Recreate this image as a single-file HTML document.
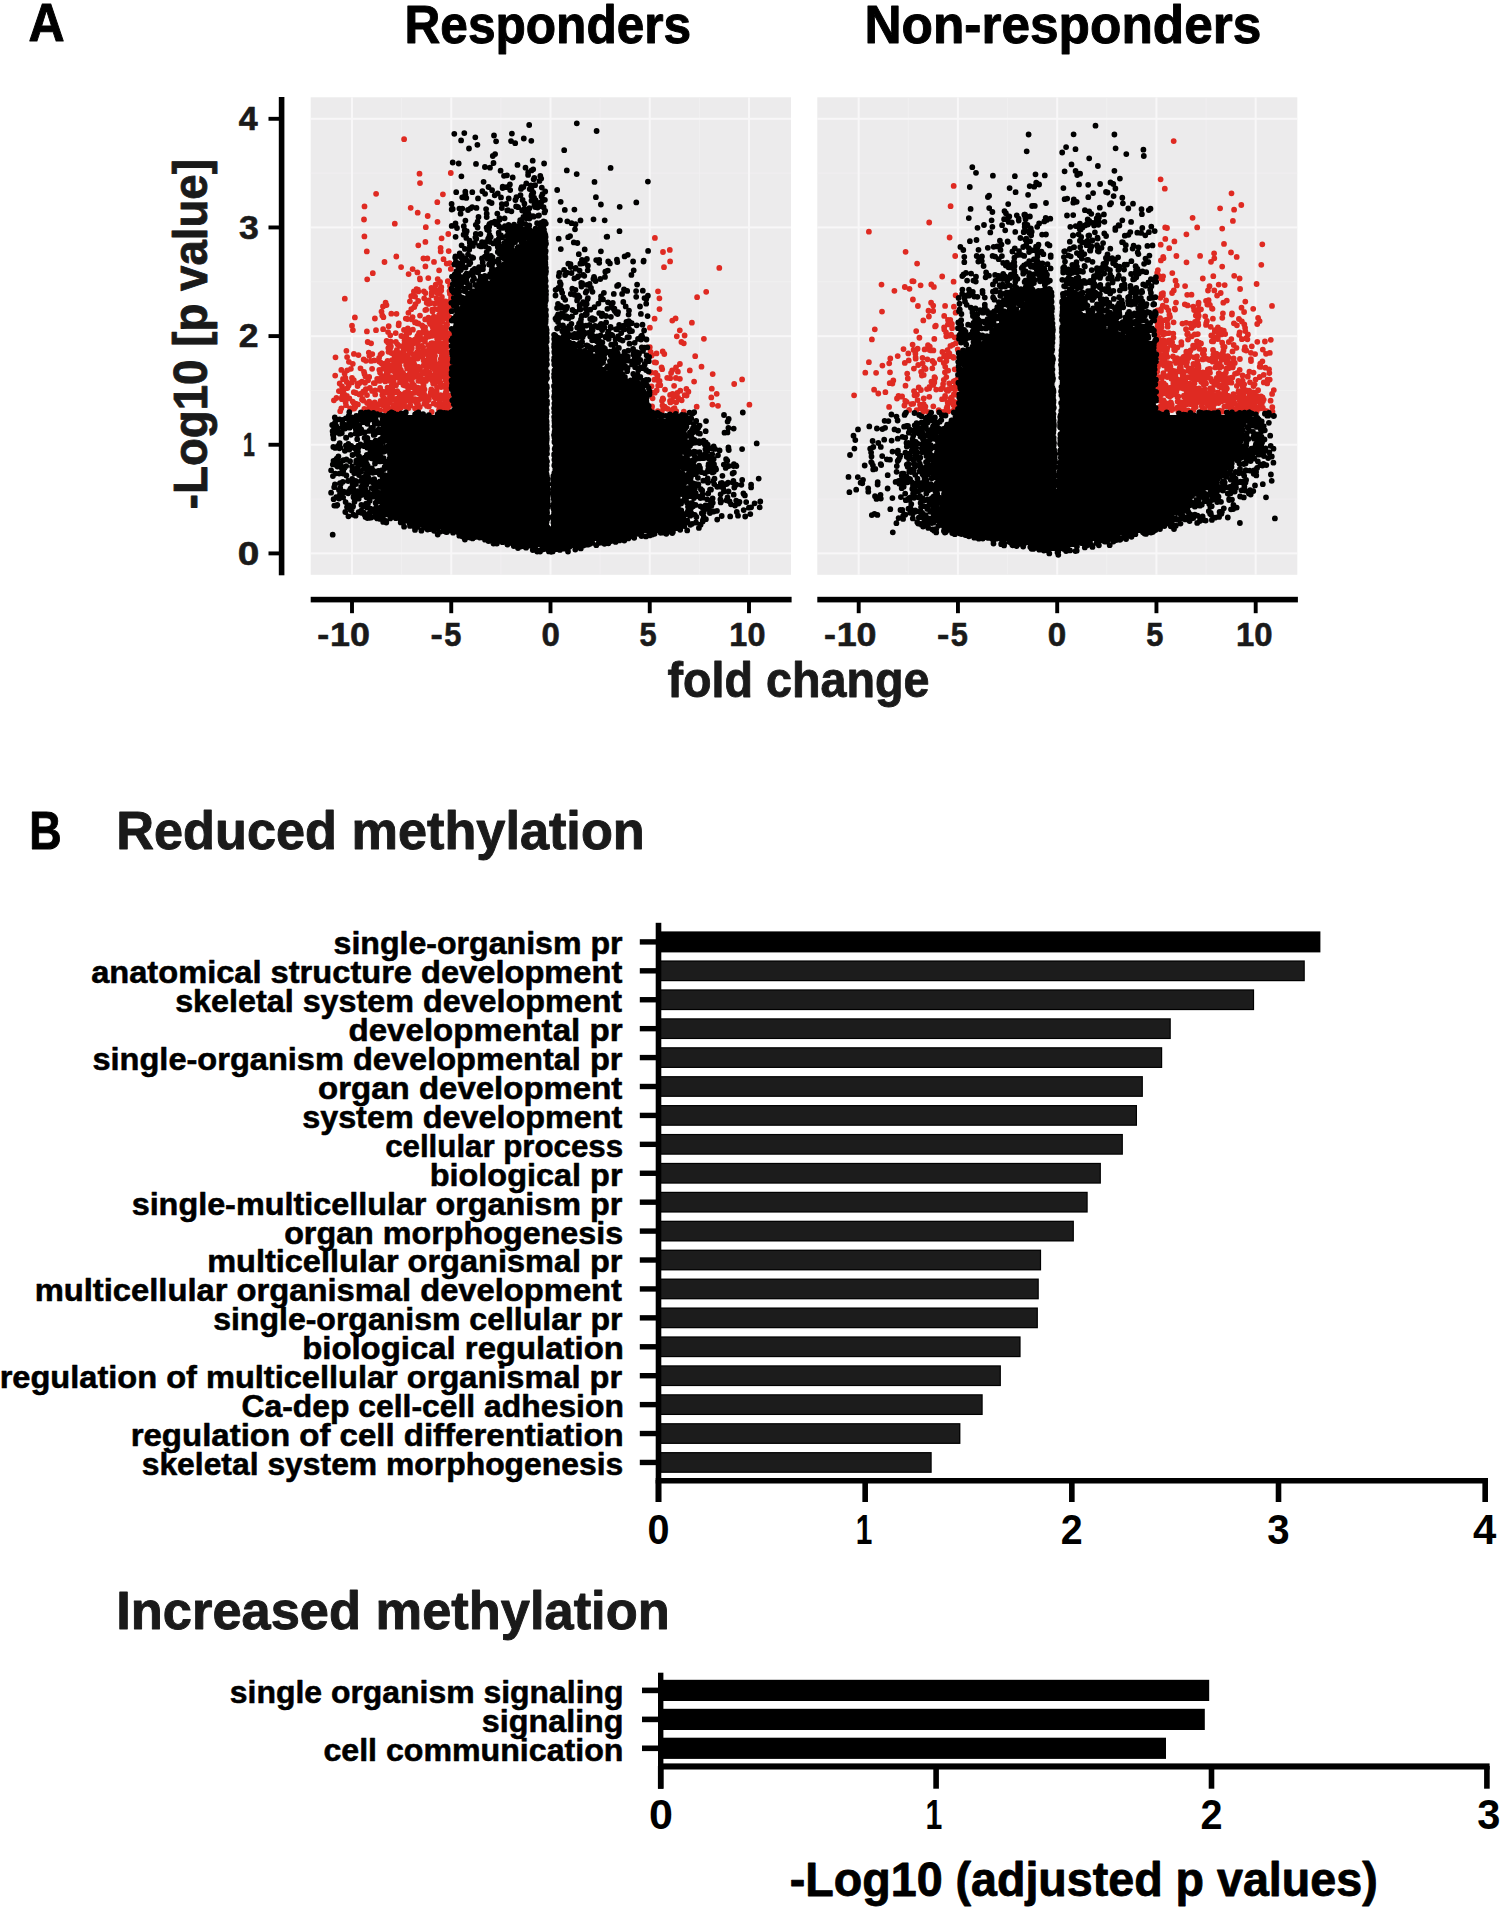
<!DOCTYPE html>
<html lang="en"><head><meta charset="utf-8"><title>Figure</title><style>html,body{margin:0;padding:0;background:#fff;width:1500px;height:1910px;overflow:hidden}svg{display:block;position:absolute;left:0;top:0}text{font-family:"Liberation Sans",sans-serif;font-weight:bold}</style></head><body>
<svg width="1500" height="1910" viewBox="0 0 1500 1910" font-family="Liberation Sans, sans-serif" font-weight="bold">
<rect x="0.00" y="0.00" width="1500.00" height="1910.00" fill="#fff"/>
<rect x="310.70" y="97.30" width="480.30" height="477.50" fill="#ecebec"/>
<g fill="#f1f0f1"><rect x="401.18" y="97.3" width="0.9" height="477.50"/><rect x="500.43" y="97.3" width="0.9" height="477.50"/><rect x="599.67" y="97.3" width="0.9" height="477.50"/><rect x="698.92" y="97.3" width="0.9" height="477.50"/><rect x="310.7" y="498.62" width="480.30" height="0.9"/><rect x="310.7" y="389.97" width="480.30" height="0.9"/><rect x="310.7" y="281.32" width="480.30" height="0.9"/><rect x="310.7" y="172.67" width="480.30" height="0.9"/></g>
<g fill="#f8f7f8"><rect x="351.00" y="97.3" width="2.0" height="477.50"/><rect x="450.25" y="97.3" width="2.0" height="477.50"/><rect x="549.50" y="97.3" width="2.0" height="477.50"/><rect x="648.75" y="97.3" width="2.0" height="477.50"/><rect x="748.00" y="97.3" width="2.0" height="477.50"/><rect x="310.7" y="552.40" width="480.30" height="2.0"/><rect x="310.7" y="443.75" width="480.30" height="2.0"/><rect x="310.7" y="335.10" width="480.30" height="2.0"/><rect x="310.7" y="226.45" width="480.30" height="2.0"/><rect x="310.7" y="117.80" width="480.30" height="2.0"/></g>
<rect x="817.30" y="97.30" width="480.00" height="477.50" fill="#ecebec"/>
<g fill="#f1f0f1"><rect x="907.88" y="97.3" width="0.9" height="477.50"/><rect x="1007.12" y="97.3" width="0.9" height="477.50"/><rect x="1106.38" y="97.3" width="0.9" height="477.50"/><rect x="1205.62" y="97.3" width="0.9" height="477.50"/><rect x="817.3" y="498.62" width="480.00" height="0.9"/><rect x="817.3" y="389.97" width="480.00" height="0.9"/><rect x="817.3" y="281.32" width="480.00" height="0.9"/><rect x="817.3" y="172.67" width="480.00" height="0.9"/></g>
<g fill="#f8f7f8"><rect x="857.70" y="97.3" width="2.0" height="477.50"/><rect x="956.95" y="97.3" width="2.0" height="477.50"/><rect x="1056.20" y="97.3" width="2.0" height="477.50"/><rect x="1155.45" y="97.3" width="2.0" height="477.50"/><rect x="1254.70" y="97.3" width="2.0" height="477.50"/><rect x="817.3" y="552.40" width="480.00" height="2.0"/><rect x="817.3" y="443.75" width="480.00" height="2.0"/><rect x="817.3" y="335.10" width="480.00" height="2.0"/><rect x="817.3" y="226.45" width="480.00" height="2.0"/><rect x="817.3" y="117.80" width="480.00" height="2.0"/></g>
<g fill="none" stroke-linecap="round" stroke-width="5.8"><path stroke="#df2a22" d="M448.3 234.0h0M364.4 236.4h0M441.6 238.3h0M425.4 241.9h0M418.3 245.3h0M440.6 247.9h0M366.8 251.4h0M440.7 251.4h0M448.7 251.1h0M396.3 256.5h0M423.4 258.5h0M427.4 258.4h0M443.5 259.2h0M384.5 262.0h0M434.0 261.9h0M446.7 263.6h0M449.7 263.1h0M425.4 266.4h0M401.1 267.1h0M450.8 268.9h0M412.6 269.1h0M439.1 270.3h0M417.4 272.4h0M372.8 273.2h0M408.6 274.1h0M419.9 278.5h0M428.3 278.1h0M367.2 279.3h0M420.0 279.4h0M437.7 279.1h0M440.1 281.8h0M447.8 281.2h0M439.6 282.7h0M435.7 284.7h0M450.0 285.6h0M450.2 286.0h0M450.2 286.6h0M431.4 287.9h0M441.3 287.2h0M440.1 288.8h0M416.5 289.2h0M417.9 289.7h0M434.6 289.3h0M441.2 290.5h0M413.9 291.4h0M418.3 291.4h0M423.9 291.3h0M431.8 291.8h0M449.5 291.1h0M437.3 292.8h0M425.5 293.1h0M431.8 293.7h0M439.7 293.2h0M449.9 293.7h0M450.8 293.3h0M431.6 295.3h0M411.2 296.2h0M415.1 296.6h0M441.9 297.0h0M451.1 297.2h0M697.1 297.2h0M344.8 298.7h0M424.2 298.3h0M436.5 298.2h0M659.4 298.3h0M450.9 299.6h0M418.2 301.0h0M428.8 300.4h0M409.9 301.3h0M439.9 301.1h0M445.7 301.5h0M385.6 302.7h0M426.7 302.8h0M437.2 302.8h0M437.2 302.3h0M441.9 302.2h0M428.6 303.9h0M431.3 303.1h0M434.9 303.4h0M442.4 303.2h0M448.3 303.8h0M451.1 303.5h0M415.5 304.2h0M386.5 305.1h0M440.0 305.2h0M441.8 305.5h0M444.8 305.6h0M383.0 306.5h0M414.3 307.0h0M447.3 306.6h0M449.0 306.9h0M447.4 308.0h0M440.8 308.0h0M449.6 309.0h0M411.3 309.2h0M426.2 309.7h0M432.2 309.6h0M434.6 309.1h0M437.7 309.3h0M443.1 309.2h0M659.5 309.1h0M425.3 310.1h0M448.9 310.9h0M381.5 311.6h0M432.6 311.4h0M440.5 311.2h0M443.7 311.4h0M447.1 311.2h0M408.4 312.8h0M391.3 313.7h0M396.5 313.8h0M439.1 314.9h0M440.7 314.4h0M382.3 315.4h0M420.0 315.6h0M439.8 315.2h0M445.3 315.5h0M447.3 315.6h0M447.5 315.4h0M433.8 316.7h0M444.2 316.1h0M354.9 317.4h0M383.4 317.2h0M412.6 317.1h0M428.5 317.7h0M437.8 317.7h0M440.5 317.9h0M449.5 317.2h0M374.9 318.5h0M405.8 318.6h0M428.3 318.6h0M433.7 318.2h0M654.6 318.7h0M675.6 318.4h0M407.4 319.0h0M411.9 319.4h0M425.2 319.4h0M442.6 319.9h0M443.9 319.0h0M448.5 319.9h0M448.9 319.2h0M429.3 320.7h0M435.0 320.4h0M443.0 320.1h0M672.3 320.6h0M433.9 321.7h0M433.3 321.3h0M435.6 321.6h0M442.5 321.9h0M415.0 322.4h0M415.7 322.1h0M429.5 322.4h0M435.4 322.5h0M438.0 322.6h0M438.6 323.0h0M691.9 322.7h0M398.8 323.5h0M417.1 323.3h0M418.3 323.5h0M430.3 323.5h0M430.3 323.9h0M439.9 323.2h0M446.7 324.8h0M447.1 324.6h0M352.0 325.7h0M398.6 325.3h0M422.0 325.3h0M446.6 325.4h0M388.7 326.2h0M422.7 326.3h0M432.5 326.8h0M438.5 326.4h0M440.4 326.9h0M425.1 327.3h0M434.1 327.2h0M436.1 327.2h0M446.5 327.2h0M649.9 327.7h0M407.8 328.3h0M423.6 328.6h0M435.9 328.9h0M440.5 328.6h0M443.0 328.0h0M383.1 329.2h0M404.0 329.9h0M412.9 329.7h0M434.2 329.7h0M439.2 329.5h0M445.8 329.4h0M352.9 330.1h0M376.0 330.2h0M423.9 330.6h0M445.8 330.2h0M679.8 330.3h0M366.9 331.4h0M425.8 331.4h0M432.5 331.6h0M445.7 331.9h0M388.1 332.1h0M409.2 332.7h0M419.0 332.8h0M421.9 332.6h0M434.2 332.5h0M446.4 332.6h0M395.7 333.1h0M406.6 333.9h0M429.7 333.7h0M440.0 333.7h0M442.2 333.6h0M451.2 333.4h0M426.4 334.7h0M427.4 334.5h0M436.0 334.2h0M446.0 334.7h0M390.3 335.3h0M406.4 335.1h0M417.7 335.7h0M420.2 335.5h0M432.1 335.8h0M684.6 335.5h0M401.3 336.0h0M417.2 336.6h0M428.8 336.5h0M439.3 336.0h0M441.8 336.4h0M450.9 336.5h0M676.8 336.3h0M417.6 337.6h0M441.2 337.1h0M442.2 337.5h0M447.7 337.4h0M419.6 338.3h0M419.9 338.4h0M425.4 338.4h0M437.1 338.8h0M438.3 338.5h0M703.9 338.8h0M405.8 339.4h0M408.7 339.4h0M415.3 339.5h0M417.5 340.0h0M438.7 339.1h0M386.6 340.9h0M404.5 340.2h0M411.6 340.4h0M413.0 340.8h0M419.7 340.1h0M445.7 340.8h0M446.4 340.9h0M390.8 341.6h0M395.9 341.9h0M414.8 341.5h0M416.9 341.9h0M424.9 341.5h0M446.7 341.6h0M367.7 342.0h0M388.0 342.4h0M404.6 342.6h0M415.1 342.3h0M681.4 342.0h0M371.1 343.3h0M410.4 343.3h0M412.7 343.8h0M431.1 343.4h0M432.0 343.1h0M434.1 343.6h0M436.2 344.0h0M441.1 343.5h0M683.8 343.3h0M397.5 344.3h0M404.2 345.0h0M405.0 344.4h0M435.0 344.6h0M439.4 344.1h0M446.0 344.8h0M389.3 345.1h0M399.4 345.9h0M406.0 345.7h0M407.5 345.3h0M418.0 345.1h0M421.5 345.8h0M428.4 345.2h0M430.1 345.7h0M438.9 345.7h0M442.3 345.6h0M389.4 346.6h0M390.9 346.4h0M435.1 346.0h0M442.6 346.9h0M445.3 346.6h0M447.5 346.5h0M390.6 347.4h0M404.8 347.4h0M406.5 347.5h0M411.8 348.0h0M423.1 347.7h0M435.3 347.4h0M439.9 348.0h0M440.2 347.7h0M441.7 347.8h0M445.9 347.3h0M649.8 347.2h0M388.3 348.1h0M403.5 348.5h0M405.6 348.8h0M407.3 348.5h0M411.7 348.4h0M418.2 348.3h0M396.9 349.8h0M428.9 349.2h0M433.5 349.8h0M435.3 350.0h0M435.6 349.8h0M346.4 350.8h0M437.2 350.8h0M440.7 350.5h0M442.9 350.9h0M443.7 350.6h0M388.5 351.8h0M409.6 351.1h0M410.7 351.5h0M427.1 351.7h0M440.0 351.6h0M650.6 352.0h0M662.7 351.4h0M368.8 352.6h0M391.5 353.0h0M398.9 353.0h0M403.6 352.7h0M410.5 352.5h0M417.0 352.5h0M420.3 352.7h0M425.2 352.3h0M448.8 352.3h0M353.9 353.9h0M381.9 353.3h0M393.6 353.2h0M400.8 353.5h0M423.9 353.3h0M428.9 353.7h0M656.5 353.4h0M664.3 354.0h0M372.3 354.1h0M380.5 354.6h0M396.2 354.8h0M413.6 354.4h0M416.0 354.4h0M427.9 354.8h0M429.0 354.3h0M430.8 354.8h0M445.6 354.0h0M358.5 355.1h0M369.4 355.8h0M399.7 355.7h0M404.1 356.0h0M407.9 355.3h0M407.7 355.1h0M417.0 355.9h0M419.6 355.3h0M420.8 355.5h0M433.2 355.4h0M435.0 355.8h0M441.7 355.4h0M651.7 355.5h0M400.7 356.7h0M418.0 356.5h0M417.4 356.8h0M422.5 356.7h0M446.7 357.0h0M695.2 356.2h0M335.5 357.3h0M347.1 357.1h0M379.1 357.8h0M394.5 357.1h0M396.6 357.9h0M398.7 357.4h0M417.7 357.8h0M417.8 357.8h0M443.8 357.1h0M396.9 358.2h0M402.2 358.6h0M409.3 359.0h0M416.0 358.2h0M417.7 358.5h0M431.4 358.4h0M440.8 358.9h0M447.8 358.5h0M363.7 359.4h0M401.0 359.8h0M406.2 359.4h0M412.2 359.4h0M428.1 359.5h0M434.5 359.1h0M444.8 359.2h0M446.6 359.0h0M450.9 359.9h0M365.9 360.8h0M371.1 360.9h0M374.1 360.4h0M392.0 360.1h0M404.2 360.6h0M409.5 360.4h0M409.0 360.7h0M423.6 360.4h0M444.5 360.0h0M348.9 361.8h0M379.2 361.4h0M387.6 361.0h0M401.3 361.1h0M425.1 361.1h0M434.8 361.4h0M442.2 361.6h0M380.7 362.6h0M395.8 362.4h0M429.4 362.5h0M432.9 362.3h0M433.3 362.3h0M440.6 362.7h0M444.5 363.0h0M654.6 362.3h0M656.1 362.6h0M352.8 363.8h0M381.7 363.5h0M385.3 363.3h0M394.4 363.6h0M413.9 363.1h0M430.0 363.4h0M431.0 363.9h0M432.7 363.9h0M448.3 363.4h0M388.2 364.9h0M396.6 364.7h0M397.4 364.0h0M411.0 364.1h0M413.1 364.8h0M426.7 365.0h0M431.8 364.1h0M437.8 364.9h0M437.4 364.8h0M679.9 364.0h0M398.7 365.4h0M399.5 365.8h0M406.1 365.1h0M410.5 365.7h0M414.8 365.5h0M423.6 365.4h0M438.6 365.8h0M446.2 365.7h0M451.0 365.8h0M388.0 366.3h0M390.6 366.6h0M391.1 366.0h0M397.6 367.0h0M407.6 366.3h0M412.3 366.3h0M418.6 366.8h0M425.7 366.2h0M430.2 366.5h0M440.7 366.6h0M444.5 366.4h0M444.1 366.7h0M701.5 366.7h0M391.5 367.5h0M394.1 367.9h0M414.3 367.3h0M414.6 367.2h0M415.6 367.5h0M416.3 367.9h0M420.1 367.8h0M432.1 367.3h0M435.4 367.1h0M438.9 367.4h0M446.6 367.5h0M448.9 367.3h0M449.5 367.5h0M661.6 367.3h0M676.0 367.3h0M350.9 368.8h0M360.5 368.3h0M372.1 368.8h0M383.1 368.5h0M391.5 369.0h0M394.0 368.4h0M407.1 368.2h0M407.4 368.6h0M410.4 368.6h0M417.3 368.1h0M441.1 368.9h0M444.5 368.6h0M448.4 368.8h0M341.3 369.9h0M379.3 369.8h0M389.6 369.8h0M396.6 369.3h0M400.9 369.9h0M413.3 369.1h0M419.2 369.5h0M426.0 369.7h0M434.5 369.5h0M662.2 369.2h0M347.2 370.3h0M392.2 370.6h0M393.4 371.0h0M395.8 370.8h0M437.6 370.4h0M437.7 370.1h0M441.6 370.5h0M443.9 370.4h0M672.2 370.3h0M689.8 370.4h0M364.0 371.9h0M386.7 371.5h0M388.3 371.7h0M398.1 371.1h0M399.7 371.8h0M411.3 371.4h0M417.1 371.8h0M423.4 371.9h0M677.9 371.7h0M380.0 372.6h0M396.7 372.6h0M403.1 372.9h0M414.5 372.2h0M415.4 372.0h0M426.5 372.0h0M429.3 372.5h0M438.1 372.7h0M449.3 372.7h0M450.9 372.4h0M651.1 372.5h0M655.5 372.9h0M344.6 373.4h0M364.5 373.9h0M386.8 373.9h0M395.8 373.9h0M399.2 373.7h0M410.1 373.0h0M422.7 373.6h0M423.3 373.1h0M423.5 373.4h0M444.0 373.6h0M671.1 373.0h0M399.6 374.7h0M426.5 374.4h0M434.7 374.5h0M437.8 374.1h0M712.7 374.1h0M335.2 375.6h0M400.4 375.3h0M403.4 375.7h0M407.2 375.7h0M416.8 375.0h0M418.9 375.7h0M450.0 375.4h0M657.5 375.4h0M365.5 376.5h0M369.2 376.9h0M383.4 376.1h0M394.3 376.8h0M401.1 377.0h0M402.7 376.4h0M405.2 376.0h0M415.3 376.6h0M419.7 376.0h0M430.6 376.6h0M434.9 376.7h0M436.6 376.3h0M438.6 376.1h0M439.8 376.1h0M439.2 376.1h0M443.4 376.5h0M444.6 376.2h0M657.6 376.6h0M345.4 378.0h0M352.0 377.9h0M385.1 378.0h0M390.1 377.2h0M391.4 377.3h0M392.8 377.5h0M398.0 377.6h0M407.5 377.2h0M413.0 377.3h0M416.9 377.1h0M419.2 377.2h0M421.0 377.1h0M445.8 377.2h0M667.2 377.8h0M675.9 377.9h0M343.0 379.0h0M377.2 378.9h0M380.8 378.0h0M381.0 378.7h0M401.4 379.0h0M409.3 378.8h0M412.0 378.7h0M429.6 378.8h0M431.3 378.4h0M435.1 378.5h0M436.8 378.3h0M439.3 378.9h0M670.2 378.2h0M679.9 378.8h0M381.1 380.0h0M384.9 379.7h0M393.7 379.1h0M411.2 379.7h0M424.8 379.6h0M425.1 379.7h0M445.6 380.0h0M446.4 379.9h0M654.4 379.7h0M742.1 379.4h0M353.8 380.1h0M368.1 380.3h0M379.8 380.9h0M392.0 380.9h0M419.0 380.3h0M418.4 380.8h0M422.5 380.2h0M425.9 380.9h0M447.9 381.0h0M449.1 380.6h0M658.3 380.5h0M346.7 381.9h0M362.0 381.7h0M385.3 381.4h0M390.1 381.1h0M400.2 381.1h0M401.1 381.1h0M405.0 381.7h0M420.7 381.1h0M432.6 381.0h0M437.1 381.5h0M659.6 381.0h0M694.1 381.6h0M352.0 382.4h0M365.0 382.8h0M393.7 382.2h0M400.0 382.0h0M412.1 383.0h0M434.5 382.8h0M434.2 382.3h0M440.4 382.7h0M339.7 383.5h0M357.8 383.8h0M359.3 383.2h0M373.8 383.1h0M374.8 383.2h0M404.4 383.3h0M404.2 383.6h0M405.8 383.1h0M433.2 383.6h0M447.0 383.9h0M391.8 385.0h0M404.8 384.1h0M406.4 384.3h0M423.6 384.9h0M447.2 384.9h0M448.2 384.2h0M734.2 384.0h0M348.7 385.6h0M396.0 385.2h0M403.4 385.0h0M404.9 385.5h0M405.1 385.1h0M406.5 385.7h0M414.0 385.2h0M423.2 385.7h0M445.4 385.1h0M447.4 385.9h0M658.2 385.6h0M660.3 385.2h0M674.1 385.8h0M342.0 386.3h0M357.6 386.0h0M408.2 386.6h0M411.1 386.9h0M651.5 386.3h0M387.5 387.6h0M392.5 387.1h0M411.7 387.2h0M417.9 387.6h0M423.6 387.3h0M437.0 387.4h0M441.1 387.0h0M445.7 387.2h0M347.4 388.1h0M369.8 388.0h0M380.2 388.0h0M389.5 388.6h0M408.1 388.3h0M421.3 388.5h0M686.4 389.0h0M711.8 388.7h0M365.8 389.2h0M380.6 389.9h0M387.8 389.7h0M388.6 389.8h0M415.1 389.9h0M416.8 389.6h0M419.5 389.1h0M424.5 389.5h0M431.3 389.4h0M446.2 389.5h0M447.5 389.2h0M665.0 389.6h0M343.5 390.2h0M372.1 390.9h0M375.2 390.4h0M389.5 390.0h0M446.4 390.9h0M656.7 390.5h0M680.3 390.7h0M338.9 391.1h0M363.5 391.5h0M364.9 391.4h0M384.0 391.8h0M387.3 391.0h0M393.2 391.0h0M397.2 391.1h0M418.5 391.1h0M421.8 391.0h0M434.3 391.7h0M436.6 391.0h0M688.4 391.7h0M353.8 392.2h0M386.1 392.6h0M394.7 392.4h0M409.4 392.9h0M414.3 392.8h0M430.8 392.1h0M431.6 392.1h0M434.1 392.9h0M445.6 392.9h0M652.7 392.7h0M654.9 392.7h0M677.3 392.8h0M342.7 393.7h0M356.0 393.0h0M361.4 393.4h0M388.9 393.2h0M399.0 393.3h0M405.0 393.0h0M418.8 393.3h0M424.1 393.8h0M431.3 393.0h0M716.7 393.8h0M344.9 394.8h0M359.4 394.4h0M375.2 394.4h0M382.3 394.9h0M404.6 394.7h0M422.7 394.8h0M430.2 394.9h0M435.6 394.8h0M446.1 394.1h0M670.1 394.9h0M672.6 394.0h0M346.9 395.8h0M367.0 395.1h0M390.7 395.1h0M392.0 396.0h0M402.0 395.1h0M410.9 395.3h0M433.7 395.2h0M440.5 395.1h0M445.8 395.3h0M449.1 395.5h0M684.7 395.2h0M686.6 395.6h0M344.2 396.1h0M389.9 396.8h0M401.3 396.1h0M424.9 396.2h0M436.2 396.7h0M447.0 396.5h0M673.3 396.4h0M342.0 397.2h0M383.3 397.6h0M406.9 397.1h0M434.7 397.6h0M436.9 397.8h0M442.2 397.1h0M678.1 397.6h0M711.3 397.4h0M336.4 398.0h0M341.9 398.8h0M343.0 398.7h0M347.0 398.3h0M348.5 398.4h0M349.4 398.3h0M384.3 398.5h0M391.5 398.7h0M397.6 399.0h0M397.0 398.6h0M402.0 398.0h0M422.8 398.5h0M427.3 398.5h0M428.2 398.8h0M435.7 398.7h0M438.2 398.6h0M442.9 398.8h0M443.0 398.7h0M652.6 398.3h0M662.8 398.3h0M341.9 399.2h0M362.3 399.0h0M362.0 399.6h0M391.5 399.9h0M400.3 399.2h0M411.6 399.2h0M414.9 399.2h0M418.8 399.4h0M420.1 399.1h0M428.9 399.1h0M439.9 399.2h0M443.7 399.2h0M663.2 399.2h0M681.4 399.9h0M333.9 400.3h0M363.2 400.5h0M380.6 400.9h0M388.1 400.5h0M396.6 400.6h0M400.3 400.2h0M406.3 400.7h0M411.5 400.5h0M413.5 400.5h0M415.4 400.3h0M427.1 401.0h0M428.5 400.1h0M448.0 400.5h0M662.0 400.8h0M670.0 400.9h0M681.7 400.3h0M352.7 401.6h0M369.1 401.6h0M385.8 401.5h0M387.8 401.1h0M409.4 401.1h0M416.7 401.3h0M672.4 401.3h0M345.6 402.2h0M353.7 402.9h0M369.6 402.5h0M374.7 402.4h0M389.9 402.5h0M396.1 402.7h0M400.5 403.0h0M416.3 402.6h0M425.5 402.8h0M447.2 402.2h0M670.4 402.4h0M676.2 402.3h0M356.4 403.9h0M367.1 403.1h0M381.6 403.3h0M382.0 403.7h0M404.1 403.2h0M416.6 403.1h0M418.0 403.9h0M424.4 403.8h0M433.7 403.4h0M439.5 403.5h0M445.0 403.4h0M449.9 403.7h0M450.3 403.9h0M357.9 404.4h0M379.0 404.5h0M383.5 404.5h0M402.9 404.8h0M436.6 404.8h0M441.4 404.7h0M448.0 404.6h0M712.4 404.6h0M749.4 404.7h0M346.0 405.2h0M373.0 405.2h0M383.5 405.2h0M393.8 405.7h0M410.3 405.4h0M426.7 405.0h0M427.0 405.9h0M438.9 405.4h0M449.7 405.2h0M662.5 405.4h0M718.0 405.8h0M355.2 406.9h0M371.3 406.5h0M376.1 406.8h0M387.3 406.1h0M395.7 406.4h0M400.2 406.8h0M401.0 406.2h0M406.3 406.9h0M417.2 406.5h0M418.4 406.5h0M428.9 406.4h0M446.0 406.0h0M651.5 406.9h0M652.1 406.4h0M663.4 406.6h0M664.6 406.7h0M696.7 406.7h0M369.8 407.1h0M388.0 407.2h0M399.7 407.8h0M401.0 407.5h0M418.9 407.6h0M419.8 407.1h0M447.4 407.3h0M341.3 408.3h0M350.2 408.4h0M352.3 408.7h0M354.2 408.6h0M364.3 409.0h0M368.9 408.2h0M392.9 408.4h0M398.7 408.3h0M399.4 408.8h0M408.6 408.1h0M415.0 408.3h0M417.6 408.3h0M445.3 408.6h0M663.2 408.4h0M666.1 408.1h0M667.7 408.8h0M674.5 408.1h0M350.5 409.3h0M375.7 409.5h0M378.5 409.6h0M385.3 410.0h0M389.3 409.4h0M393.0 409.6h0M398.4 409.0h0M439.0 410.0h0M440.8 409.2h0M442.0 409.7h0M445.9 409.0h0M651.7 409.1h0M673.4 409.4h0M673.1 409.1h0M366.1 410.7h0M377.9 410.3h0M380.0 410.2h0M385.5 410.5h0M389.0 411.0h0M395.2 410.5h0M441.2 411.0h0M448.2 410.2h0M340.2 411.2h0M370.6 411.8h0M371.3 411.0h0M390.8 411.8h0M418.2 411.3h0M440.6 411.8h0M441.4 411.4h0M444.0 411.5h0M657.8 411.1h0M661.8 411.6h0M676.2 411.2h0M683.8 411.6h0M372.5 412.0h0M431.7 412.0h0M672.0 412.1h0M404.1 139.2h0M419.5 173.7h0M450.8 173.0h0M420.0 183.1h0M376.1 193.8h0M442.9 194.3h0M364.5 206.4h0M437.3 202.2h0M410.7 207.8h0M364.0 219.5h0M417.7 212.7h0M427.7 216.0h0M437.5 221.8h0M394.8 223.7h0M425.8 227.2h0M654.9 237.9h0M663.0 252.0h0M669.8 249.9h0M670.1 261.4h0M664.0 267.2h0M719.3 267.9h0M706.2 291.8h0M658.0 291.3h0"/><path stroke="#000" d="M540 236H542M534 238H542M530 242H542M524 244H542M522 248H542M520 250H542M518 254H542M514 256H542M512 260H542M510 262H542M508 266H542M506 268H542M502 272H542M500 274H542M498 278H542M496 280H542M492 284H542M490 286H542M486 290H542M484 292H542M480 296H542M476 298H542M474 302H542M470 304H542M466 308H542M464 310H542M458 314H542M456 316H542M456 320H542M456 322H542M456 326H542M456 328H542M456 332H542M456 334H542M456 338H542M456 340H542M558 340H562M456 344H542M558 344H566M456 346H542M558 346H570M456 350H542M558 350H574M456 352H542M558 352H578M456 356H542M558 356H582M456 358H542M558 358H586M456 362H542M558 362H592M456 364H542M558 364H596M456 368H542M558 368H600M456 370H542M558 370H604M456 374H542M558 374H608M456 376H542M558 376H612M456 380H542M558 380H616M456 382H542M558 382H620M456 386H542M558 386H622M456 388H542M558 388H626M456 392H542M558 392H628M456 394H542M558 394H632M456 398H542M558 398H634M456 400H542M558 400H638M456 404H542M558 404H640M456 406H542M558 406H644M456 410H542M558 410H646M456 412H542M558 412H646M452 416H542M558 416H646M390 418H542M558 418H648M390 422H542M558 422H676M390 424H542M558 424H678M390 428H542M558 428H678M390 430H542M558 430H678M390 434H542M558 434H678M390 436H542M558 436H678M390 440H542M558 440H678M390 442H542M558 442H678M390 446H542M558 446H678M390 448H542M558 448H678M390 452H542M558 452H678M390 454H542M558 454H678M390 458H542M558 458H678M390 460H542M558 460H678M390 464H542M558 464H678M390 466H542M558 466H678M390 470H542M558 470H678M390 472H542M558 472H678M390 476H542M558 476H678M390 478H544M558 478H678M390 482H544M558 482H678M390 484H544M558 484H678M390 488H544M558 488H678M390 490H544M558 490H678M390 494H544M558 494H678M390 496H544M558 496H678M390 500H544M558 500H678M390 502H544M558 502H678M390 506H544M558 506H678M390 508H544M558 508H678M390 512H544M558 512H678M392 514H544M558 514H678M404 518H544M558 518H678M414 520H544M558 520H678M424 524H544M558 524H678M436 526H544M558 526H674M450 530H544M556 530H658M466 532H544M556 532H640M482 536H544M556 536H624M498 538H544M556 538H608M512 542H546M556 542H590M528 544H546M556 544H574M544 548H546M556 548H558M500.6 170.7h0M531.6 170.4h0M566.8 170.4h0M528.2 172.4h0M528.1 174.9h0M576.7 174.1h0M504.0 175.8h0M507.0 175.3h0M461.4 176.3h0M540.3 176.0h0M512.7 177.5h0M534.3 177.8h0M541.2 178.6h0M533.6 179.3h0M539.5 180.9h0M483.6 181.8h0M594.5 181.9h0M647.9 181.6h0M526.3 183.4h0M509.9 184.4h0M530.9 185.4h0M535.1 185.2h0M502.7 186.7h0M531.9 186.2h0M488.5 187.0h0M506.5 187.2h0M521.6 187.1h0M523.4 187.1h0M541.8 187.6h0M502.6 188.1h0M521.0 188.9h0M529.7 189.1h0M531.6 189.8h0M492.1 190.2h0M510.2 190.1h0M557.2 190.0h0M465.3 191.7h0M482.4 191.2h0M545.2 191.5h0M456.2 192.2h0M472.3 192.2h0M533.3 192.7h0M485.1 193.8h0M497.7 193.3h0M465.4 194.5h0M531.7 194.7h0M542.5 194.2h0M494.7 195.3h0M520.5 195.2h0M532.0 196.7h0M531.4 196.0h0M541.5 196.5h0M462.2 197.3h0M464.4 197.4h0M466.3 197.9h0M501.0 197.4h0M516.4 197.2h0M534.1 197.7h0M595.9 197.2h0M478.0 198.4h0M508.7 198.5h0M515.4 199.9h0M522.6 199.9h0M544.9 199.8h0M515.4 200.1h0M531.5 200.7h0M535.6 200.1h0M542.7 200.4h0M542.7 200.6h0M489.3 201.8h0M541.5 201.8h0M560.7 201.8h0M636.3 202.4h0M451.6 203.9h0M491.6 203.0h0M506.3 204.0h0M524.4 203.7h0M538.8 203.1h0M501.8 204.1h0M540.9 204.2h0M600.9 204.5h0M534.4 205.2h0M516.1 206.4h0M517.1 206.6h0M539.5 206.3h0M619.7 206.8h0M472.2 207.1h0M476.5 207.9h0M501.8 208.0h0M518.1 207.2h0M535.2 207.1h0M537.6 207.6h0M543.6 207.2h0M452.7 208.9h0M459.4 208.6h0M462.3 208.6h0M470.6 208.3h0M529.4 208.2h0M451.7 209.5h0M486.1 209.1h0M523.3 209.9h0M523.9 209.2h0M525.8 209.3h0M564.8 209.9h0M574.4 209.6h0M468.0 210.0h0M507.9 210.2h0M507.3 210.4h0M522.2 210.5h0M545.2 210.8h0M511.4 211.3h0M528.3 212.8h0M544.5 212.4h0M460.6 213.7h0M486.7 213.7h0M497.3 213.6h0M525.7 213.4h0M526.5 213.8h0M528.5 214.2h0M539.0 215.3h0M538.2 215.7h0M478.5 216.9h0M523.4 216.8h0M526.9 216.3h0M531.3 216.4h0M533.1 216.2h0M533.6 216.7h0M486.7 217.1h0M527.4 218.0h0M499.4 218.1h0M504.6 218.3h0M526.3 218.3h0M529.4 218.5h0M499.6 219.7h0M593.5 219.3h0M465.4 220.6h0M520.2 220.2h0M560.0 220.3h0M580.5 220.4h0M604.7 220.3h0M477.6 221.7h0M494.8 221.6h0M521.6 221.7h0M543.6 221.5h0M544.8 222.0h0M567.3 221.3h0M491.5 222.8h0M519.9 222.5h0M521.1 222.9h0M540.9 222.8h0M455.5 223.5h0M489.6 223.8h0M497.7 223.8h0M537.1 223.2h0M540.0 223.9h0M545.8 223.6h0M571.5 223.2h0M475.8 224.8h0M496.1 224.2h0M514.1 224.6h0M525.2 224.0h0M575.5 224.2h0M451.7 225.9h0M489.0 225.1h0M508.6 225.0h0M528.3 225.7h0M529.3 225.3h0M540.2 225.3h0M541.2 225.4h0M543.6 225.5h0M463.8 226.2h0M489.2 226.8h0M499.1 226.5h0M504.9 226.1h0M518.7 226.4h0M520.3 226.1h0M527.9 226.7h0M541.8 226.8h0M477.6 227.5h0M486.6 227.6h0M501.1 227.8h0M502.4 227.9h0M512.0 227.3h0M515.2 227.4h0M526.8 227.5h0M540.5 227.1h0M457.0 228.0h0M517.0 228.4h0M521.3 228.8h0M535.5 228.6h0M539.6 228.8h0M540.2 228.9h0M487.1 229.6h0M507.4 229.9h0M523.7 229.9h0M529.2 229.1h0M544.0 229.6h0M575.0 229.3h0M464.7 230.2h0M488.8 230.8h0M466.7 231.2h0M509.5 231.3h0M519.2 231.6h0M521.4 231.3h0M523.7 232.0h0M529.2 232.0h0M533.7 231.2h0M619.5 231.2h0M498.7 232.7h0M511.0 232.4h0M511.7 232.5h0M513.7 232.5h0M514.9 232.1h0M519.2 232.0h0M537.5 232.8h0M544.5 233.0h0M465.9 233.5h0M475.8 233.8h0M480.4 234.0h0M508.4 233.3h0M514.1 233.7h0M523.2 234.0h0M528.6 233.4h0M529.3 233.8h0M541.2 233.7h0M544.6 233.2h0M463.6 234.7h0M499.0 234.4h0M513.9 234.6h0M523.9 234.4h0M545.3 234.9h0M489.6 235.2h0M501.0 235.4h0M506.8 236.0h0M519.3 235.7h0M522.5 236.0h0M523.9 235.2h0M530.0 235.8h0M532.5 235.2h0M537.8 235.0h0M455.6 236.8h0M511.0 236.9h0M511.2 237.0h0M517.6 236.8h0M520.9 236.2h0M524.6 236.1h0M544.8 236.8h0M544.6 236.5h0M545.6 237.0h0M570.1 236.1h0M606.6 236.8h0M607.2 236.7h0M466.3 237.9h0M475.4 237.3h0M488.9 237.4h0M490.7 237.1h0M502.1 237.3h0M508.0 237.3h0M515.7 237.4h0M527.4 237.2h0M544.7 237.9h0M568.2 237.2h0M476.3 238.7h0M522.9 238.4h0M532.9 238.5h0M558.7 238.7h0M488.1 239.0h0M498.4 239.5h0M511.8 239.4h0M520.5 239.9h0M529.6 239.4h0M469.6 240.7h0M514.9 240.1h0M523.8 240.9h0M543.8 240.4h0M543.2 240.6h0M544.3 240.2h0M544.4 240.4h0M489.9 241.8h0M496.0 241.0h0M498.0 241.5h0M506.1 241.4h0M521.6 241.6h0M521.3 241.8h0M544.2 241.8h0M545.6 241.1h0M469.8 242.7h0M474.8 242.8h0M482.0 242.1h0M485.3 242.1h0M498.5 242.6h0M506.4 242.8h0M509.3 243.0h0M509.6 242.1h0M515.1 242.0h0M522.1 242.9h0M525.7 242.9h0M544.5 242.4h0M544.0 242.6h0M573.8 242.4h0M577.4 243.0h0M493.3 243.4h0M504.3 243.2h0M546.0 243.7h0M509.3 244.5h0M544.6 244.6h0M461.6 245.3h0M469.9 245.8h0M472.9 245.9h0M479.2 245.8h0M483.6 245.7h0M498.4 245.8h0M507.1 245.5h0M511.9 245.3h0M542.6 245.3h0M481.1 246.4h0M485.5 246.4h0M500.3 246.6h0M519.9 246.9h0M543.1 246.6h0M545.0 246.6h0M544.9 246.7h0M544.8 246.4h0M497.8 247.1h0M502.7 247.2h0M518.2 247.1h0M544.7 247.7h0M464.9 248.9h0M488.8 248.7h0M505.3 248.9h0M509.9 248.4h0M511.3 248.3h0M517.4 248.2h0M469.2 249.8h0M510.0 249.8h0M517.2 249.3h0M544.7 249.2h0M560.8 249.1h0M584.7 249.4h0M501.6 250.5h0M502.6 250.3h0M506.5 250.3h0M510.8 250.1h0M513.9 250.8h0M517.1 250.4h0M545.7 250.9h0M648.1 250.9h0M497.8 252.0h0M509.8 251.9h0M600.9 251.3h0M486.7 252.2h0M503.3 252.5h0M508.3 252.8h0M510.3 252.3h0M514.9 252.6h0M543.6 252.2h0M544.2 252.7h0M544.5 252.1h0M545.3 252.8h0M459.7 253.3h0M499.3 253.5h0M512.7 254.0h0M513.8 253.9h0M516.2 253.7h0M542.8 253.8h0M544.9 253.4h0M544.3 253.4h0M468.0 254.7h0M508.6 254.8h0M544.4 254.3h0M544.8 254.3h0M578.8 254.2h0M627.8 254.8h0M459.2 255.9h0M462.0 255.8h0M491.1 256.0h0M506.6 255.6h0M455.4 256.5h0M484.9 256.7h0M502.4 256.3h0M513.8 256.4h0M624.6 256.4h0M455.2 257.5h0M461.0 257.2h0M471.8 257.1h0M473.2 257.8h0M488.2 257.8h0M492.5 257.1h0M502.2 257.1h0M505.3 257.9h0M507.3 257.1h0M507.9 257.7h0M545.5 257.1h0M482.0 258.5h0M487.6 258.7h0M492.3 258.2h0M504.3 258.6h0M543.4 258.2h0M544.3 258.1h0M545.5 258.7h0M465.1 259.0h0M490.0 259.8h0M498.5 259.3h0M510.8 259.5h0M586.9 259.0h0M599.2 259.8h0M616.9 259.7h0M466.5 260.2h0M492.0 260.4h0M509.2 260.2h0M581.9 260.0h0M596.2 260.1h0M643.7 260.6h0M455.9 261.6h0M462.9 261.5h0M469.9 261.9h0M496.4 261.5h0M497.6 261.2h0M498.8 261.9h0M544.2 261.7h0M585.0 261.1h0M608.2 261.5h0M633.1 261.5h0M643.5 261.5h0M470.3 262.8h0M482.7 262.4h0M508.0 262.7h0M508.5 263.0h0M544.2 262.0h0M545.3 262.4h0M599.2 262.8h0M617.3 262.0h0M459.8 263.4h0M462.3 263.2h0M504.5 263.9h0M509.0 263.4h0M544.2 263.4h0M544.8 263.1h0M568.3 263.7h0M580.4 263.7h0M580.5 263.3h0M582.8 263.3h0M609.9 263.4h0M454.4 264.4h0M469.1 264.2h0M489.1 264.5h0M492.1 264.5h0M499.3 264.5h0M499.1 264.7h0M544.0 264.8h0M545.4 264.5h0M570.5 264.2h0M483.2 265.8h0M587.9 265.7h0M458.2 266.8h0M505.3 266.6h0M542.7 266.8h0M462.3 267.8h0M464.3 267.3h0M465.6 267.6h0M479.0 267.2h0M481.3 268.0h0M482.8 267.3h0M544.2 267.5h0M544.2 267.2h0M544.8 267.2h0M545.9 267.9h0M570.7 267.1h0M459.2 269.0h0M474.7 268.9h0M492.1 268.0h0M502.8 268.5h0M544.2 268.6h0M575.7 268.7h0M575.7 268.0h0M482.9 269.2h0M497.3 269.7h0M499.0 269.2h0M544.4 269.6h0M544.2 269.6h0M564.1 269.8h0M460.8 270.1h0M472.7 270.5h0M491.7 270.0h0M544.8 271.0h0M579.6 270.6h0M587.7 270.3h0M607.8 270.6h0M633.7 270.3h0M456.3 271.4h0M478.5 271.2h0M493.1 271.3h0M500.9 271.7h0M546.0 271.4h0M545.6 271.6h0M605.3 271.7h0M471.0 272.8h0M477.9 272.2h0M478.1 272.5h0M493.0 272.6h0M498.7 272.9h0M542.6 272.1h0M544.2 272.4h0M566.8 272.7h0M458.3 273.3h0M466.6 273.6h0M496.2 273.7h0M500.8 273.4h0M544.9 273.5h0M545.7 273.4h0M545.5 273.8h0M559.3 273.0h0M571.5 273.0h0M454.5 274.7h0M458.0 274.2h0M472.8 274.4h0M490.1 274.2h0M498.6 274.9h0M542.7 274.0h0M543.7 274.6h0M565.1 275.0h0M583.3 274.9h0M631.4 274.9h0M465.3 275.4h0M472.8 275.6h0M484.8 275.9h0M543.9 275.4h0M544.9 275.4h0M583.1 275.1h0M584.3 275.8h0M452.0 276.6h0M460.5 276.8h0M467.4 276.2h0M480.7 276.7h0M489.4 276.4h0M490.6 276.7h0M490.5 276.9h0M544.2 276.6h0M558.8 276.0h0M578.4 276.1h0M605.0 276.9h0M466.3 278.0h0M483.3 277.8h0M495.4 277.8h0M495.1 277.7h0M543.9 277.3h0M544.1 277.6h0M544.8 277.9h0M545.1 277.6h0M577.8 277.0h0M594.0 277.0h0M594.2 277.4h0M456.1 278.7h0M463.3 278.3h0M465.4 278.1h0M466.3 278.9h0M474.0 278.5h0M484.9 278.0h0M544.3 278.5h0M574.4 278.4h0M593.4 278.9h0M453.8 279.3h0M455.5 279.6h0M457.9 279.7h0M485.4 279.7h0M493.8 279.5h0M544.7 279.7h0M545.4 279.5h0M600.3 279.0h0M457.0 280.5h0M472.8 280.6h0M479.1 281.0h0M481.0 280.2h0M545.7 280.8h0M545.5 280.6h0M455.4 281.3h0M456.5 281.1h0M481.9 281.1h0M482.9 281.1h0M492.8 281.3h0M544.9 281.8h0M595.6 281.1h0M462.4 282.5h0M467.0 282.6h0M483.3 282.3h0M486.1 282.7h0M492.9 282.7h0M545.2 282.2h0M559.9 282.2h0M581.2 282.8h0M489.6 283.3h0M544.5 283.4h0M582.1 283.2h0M589.6 283.8h0M452.8 284.2h0M458.7 284.5h0M475.3 284.9h0M483.0 284.7h0M544.1 285.0h0M560.7 284.1h0M581.4 284.3h0M583.0 284.8h0M587.0 284.8h0M618.4 284.9h0M637.1 284.6h0M461.1 286.0h0M469.4 285.1h0M483.0 285.9h0M484.4 285.3h0M544.7 285.4h0M545.0 286.0h0M560.5 285.1h0M617.1 285.9h0M457.4 286.8h0M468.1 286.4h0M478.8 286.3h0M484.3 286.2h0M488.3 286.7h0M543.4 286.3h0M544.7 286.4h0M545.0 286.6h0M544.6 286.3h0M545.1 286.3h0M545.0 286.3h0M545.8 286.5h0M581.5 286.5h0M469.8 287.1h0M482.6 287.9h0M487.4 287.4h0M558.4 288.0h0M591.0 287.9h0M451.6 288.6h0M466.0 288.4h0M477.5 288.5h0M478.0 288.6h0M481.8 288.5h0M544.1 288.5h0M545.3 288.4h0M545.2 288.3h0M572.3 288.7h0M478.7 289.6h0M545.5 289.6h0M555.6 289.8h0M575.5 289.8h0M624.0 289.5h0M452.1 290.5h0M455.1 290.2h0M464.4 291.0h0M542.4 290.8h0M545.1 290.7h0M561.2 290.1h0M627.2 290.9h0M642.8 290.7h0M459.4 291.2h0M473.7 291.4h0M546.0 291.1h0M586.6 291.1h0M592.5 291.8h0M636.1 291.1h0M453.5 292.2h0M457.4 292.1h0M471.1 292.7h0M478.7 292.4h0M478.9 292.8h0M480.5 292.7h0M562.2 292.8h0M585.7 292.6h0M603.9 292.8h0M467.9 293.5h0M471.1 293.7h0M480.9 293.6h0M543.4 293.8h0M544.6 293.8h0M613.8 293.9h0M622.1 293.9h0M469.8 294.1h0M474.1 294.7h0M542.3 294.2h0M546.0 294.3h0M570.8 294.0h0M574.4 294.7h0M456.9 295.1h0M472.0 295.5h0M545.8 295.8h0M555.5 295.5h0M578.2 295.3h0M647.9 295.7h0M456.2 296.7h0M459.4 296.1h0M468.5 296.7h0M477.8 296.4h0M601.0 296.3h0M636.2 296.8h0M453.8 297.8h0M459.1 297.8h0M460.6 297.1h0M462.0 297.6h0M461.3 297.5h0M467.9 297.1h0M544.7 297.5h0M545.8 298.0h0M563.5 297.5h0M577.2 297.2h0M579.4 297.1h0M455.3 298.2h0M455.3 298.6h0M461.2 298.7h0M464.5 298.3h0M466.9 298.4h0M542.9 298.8h0M545.5 299.0h0M587.9 298.1h0M644.5 298.1h0M646.3 298.9h0M460.4 299.1h0M470.3 299.4h0M471.6 299.7h0M473.7 299.9h0M544.4 299.9h0M565.2 299.8h0M587.6 299.0h0M601.0 299.4h0M603.0 299.4h0M463.2 300.3h0M543.2 300.2h0M545.9 300.3h0M577.1 300.4h0M542.3 301.5h0M543.8 301.3h0M544.3 301.7h0M544.7 301.8h0M545.2 301.4h0M623.3 302.0h0M451.4 302.8h0M454.6 302.3h0M456.5 302.9h0M461.7 302.8h0M465.9 302.4h0M467.4 302.5h0M467.5 302.2h0M544.1 302.6h0M544.5 302.4h0M545.3 302.0h0M583.1 302.1h0M608.0 302.3h0M612.8 302.8h0M543.2 303.8h0M558.0 303.8h0M582.6 303.5h0M586.7 303.9h0M598.4 303.6h0M646.2 303.7h0M542.3 304.1h0M544.5 304.7h0M585.3 304.5h0M453.8 305.6h0M453.7 305.1h0M454.5 305.9h0M456.6 305.5h0M456.6 305.3h0M467.3 305.9h0M545.0 305.5h0M579.6 305.5h0M611.5 305.3h0M542.6 306.1h0M544.7 306.5h0M560.8 306.0h0M567.1 306.8h0M625.7 306.4h0M640.0 306.5h0M462.1 307.9h0M463.9 307.0h0M557.3 307.9h0M560.3 307.8h0M563.0 307.1h0M579.8 308.0h0M594.4 307.2h0M612.7 307.9h0M557.1 308.0h0M566.4 308.6h0M580.0 308.5h0M585.8 308.7h0M607.4 308.8h0M614.4 308.6h0M457.7 309.6h0M459.7 309.7h0M545.9 309.8h0M580.4 309.5h0M590.3 309.7h0M456.5 310.3h0M461.7 310.0h0M544.9 310.1h0M565.2 310.1h0M572.5 310.0h0M614.5 310.5h0M629.0 310.6h0M451.7 311.2h0M544.6 311.1h0M545.1 311.3h0M545.3 312.0h0M545.3 311.7h0M575.7 312.0h0M615.1 311.2h0M457.4 312.1h0M544.4 312.7h0M616.3 312.9h0M618.1 312.1h0M545.6 313.9h0M561.4 313.6h0M562.6 313.6h0M586.8 313.9h0M599.2 313.1h0M602.2 313.7h0M640.9 313.9h0M542.6 314.9h0M545.9 314.9h0M558.1 314.3h0M585.5 314.2h0M585.6 315.0h0M617.6 314.1h0M628.6 314.6h0M544.8 315.7h0M545.6 315.8h0M558.3 315.4h0M565.2 315.8h0M581.7 315.8h0M546.0 316.1h0M557.1 316.4h0M563.2 316.6h0M566.6 316.3h0M572.0 316.5h0M601.7 316.1h0M605.9 316.0h0M610.9 316.8h0M647.6 316.1h0M559.3 317.9h0M565.7 317.9h0M453.7 318.5h0M545.1 318.0h0M555.5 318.6h0M568.5 318.4h0M591.1 318.8h0M592.2 318.1h0M545.7 319.5h0M556.1 319.8h0M581.0 319.3h0M590.2 319.1h0M593.2 320.0h0M594.7 319.1h0M451.8 320.6h0M452.9 320.3h0M544.7 320.7h0M544.3 320.0h0M545.4 320.3h0M544.5 321.4h0M545.6 321.2h0M580.7 321.6h0M626.4 321.8h0M628.8 321.2h0M542.6 322.1h0M544.5 322.7h0M545.5 322.8h0M558.0 322.1h0M606.1 322.5h0M571.4 323.8h0M579.6 323.0h0M579.0 323.7h0M629.2 324.0h0M631.7 323.2h0M581.2 324.4h0M589.6 325.0h0M601.1 324.0h0M619.2 324.9h0M628.3 324.6h0M642.5 324.7h0M544.8 325.7h0M559.8 325.3h0M560.1 325.6h0M562.9 325.3h0M578.9 325.3h0M581.1 325.0h0M585.9 325.7h0M595.0 325.9h0M600.0 325.5h0M623.7 325.7h0M623.8 325.7h0M636.7 325.3h0M569.3 326.2h0M569.6 327.0h0M543.7 327.1h0M546.1 327.6h0M564.0 327.7h0M577.2 327.5h0M579.4 327.7h0M598.0 327.3h0M604.4 327.5h0M610.8 327.8h0M610.6 327.0h0M621.7 327.6h0M451.7 328.8h0M557.6 328.1h0M557.1 328.5h0M570.7 328.7h0M582.2 328.5h0M545.3 329.3h0M546.6 329.9h0M591.8 329.0h0M601.8 329.2h0M617.0 329.3h0M616.1 329.2h0M624.5 329.3h0M629.1 329.0h0M453.8 330.7h0M454.5 330.4h0M563.1 330.5h0M566.4 330.5h0M592.6 330.0h0M602.2 330.0h0M629.5 330.8h0M644.1 330.5h0M562.3 331.3h0M567.3 331.5h0M608.3 331.7h0M629.7 331.2h0M632.0 331.1h0M543.5 332.4h0M579.8 332.7h0M584.1 332.2h0M589.0 332.7h0M454.6 333.5h0M546.7 333.1h0M546.0 333.4h0M574.7 333.9h0M578.7 333.1h0M584.7 333.3h0M585.2 333.2h0M591.8 333.6h0M607.9 333.1h0M621.2 333.1h0M543.2 334.5h0M554.4 334.9h0M554.1 334.8h0M563.8 334.8h0M565.4 334.2h0M579.6 334.2h0M583.9 334.4h0M590.4 334.0h0M611.2 334.7h0M545.3 335.9h0M570.0 335.0h0M571.5 335.9h0M572.3 335.2h0M580.2 335.8h0M600.6 335.3h0M609.7 335.8h0M612.2 335.2h0M641.8 335.7h0M544.7 336.1h0M545.1 336.6h0M545.1 336.5h0M545.5 336.6h0M555.6 336.0h0M570.5 336.2h0M574.9 336.8h0M581.1 336.8h0M590.2 336.5h0M592.6 336.1h0M597.1 336.4h0M598.5 336.4h0M599.0 336.3h0M605.8 336.7h0M618.0 336.5h0M641.1 336.3h0M454.8 337.9h0M546.3 337.8h0M546.6 337.1h0M557.8 337.6h0M562.2 338.0h0M566.7 337.1h0M573.4 337.2h0M577.2 337.4h0M582.7 337.0h0M593.2 337.9h0M605.6 337.3h0M627.4 337.4h0M628.9 337.1h0M642.6 337.5h0M452.8 338.1h0M544.2 338.0h0M546.7 338.3h0M554.2 339.0h0M555.7 338.1h0M560.4 338.9h0M563.0 338.5h0M567.4 339.0h0M593.2 338.5h0M594.9 339.0h0M608.7 338.9h0M638.0 338.9h0M545.4 339.5h0M563.1 339.7h0M566.2 339.1h0M593.8 339.3h0M597.1 339.4h0M615.5 339.1h0M620.2 339.6h0M641.0 339.5h0M646.5 339.5h0M451.5 340.4h0M453.6 340.7h0M545.3 340.2h0M545.2 340.6h0M557.2 340.3h0M592.1 340.3h0M594.8 340.0h0M622.6 340.6h0M545.4 341.4h0M545.2 341.2h0M545.2 341.5h0M546.7 341.5h0M582.1 341.8h0M596.9 341.2h0M599.3 341.1h0M453.4 342.6h0M453.0 342.4h0M545.9 342.6h0M545.8 342.4h0M546.1 342.3h0M554.6 342.3h0M555.8 342.3h0M557.0 342.8h0M569.3 342.4h0M579.9 342.9h0M599.8 342.0h0M602.4 342.4h0M634.7 342.8h0M570.0 343.7h0M573.4 343.6h0M615.3 343.9h0M629.5 343.7h0M454.3 344.4h0M454.0 344.8h0M554.2 344.2h0M576.0 344.9h0M611.2 344.7h0M613.5 344.5h0M451.6 345.9h0M545.4 345.7h0M554.7 345.2h0M555.2 345.3h0M555.3 345.3h0M556.2 345.5h0M571.4 345.2h0M577.0 345.2h0M581.3 345.8h0M586.8 345.4h0M544.5 346.8h0M546.0 346.4h0M554.1 346.9h0M579.3 346.4h0M588.0 346.0h0M598.3 346.3h0M602.1 346.3h0M574.2 347.7h0M591.0 347.3h0M596.4 347.7h0M603.9 347.8h0M618.9 347.9h0M641.8 347.5h0M644.6 347.7h0M647.3 347.4h0M544.1 348.3h0M546.4 348.5h0M555.5 348.2h0M604.9 348.6h0M633.1 348.9h0M543.2 349.4h0M554.7 350.0h0M555.2 349.8h0M557.2 349.8h0M592.6 349.4h0M614.3 349.6h0M545.2 350.5h0M546.4 350.8h0M584.8 350.8h0M597.3 350.7h0M605.5 350.8h0M628.2 350.7h0M643.0 350.9h0M452.0 351.3h0M545.6 351.2h0M546.1 351.5h0M554.3 351.7h0M556.0 351.2h0M578.9 351.8h0M579.9 351.2h0M584.4 351.4h0M589.6 351.5h0M600.1 351.3h0M600.4 351.9h0M603.3 351.2h0M609.9 351.6h0M624.5 351.8h0M453.5 352.7h0M545.3 352.5h0M545.5 352.7h0M554.4 352.7h0M555.2 352.7h0M555.7 352.0h0M555.8 352.1h0M603.2 352.2h0M606.8 352.4h0M615.5 352.2h0M615.6 352.7h0M633.8 352.9h0M636.4 352.2h0M638.7 352.8h0M452.3 353.4h0M545.2 353.2h0M546.8 353.1h0M588.6 353.8h0M598.0 353.7h0M598.9 353.2h0M603.7 353.7h0M604.6 353.8h0M617.7 353.4h0M452.3 354.9h0M453.9 354.5h0M544.1 354.7h0M545.2 354.7h0M545.4 354.5h0M583.0 354.6h0M590.6 354.1h0M612.1 354.9h0M618.0 354.6h0M633.4 354.6h0M639.0 354.1h0M544.3 355.9h0M546.5 355.6h0M583.8 355.6h0M584.9 355.7h0M596.6 356.0h0M610.7 355.2h0M615.1 355.1h0M615.0 355.7h0M623.2 355.9h0M638.2 355.5h0M646.6 355.3h0M453.9 356.5h0M546.4 356.2h0M594.4 356.4h0M602.2 356.3h0M603.9 356.8h0M615.7 356.7h0M617.2 356.4h0M622.6 356.9h0M626.3 356.4h0M627.8 356.6h0M649.1 356.9h0M454.9 357.2h0M554.3 357.6h0M624.6 357.4h0M626.5 357.8h0M453.0 358.9h0M543.1 358.1h0M544.4 358.6h0M546.4 358.1h0M546.3 358.6h0M555.7 358.5h0M555.5 358.7h0M556.3 359.0h0M588.2 358.7h0M590.5 358.2h0M598.9 358.5h0M601.6 358.3h0M602.6 358.8h0M604.2 358.4h0M615.1 358.4h0M621.5 359.0h0M625.1 358.5h0M634.6 358.7h0M543.0 359.0h0M545.5 359.2h0M545.4 359.1h0M546.2 359.2h0M546.8 359.6h0M554.4 359.3h0M556.0 360.0h0M591.9 359.4h0M595.3 359.6h0M600.7 359.6h0M600.3 359.8h0M611.8 359.9h0M615.9 359.3h0M453.0 360.3h0M545.7 360.8h0M554.6 360.5h0M554.0 360.3h0M555.1 360.1h0M555.1 360.7h0M557.8 360.4h0M593.8 360.4h0M595.8 360.7h0M598.2 360.6h0M601.8 360.9h0M610.9 360.9h0M619.1 360.7h0M620.5 360.7h0M628.4 360.6h0M640.2 360.0h0M646.3 360.9h0M452.6 361.9h0M544.1 361.5h0M545.9 361.3h0M554.2 361.1h0M555.1 361.2h0M555.7 361.7h0M596.0 362.0h0M600.4 362.0h0M609.9 361.1h0M615.9 361.7h0M623.6 361.8h0M633.2 361.1h0M648.8 361.2h0M454.8 363.0h0M545.3 362.3h0M546.0 362.6h0M555.5 362.4h0M555.9 363.0h0M595.1 362.1h0M602.0 363.0h0M603.1 362.3h0M611.1 363.0h0M616.5 362.9h0M620.9 362.1h0M638.2 362.6h0M546.5 363.5h0M546.6 363.7h0M556.4 363.2h0M556.9 363.7h0M557.9 363.2h0M616.7 363.8h0M644.8 363.9h0M543.1 364.1h0M545.9 364.1h0M546.9 364.5h0M546.8 364.6h0M554.3 364.4h0M597.5 364.4h0M612.0 364.7h0M613.0 364.4h0M617.1 364.5h0M632.1 364.4h0M633.0 364.5h0M644.6 364.7h0M546.0 365.4h0M597.9 365.0h0M609.8 365.5h0M612.4 365.7h0M613.3 365.2h0M625.0 365.9h0M607.8 366.2h0M543.5 367.2h0M545.6 367.4h0M555.7 368.0h0M607.0 367.4h0M609.5 367.7h0M611.8 367.7h0M614.6 368.0h0M620.9 367.5h0M621.2 367.9h0M624.3 367.6h0M627.6 367.9h0M635.1 367.2h0M641.0 367.7h0M451.9 368.0h0M452.3 368.2h0M544.5 368.2h0M618.7 368.7h0M626.0 368.2h0M639.1 368.5h0M641.8 368.2h0M545.5 369.9h0M554.9 369.9h0M609.9 369.7h0M613.0 369.9h0M615.3 369.7h0M619.6 369.2h0M646.1 370.0h0M543.7 370.9h0M545.1 370.2h0M545.0 370.3h0M554.4 370.4h0M557.4 370.8h0M612.3 371.0h0M620.6 370.8h0M638.3 370.2h0M545.3 371.2h0M547.0 371.9h0M617.2 371.3h0M627.2 371.2h0M648.6 371.6h0M451.6 372.3h0M545.2 372.1h0M545.9 372.6h0M546.2 372.1h0M557.1 372.0h0M613.9 372.4h0M615.8 372.3h0M620.9 372.7h0M545.0 373.3h0M546.3 373.4h0M611.3 373.9h0M614.8 373.0h0M616.1 373.0h0M633.3 373.9h0M451.6 374.2h0M452.5 374.7h0M453.6 374.2h0M543.1 374.1h0M546.0 374.4h0M554.1 374.1h0M555.6 374.7h0M619.6 374.9h0M622.6 374.7h0M637.6 374.9h0M545.9 375.9h0M546.5 375.1h0M546.4 375.8h0M554.4 375.7h0M555.2 375.3h0M612.8 375.0h0M614.1 375.2h0M622.2 375.5h0M545.7 376.2h0M555.7 376.2h0M555.3 377.0h0M555.7 376.2h0M616.0 376.7h0M624.9 377.0h0M636.7 376.2h0M640.3 376.8h0M453.5 377.5h0M543.3 377.9h0M554.1 377.2h0M555.8 377.4h0M614.0 377.0h0M615.1 377.7h0M620.5 377.6h0M622.2 377.3h0M634.8 377.7h0M453.7 378.1h0M544.4 378.7h0M546.4 378.8h0M547.0 378.3h0M554.6 378.8h0M555.3 378.8h0M624.4 378.7h0M636.0 379.0h0M635.4 378.9h0M638.9 378.0h0M638.9 378.1h0M453.4 379.3h0M543.8 379.7h0M546.2 379.6h0M555.8 379.7h0M557.4 379.5h0M646.2 379.9h0M648.3 379.8h0M451.6 380.3h0M625.5 380.4h0M630.8 380.9h0M630.7 380.5h0M633.9 380.8h0M643.5 380.8h0M452.0 381.7h0M454.6 381.5h0M544.5 381.3h0M554.8 381.2h0M555.4 381.1h0M555.9 381.8h0M625.0 381.4h0M624.0 381.2h0M644.9 381.6h0M545.3 382.6h0M620.1 382.5h0M635.3 382.6h0M637.0 382.9h0M643.9 382.0h0M452.8 383.3h0M545.2 383.5h0M555.5 383.9h0M626.7 383.4h0M632.8 383.8h0M638.8 383.6h0M645.9 383.1h0M543.7 384.6h0M545.2 384.5h0M622.0 384.5h0M623.9 385.0h0M634.4 384.5h0M638.0 384.6h0M639.3 384.2h0M641.6 384.7h0M641.7 384.6h0M451.9 385.3h0M546.7 385.9h0M554.0 386.0h0M631.1 385.1h0M635.0 386.0h0M647.0 385.3h0M554.1 386.6h0M643.1 386.2h0M451.6 387.9h0M546.9 387.7h0M554.6 387.2h0M555.0 387.9h0M648.6 387.8h0M544.7 388.2h0M555.0 388.0h0M555.7 388.7h0M628.1 388.1h0M630.1 388.2h0M451.9 389.2h0M452.8 389.5h0M556.0 389.4h0M637.2 389.8h0M640.7 389.8h0M640.2 389.4h0M543.8 390.6h0M544.0 390.4h0M555.8 390.3h0M557.8 390.1h0M629.1 390.4h0M631.7 390.6h0M631.4 390.5h0M632.4 391.0h0M634.1 390.8h0M637.4 390.9h0M545.2 391.2h0M554.5 391.0h0M556.5 391.8h0M641.8 391.9h0M642.1 391.0h0M643.3 391.1h0M649.4 391.1h0M453.2 392.1h0M453.5 392.7h0M454.2 392.1h0M546.3 392.0h0M554.8 392.7h0M555.8 392.1h0M557.7 392.2h0M632.0 392.8h0M634.0 392.3h0M636.7 392.3h0M649.5 392.5h0M543.3 393.0h0M545.3 393.3h0M546.4 393.7h0M633.7 393.9h0M635.7 393.3h0M635.6 393.4h0M644.8 393.6h0M453.8 394.2h0M545.3 394.9h0M545.2 394.7h0M555.3 394.8h0M557.5 394.2h0M649.4 394.6h0M546.2 396.0h0M546.7 395.8h0M546.2 395.1h0M554.4 395.5h0M640.1 395.3h0M545.2 396.5h0M554.1 396.8h0M555.4 396.1h0M555.9 396.8h0M640.3 396.5h0M554.3 397.5h0M635.1 397.8h0M646.7 397.6h0M454.0 398.5h0M554.4 398.6h0M554.6 398.8h0M642.4 398.1h0M455.0 399.0h0M452.3 400.3h0M555.6 400.9h0M555.5 400.1h0M645.8 400.9h0M544.7 401.7h0M547.0 401.2h0M546.8 401.8h0M639.1 401.2h0M646.4 401.1h0M454.7 402.9h0M546.1 402.5h0M554.9 402.5h0M554.7 402.9h0M555.8 402.3h0M555.1 402.9h0M557.9 402.5h0M644.2 402.8h0M545.2 403.0h0M545.4 403.4h0M545.4 403.2h0M545.8 403.4h0M546.4 403.7h0M554.4 403.3h0M554.9 403.2h0M556.0 403.2h0M555.8 403.0h0M555.4 403.5h0M557.5 403.4h0M643.2 403.3h0M453.8 404.1h0M545.3 404.8h0M547.0 404.0h0M554.6 404.5h0M554.6 404.5h0M557.0 404.4h0M647.0 404.1h0M454.9 405.7h0M546.1 405.3h0M555.0 405.6h0M543.0 406.1h0M546.0 406.3h0M554.6 407.0h0M644.7 406.9h0M648.7 406.0h0M543.6 407.6h0M545.9 407.8h0M546.0 407.4h0M545.9 408.1h0M554.1 408.2h0M454.1 409.9h0M555.7 409.5h0M648.4 410.0h0M545.2 410.2h0M546.7 410.5h0M546.7 410.5h0M555.3 410.3h0M556.1 410.7h0M648.6 410.2h0M649.6 410.7h0M349.3 412.2h0M360.9 412.5h0M365.8 412.6h0M368.4 412.4h0M373.4 412.9h0M391.1 413.0h0M391.5 412.4h0M405.8 412.5h0M418.4 412.4h0M439.6 412.5h0M440.9 412.3h0M441.7 412.9h0M444.2 412.9h0M450.9 412.4h0M452.7 413.0h0M453.3 412.2h0M544.4 412.1h0M554.8 412.5h0M555.0 412.3h0M554.3 412.2h0M648.8 412.6h0M652.7 412.7h0M689.6 412.6h0M694.2 412.2h0M742.8 412.5h0M373.2 413.6h0M389.6 413.7h0M393.9 413.3h0M401.3 413.3h0M401.9 413.6h0M416.4 413.4h0M417.2 413.7h0M417.1 413.1h0M418.0 413.9h0M419.4 413.9h0M446.6 413.3h0M446.5 413.1h0M452.9 413.0h0M545.7 413.3h0M545.5 414.0h0M546.7 413.6h0M555.6 413.7h0M556.8 413.3h0M650.4 413.8h0M654.7 413.4h0M657.6 413.0h0M675.8 413.9h0M692.9 413.2h0M369.9 414.3h0M376.2 414.3h0M377.2 414.2h0M390.0 414.3h0M392.4 414.1h0M393.1 414.2h0M397.4 414.6h0M400.8 414.8h0M415.1 414.3h0M423.1 414.1h0M437.7 414.1h0M441.6 414.1h0M450.3 414.2h0M450.8 414.9h0M451.6 414.1h0M555.2 414.3h0M647.6 415.0h0M649.8 414.1h0M651.4 414.4h0M657.2 414.8h0M659.0 414.1h0M660.4 414.9h0M669.8 414.4h0M681.9 414.9h0M356.3 416.0h0M359.5 415.7h0M380.9 415.1h0M384.0 415.9h0M387.8 415.5h0M388.2 415.2h0M392.9 415.5h0M423.4 415.7h0M428.8 415.1h0M437.5 415.3h0M445.4 415.5h0M445.3 416.0h0M448.5 415.4h0M555.6 415.2h0M652.1 415.4h0M661.2 415.7h0M662.1 415.3h0M665.8 415.9h0M669.0 415.4h0M672.9 415.8h0M676.3 415.5h0M681.5 415.7h0M684.4 415.1h0M724.0 415.0h0M348.4 416.5h0M359.4 416.5h0M365.2 416.1h0M367.0 416.8h0M370.2 416.8h0M375.8 416.4h0M386.6 416.9h0M546.3 416.7h0M554.2 416.8h0M555.8 417.0h0M556.7 416.1h0M647.6 416.5h0M650.2 416.9h0M654.1 416.9h0M656.1 416.2h0M685.7 417.0h0M334.8 417.4h0M351.7 417.5h0M360.8 417.3h0M388.6 417.9h0M544.5 417.1h0M545.5 417.5h0M546.1 417.4h0M554.4 417.6h0M554.5 417.5h0M554.4 417.7h0M557.5 417.8h0M651.1 417.9h0M652.3 417.5h0M672.8 417.9h0M679.2 417.4h0M680.7 417.3h0M345.8 418.4h0M346.7 418.5h0M348.7 418.5h0M353.5 418.1h0M355.0 418.8h0M364.1 418.3h0M367.4 418.8h0M382.6 419.0h0M386.1 418.7h0M543.5 419.0h0M554.6 418.5h0M555.1 418.9h0M555.6 418.1h0M649.2 418.5h0M649.4 418.2h0M650.5 418.3h0M651.9 418.8h0M655.0 418.2h0M661.0 418.6h0M668.7 418.3h0M674.2 418.0h0M682.0 418.4h0M684.9 418.5h0M688.4 418.8h0M688.6 418.7h0M691.2 418.2h0M728.7 419.0h0M339.6 419.4h0M342.6 419.9h0M348.8 419.5h0M349.4 419.7h0M357.5 419.1h0M369.1 419.9h0M372.6 419.3h0M374.5 419.0h0M375.1 419.6h0M554.8 419.8h0M555.1 419.4h0M676.9 419.3h0M688.1 419.4h0M351.9 420.5h0M357.2 420.4h0M357.8 420.2h0M364.5 420.6h0M365.6 420.5h0M375.8 420.2h0M385.4 420.9h0M389.2 420.7h0M546.4 420.7h0M546.5 420.9h0M554.4 420.6h0M557.2 420.6h0M680.0 420.7h0M349.5 421.6h0M354.9 421.2h0M376.2 421.2h0M382.1 421.8h0M546.6 421.7h0M555.8 421.8h0M555.9 421.2h0M676.1 421.3h0M688.3 421.0h0M696.2 421.0h0M706.0 421.1h0M727.6 421.6h0M335.1 422.3h0M356.9 422.2h0M362.9 422.2h0M389.7 422.2h0M389.3 422.3h0M545.6 422.2h0M554.6 422.7h0M556.0 422.8h0M688.7 422.2h0M689.7 422.1h0M349.2 423.1h0M367.3 423.8h0M374.7 423.6h0M375.7 423.6h0M378.4 423.8h0M380.6 423.7h0M380.7 423.2h0M383.3 423.3h0M385.8 423.1h0M545.8 423.5h0M546.4 423.4h0M682.3 423.4h0M686.3 423.5h0M693.9 423.9h0M332.2 424.9h0M342.4 424.0h0M345.3 424.8h0M353.7 424.6h0M385.2 424.3h0M387.3 424.7h0M545.3 424.7h0M683.2 424.9h0M335.7 425.2h0M353.6 425.9h0M359.3 425.7h0M384.3 425.4h0M543.0 425.2h0M544.1 426.0h0M545.2 425.3h0M546.7 425.1h0M555.0 425.5h0M555.0 425.2h0M685.8 425.5h0M699.6 425.6h0M336.3 426.2h0M544.8 426.7h0M545.6 426.8h0M554.4 426.2h0M555.3 426.1h0M556.8 426.2h0M686.5 426.6h0M335.9 427.3h0M342.6 427.2h0M349.7 427.7h0M355.7 427.8h0M373.0 427.6h0M383.8 427.5h0M386.1 427.4h0M543.8 427.0h0M545.9 428.0h0M546.6 427.2h0M680.8 427.9h0M685.5 427.7h0M693.1 427.8h0M695.9 427.6h0M698.4 427.4h0M728.4 428.0h0M334.0 428.9h0M337.8 428.1h0M345.0 428.6h0M359.8 428.6h0M371.2 428.0h0M383.7 428.9h0M388.0 428.8h0M546.8 428.9h0M681.5 428.9h0M733.7 428.6h0M355.8 429.2h0M361.2 429.5h0M378.7 429.5h0M379.7 429.9h0M382.9 429.0h0M545.4 429.9h0M546.1 429.6h0M555.0 429.9h0M555.9 429.2h0M684.5 429.1h0M693.6 429.9h0M357.3 430.5h0M369.2 430.9h0M370.6 430.6h0M373.1 430.8h0M381.9 430.1h0M386.5 430.3h0M386.3 430.4h0M387.5 430.8h0M554.9 430.6h0M555.6 430.6h0M556.0 430.8h0M555.9 430.7h0M680.0 430.7h0M691.9 430.2h0M693.5 430.5h0M332.6 431.2h0M374.1 431.1h0M381.2 432.0h0M383.7 432.0h0M388.1 431.7h0M545.5 431.3h0M546.1 432.0h0M555.1 431.7h0M705.7 431.2h0M337.4 432.1h0M340.8 432.4h0M341.8 433.0h0M358.8 432.2h0M364.8 432.5h0M375.3 432.5h0M377.1 432.2h0M378.7 432.2h0M387.3 432.5h0M389.8 432.3h0M545.0 432.4h0M546.0 432.6h0M554.6 432.0h0M680.1 432.4h0M681.6 432.6h0M689.9 432.4h0M692.5 432.7h0M698.1 432.9h0M724.5 432.7h0M727.5 432.4h0M334.1 433.6h0M339.7 433.7h0M355.6 433.5h0M360.6 433.1h0M375.2 433.4h0M386.6 433.3h0M546.1 433.5h0M546.5 433.7h0M546.1 433.6h0M554.5 433.6h0M684.0 433.2h0M683.6 433.1h0M683.3 433.0h0M684.1 433.3h0M699.9 433.7h0M332.9 434.5h0M350.8 434.8h0M357.6 434.3h0M373.7 434.9h0M374.7 434.4h0M385.3 434.6h0M546.1 434.9h0M556.8 434.5h0M681.2 434.3h0M333.3 435.7h0M545.3 435.1h0M545.5 435.0h0M545.5 435.2h0M554.5 435.5h0M554.7 435.3h0M554.0 435.1h0M555.8 435.3h0M555.7 435.2h0M683.8 435.9h0M684.6 435.7h0M689.3 435.5h0M383.1 436.3h0M383.9 436.8h0M383.5 436.9h0M387.4 436.4h0M387.7 436.7h0M545.8 436.4h0M546.0 436.8h0M546.7 436.3h0M679.5 436.2h0M685.6 436.6h0M346.0 437.7h0M346.2 437.8h0M364.6 438.0h0M367.2 437.9h0M543.2 437.9h0M554.5 437.5h0M554.9 437.1h0M679.2 437.2h0M681.6 437.6h0M691.4 437.1h0M333.5 438.4h0M367.4 438.2h0M382.4 438.1h0M383.8 438.3h0M385.5 438.8h0M546.8 438.5h0M546.3 438.2h0M554.7 438.1h0M555.3 438.9h0M555.0 438.8h0M555.7 438.8h0M691.5 438.7h0M357.2 439.2h0M380.1 439.6h0M380.6 440.0h0M380.9 439.1h0M383.1 439.2h0M545.2 439.0h0M546.2 439.3h0M555.0 439.6h0M555.8 439.6h0M555.4 439.9h0M682.1 439.2h0M693.6 439.5h0M694.5 439.9h0M375.6 440.6h0M381.6 440.1h0M384.6 440.1h0M546.7 440.1h0M546.6 440.4h0M555.1 440.2h0M703.6 440.7h0M366.3 441.7h0M366.8 441.7h0M376.8 441.3h0M382.7 441.7h0M383.3 441.8h0M388.7 441.4h0M389.5 441.1h0M545.6 441.5h0M546.0 441.9h0M546.3 441.4h0M554.5 441.4h0M686.0 441.7h0M699.1 441.2h0M368.7 442.1h0M371.9 442.9h0M544.4 442.6h0M546.3 442.0h0M546.4 442.4h0M554.5 442.3h0M684.4 442.6h0M688.9 442.4h0M692.8 443.0h0M695.5 442.6h0M705.8 442.4h0M339.7 443.2h0M348.3 443.9h0M378.5 443.7h0M380.0 444.0h0M543.7 443.3h0M556.0 443.9h0M555.6 443.6h0M686.6 443.5h0M699.5 443.1h0M756.7 443.4h0M360.4 444.3h0M389.6 444.7h0M557.5 444.7h0M557.6 444.7h0M679.5 444.8h0M680.2 444.3h0M684.1 444.6h0M685.2 444.1h0M688.9 444.8h0M704.8 444.6h0M707.7 444.7h0M345.9 445.7h0M351.2 445.9h0M358.3 445.7h0M360.0 445.5h0M360.5 445.6h0M364.6 445.6h0M369.8 445.4h0M369.3 445.1h0M369.2 445.9h0M371.5 445.2h0M378.8 445.3h0M380.0 445.9h0M380.9 445.9h0M388.5 445.8h0M544.3 445.2h0M688.7 445.5h0M690.0 445.8h0M690.2 445.1h0M705.9 445.5h0M333.3 447.0h0M338.0 446.0h0M364.3 446.2h0M374.6 446.4h0M386.2 446.8h0M387.2 446.8h0M389.8 446.9h0M546.8 446.1h0M558.0 446.9h0M684.6 446.8h0M685.2 446.5h0M713.7 446.5h0M335.2 447.9h0M340.2 447.5h0M347.6 447.7h0M353.7 447.7h0M358.5 447.6h0M367.3 447.7h0M383.5 448.0h0M384.3 447.8h0M545.3 447.7h0M545.6 447.2h0M546.3 447.8h0M555.8 447.8h0M555.2 447.7h0M555.5 447.6h0M557.2 447.2h0M680.3 447.3h0M683.6 447.8h0M728.4 447.4h0M339.4 448.3h0M355.2 448.5h0M381.7 448.3h0M382.1 448.6h0M544.6 448.9h0M546.9 448.3h0M547.0 448.1h0M554.7 449.0h0M556.6 448.1h0M557.1 448.1h0M687.7 448.2h0M709.6 448.2h0M711.8 448.1h0M715.0 448.9h0M348.9 449.4h0M349.4 449.5h0M357.0 449.6h0M370.8 449.1h0M383.4 449.7h0M386.9 449.3h0M387.0 449.2h0M389.1 449.7h0M545.8 449.3h0M546.9 449.1h0M555.4 449.2h0M556.1 449.5h0M556.2 449.7h0M688.4 449.3h0M705.4 449.2h0M728.5 449.3h0M728.8 450.0h0M742.1 449.1h0M344.9 450.8h0M357.2 450.2h0M377.5 450.5h0M381.6 450.1h0M385.4 450.9h0M545.8 450.1h0M546.5 450.9h0M546.7 450.6h0M555.6 450.5h0M685.7 450.3h0M686.4 450.3h0M688.7 451.0h0M719.6 450.4h0M358.0 451.7h0M370.4 451.5h0M373.1 451.2h0M382.4 451.7h0M383.7 451.8h0M389.5 451.5h0M545.2 451.6h0M556.5 451.9h0M556.7 451.5h0M681.7 451.7h0M694.0 451.6h0M707.2 451.2h0M356.3 452.7h0M374.4 452.1h0M380.1 453.0h0M556.0 452.8h0M556.4 452.2h0M557.8 452.2h0M695.3 452.1h0M696.1 452.1h0M699.5 452.1h0M357.6 453.5h0M372.2 453.4h0M546.4 453.0h0M547.0 453.8h0M680.2 453.0h0M686.1 453.9h0M688.4 453.1h0M691.5 453.4h0M705.2 453.9h0M352.5 455.0h0M357.8 454.4h0M366.8 454.9h0M371.3 454.8h0M376.2 454.1h0M543.3 454.4h0M554.2 454.1h0M555.5 454.5h0M689.2 454.1h0M694.2 454.8h0M700.4 454.7h0M712.2 454.2h0M371.6 456.0h0M371.7 455.5h0M372.1 455.0h0M376.2 455.1h0M377.2 455.3h0M544.4 455.1h0M554.2 455.3h0M554.7 455.9h0M718.0 455.3h0M338.4 456.3h0M359.2 456.5h0M367.0 456.1h0M379.3 456.8h0M380.5 456.8h0M556.0 456.3h0M556.6 456.3h0M557.6 456.7h0M708.5 456.9h0M360.0 457.9h0M364.6 457.7h0M375.5 457.4h0M680.6 457.4h0M686.8 457.1h0M695.0 457.1h0M336.7 458.6h0M337.9 458.5h0M371.5 458.3h0M374.1 458.3h0M377.0 458.1h0M379.1 458.6h0M379.5 458.4h0M383.6 458.2h0M389.7 458.4h0M546.1 458.7h0M555.6 458.7h0M555.2 458.4h0M557.9 458.1h0M682.1 458.4h0M696.5 458.8h0M699.1 458.4h0M702.8 458.2h0M704.1 458.1h0M708.9 458.6h0M713.7 459.0h0M346.4 459.5h0M359.8 459.7h0M363.8 459.4h0M366.0 459.6h0M365.1 459.3h0M374.1 459.1h0M381.3 459.5h0M543.7 459.8h0M554.4 459.7h0M683.3 459.4h0M688.1 459.9h0M712.8 459.1h0M726.1 459.2h0M333.5 460.8h0M335.0 460.3h0M337.6 460.5h0M343.4 460.2h0M356.3 460.7h0M357.1 460.2h0M361.5 460.5h0M378.9 460.6h0M381.3 460.8h0M382.4 460.5h0M545.5 460.4h0M555.7 460.7h0M680.5 460.2h0M682.2 460.3h0M693.2 460.2h0M711.8 460.5h0M727.3 460.6h0M350.1 461.2h0M359.1 461.7h0M376.1 461.2h0M380.0 461.4h0M383.6 461.3h0M388.2 461.5h0M389.2 462.0h0M547.0 461.5h0M555.0 461.8h0M556.5 462.0h0M679.4 461.1h0M682.5 461.8h0M683.1 461.6h0M687.1 461.6h0M691.8 461.4h0M692.2 461.8h0M694.0 461.1h0M339.0 462.8h0M356.2 462.4h0M364.5 462.5h0M386.4 462.8h0M545.3 462.5h0M683.5 462.3h0M684.1 462.9h0M687.3 462.5h0M339.6 463.2h0M340.7 464.0h0M359.4 463.8h0M362.6 463.3h0M366.6 463.6h0M375.0 463.5h0M555.4 463.8h0M557.9 463.2h0M679.5 463.9h0M684.5 463.0h0M685.5 463.8h0M689.7 463.7h0M691.1 463.5h0M693.0 464.0h0M709.8 463.8h0M332.8 464.4h0M359.7 464.1h0M362.7 464.2h0M554.4 464.9h0M708.6 464.1h0M714.0 464.2h0M723.8 464.6h0M733.9 464.2h0M336.4 465.2h0M367.7 465.6h0M545.1 465.9h0M546.7 465.7h0M554.3 465.5h0M555.4 465.9h0M556.7 465.3h0M693.5 465.5h0M699.1 465.6h0M709.7 465.1h0M735.9 465.4h0M337.5 466.5h0M346.2 466.1h0M352.0 466.5h0M358.3 466.1h0M384.7 466.8h0M386.0 466.7h0M389.2 466.6h0M546.2 467.0h0M546.3 466.6h0M557.9 466.6h0M680.1 466.7h0M684.5 466.4h0M687.2 466.5h0M708.4 466.0h0M728.7 466.0h0M733.6 466.0h0M736.4 466.1h0M341.6 467.7h0M344.6 467.7h0M357.6 467.4h0M364.9 468.0h0M389.1 467.7h0M544.9 467.4h0M545.5 467.8h0M556.0 467.1h0M557.1 467.5h0M685.0 467.1h0M692.8 467.9h0M694.2 467.7h0M700.0 468.0h0M711.1 467.3h0M725.7 467.9h0M343.1 468.4h0M364.0 468.2h0M371.8 468.5h0M384.2 469.0h0M683.8 468.8h0M686.8 468.3h0M715.6 468.1h0M354.0 470.0h0M368.3 469.9h0M543.1 469.5h0M546.3 469.6h0M546.6 469.6h0M555.7 469.6h0M555.3 469.1h0M555.9 469.4h0M689.1 469.7h0M708.1 469.8h0M716.1 469.4h0M331.1 470.3h0M343.3 470.4h0M352.3 470.8h0M356.0 470.9h0M382.0 470.2h0M543.5 470.7h0M545.4 470.3h0M689.0 470.2h0M690.1 470.1h0M693.1 470.3h0M342.4 471.6h0M343.0 471.9h0M353.5 471.3h0M357.9 471.5h0M358.6 471.0h0M360.7 471.2h0M361.0 471.5h0M371.2 471.1h0M374.8 471.3h0M376.3 472.0h0M378.4 471.0h0M381.2 471.4h0M543.2 471.2h0M696.6 471.7h0M698.0 471.0h0M701.1 472.0h0M708.3 471.3h0M713.8 471.7h0M368.0 472.1h0M372.9 472.8h0M543.3 472.4h0M545.0 472.3h0M544.1 472.8h0M555.5 472.7h0M682.2 472.8h0M692.3 472.2h0M696.6 472.5h0M712.5 472.4h0M733.9 472.6h0M335.3 473.6h0M339.2 473.6h0M342.9 473.6h0M354.2 473.3h0M366.2 473.3h0M380.9 473.4h0M543.8 473.8h0M545.6 473.4h0M546.5 473.8h0M554.4 473.0h0M555.1 473.5h0M704.9 473.2h0M732.6 473.5h0M379.8 474.5h0M383.9 474.8h0M555.4 474.9h0M687.8 474.6h0M694.1 474.1h0M346.4 475.5h0M359.0 475.1h0M367.9 475.9h0M384.6 475.8h0M386.2 475.6h0M546.8 475.8h0M546.9 476.0h0M555.6 476.0h0M555.6 475.2h0M555.6 475.7h0M682.1 475.3h0M685.2 475.7h0M690.5 475.9h0M722.4 475.8h0M332.9 476.1h0M382.9 476.6h0M388.0 476.6h0M553.4 476.0h0M555.5 476.2h0M684.9 476.9h0M690.9 476.9h0M364.4 477.0h0M368.5 477.8h0M383.7 477.7h0M389.8 477.5h0M689.6 477.1h0M690.9 477.0h0M697.9 477.8h0M362.2 478.4h0M365.3 478.7h0M545.8 478.9h0M545.7 478.7h0M546.9 478.4h0M547.4 478.4h0M547.9 478.8h0M554.9 478.9h0M554.2 478.4h0M684.3 478.0h0M707.6 478.4h0M714.5 478.7h0M758.7 478.6h0M352.2 479.0h0M362.0 479.5h0M369.4 479.3h0M374.2 479.2h0M382.7 479.0h0M546.7 479.3h0M547.8 479.2h0M553.7 479.0h0M554.7 479.9h0M555.9 479.5h0M555.1 479.2h0M679.3 479.6h0M680.4 479.3h0M742.2 480.0h0M355.6 480.9h0M369.1 480.5h0M386.6 480.9h0M545.5 480.7h0M554.6 480.9h0M690.7 480.8h0M703.3 480.7h0M733.4 481.0h0M342.9 481.8h0M348.2 481.0h0M360.9 481.0h0M372.2 481.9h0M374.8 481.3h0M380.0 481.3h0M385.5 482.0h0M387.7 481.9h0M553.5 481.6h0M554.7 481.7h0M555.6 481.9h0M686.1 481.7h0M713.3 481.0h0M352.8 482.4h0M362.6 482.6h0M366.0 482.5h0M367.5 482.2h0M384.2 482.5h0M388.0 482.9h0M554.3 482.2h0M554.8 482.4h0M556.4 482.2h0M681.9 482.7h0M682.4 482.7h0M684.4 482.8h0M708.0 482.6h0M721.9 482.8h0M728.1 482.7h0M733.0 482.5h0M340.9 483.7h0M340.0 483.1h0M354.7 483.1h0M373.8 483.4h0M376.0 483.4h0M379.1 483.6h0M384.3 483.8h0M385.3 483.7h0M546.9 483.9h0M546.0 483.7h0M546.5 483.1h0M547.3 483.3h0M547.1 483.9h0M548.0 484.0h0M681.3 483.6h0M683.3 483.0h0M683.0 483.1h0M693.4 483.3h0M720.8 483.2h0M726.6 484.0h0M334.9 484.4h0M355.9 484.0h0M366.2 485.0h0M377.2 485.0h0M377.6 485.0h0M553.0 484.2h0M554.7 484.7h0M554.8 485.0h0M691.0 484.3h0M691.1 484.6h0M694.6 484.6h0M694.3 484.3h0M696.2 484.2h0M698.4 484.5h0M714.2 484.1h0M736.3 484.7h0M741.4 484.8h0M751.1 484.7h0M352.5 485.3h0M375.2 485.6h0M378.9 485.9h0M382.2 485.9h0M383.3 485.2h0M387.6 485.1h0M546.8 485.6h0M556.0 485.8h0M692.3 485.3h0M692.4 485.2h0M694.8 485.9h0M696.8 485.6h0M361.2 487.0h0M362.8 486.2h0M380.1 486.8h0M546.8 486.6h0M554.1 486.1h0M554.8 486.3h0M555.9 486.9h0M555.4 486.2h0M717.2 486.8h0M718.2 486.7h0M721.7 486.8h0M334.2 487.2h0M375.0 487.7h0M387.6 487.6h0M544.4 487.7h0M544.3 487.5h0M546.2 487.9h0M680.4 487.0h0M683.5 487.5h0M690.9 487.4h0M734.3 487.5h0M751.1 487.4h0M340.2 488.0h0M350.5 488.7h0M352.6 488.9h0M353.1 488.1h0M363.7 488.9h0M371.5 488.1h0M375.0 488.2h0M383.0 488.7h0M384.8 489.0h0M389.0 488.7h0M547.7 488.5h0M547.7 489.0h0M553.6 488.2h0M554.3 488.5h0M554.9 488.4h0M687.2 488.1h0M692.1 488.8h0M695.1 488.0h0M723.3 488.6h0M339.0 490.0h0M361.8 490.0h0M365.4 489.6h0M546.3 489.9h0M553.2 489.9h0M680.2 489.2h0M683.2 489.0h0M685.1 489.7h0M693.6 489.5h0M700.9 489.2h0M710.0 489.7h0M711.0 489.7h0M349.0 491.0h0M361.5 490.5h0M375.6 490.5h0M383.8 490.2h0M385.7 490.3h0M386.1 490.5h0M387.1 490.5h0M553.2 490.8h0M553.7 490.6h0M553.3 490.6h0M554.4 490.1h0M557.0 490.7h0M683.7 490.0h0M685.2 490.3h0M701.7 490.3h0M702.2 490.5h0M342.0 491.8h0M343.8 491.6h0M353.2 491.4h0M353.6 491.0h0M357.2 491.1h0M362.4 491.2h0M364.7 491.5h0M365.0 491.7h0M384.5 491.4h0M387.3 491.8h0M553.3 491.4h0M554.9 491.5h0M684.8 491.2h0M690.1 491.8h0M692.2 491.5h0M723.9 491.6h0M728.5 491.5h0M331.1 492.7h0M340.6 492.8h0M344.0 492.3h0M357.7 492.5h0M365.7 492.6h0M367.5 492.4h0M374.6 492.3h0M377.6 492.2h0M389.5 492.6h0M544.2 492.7h0M545.6 492.9h0M547.3 492.8h0M553.3 492.8h0M553.9 492.1h0M554.8 492.1h0M681.0 492.8h0M685.1 492.9h0M688.9 492.6h0M694.7 492.6h0M348.2 493.3h0M354.6 493.2h0M364.0 493.5h0M364.8 493.8h0M379.0 493.0h0M379.0 493.9h0M546.5 493.8h0M546.3 493.2h0M546.1 493.1h0M547.0 493.0h0M548.0 493.2h0M547.4 493.7h0M553.1 493.9h0M554.4 493.1h0M683.7 493.9h0M685.9 493.3h0M695.7 493.1h0M708.2 493.4h0M743.4 493.3h0M340.0 494.2h0M356.1 494.9h0M370.5 494.1h0M388.8 494.4h0M554.5 494.3h0M555.3 494.5h0M682.9 494.2h0M684.1 494.8h0M692.7 494.1h0M702.7 494.5h0M720.6 494.3h0M733.7 494.7h0M743.7 494.1h0M353.8 495.7h0M361.3 495.1h0M373.3 495.5h0M374.5 495.9h0M376.1 495.5h0M380.5 495.2h0M382.6 495.8h0M384.9 495.7h0M545.8 495.6h0M547.1 495.0h0M553.9 495.8h0M553.4 495.3h0M556.0 495.4h0M556.6 495.3h0M686.4 495.6h0M687.1 495.3h0M695.4 495.7h0M696.6 495.9h0M744.9 495.4h0M358.3 496.5h0M369.3 496.5h0M373.2 496.6h0M547.6 496.4h0M686.5 496.1h0M690.4 496.2h0M695.9 496.3h0M699.8 496.9h0M701.5 496.0h0M336.2 497.2h0M337.9 497.4h0M339.7 498.0h0M342.9 497.1h0M343.1 497.4h0M353.5 497.2h0M354.2 497.6h0M366.5 497.3h0M367.7 497.1h0M369.0 498.0h0M376.9 497.6h0M377.8 497.6h0M381.4 497.4h0M383.7 497.0h0M385.3 497.5h0M387.4 497.6h0M555.7 497.7h0M555.6 497.5h0M694.0 498.0h0M702.4 497.7h0M727.5 497.3h0M339.0 498.5h0M358.7 498.7h0M381.0 498.3h0M553.5 498.6h0M684.7 498.8h0M700.4 498.0h0M712.6 498.4h0M333.6 499.2h0M381.0 499.5h0M546.0 499.9h0M685.0 499.3h0M686.0 499.1h0M707.1 499.3h0M720.4 499.5h0M369.7 500.7h0M384.7 500.5h0M387.8 500.6h0M389.8 500.4h0M547.3 500.5h0M547.6 500.3h0M554.1 500.4h0M726.4 500.3h0M736.2 500.6h0M354.5 501.8h0M389.0 501.8h0M546.1 501.9h0M547.6 501.6h0M556.5 501.6h0M681.3 501.4h0M721.1 501.6h0M729.6 501.4h0M739.5 501.9h0M760.3 501.5h0M345.6 502.1h0M375.6 502.9h0M376.5 502.2h0M381.7 502.4h0M385.0 502.9h0M387.5 502.3h0M389.1 502.1h0M546.9 502.9h0M547.5 503.0h0M686.9 502.4h0M687.6 502.9h0M692.0 503.0h0M711.3 502.7h0M711.2 502.6h0M712.8 502.8h0M720.7 502.4h0M746.2 502.1h0M366.1 503.6h0M554.2 503.1h0M679.9 503.0h0M681.1 503.5h0M738.5 503.6h0M754.6 503.3h0M337.3 504.9h0M367.9 504.2h0M384.0 504.6h0M387.7 504.2h0M387.3 504.5h0M390.0 504.9h0M547.0 504.5h0M553.1 504.6h0M554.0 504.4h0M554.7 504.4h0M695.6 504.9h0M710.0 504.6h0M731.0 504.3h0M334.3 505.6h0M336.4 505.7h0M349.2 505.4h0M361.4 505.0h0M383.1 505.4h0M544.8 505.8h0M553.0 505.3h0M691.2 505.0h0M693.3 505.3h0M705.5 505.3h0M711.4 505.7h0M735.0 505.6h0M352.9 506.7h0M353.1 506.2h0M362.9 506.2h0M546.6 506.7h0M546.2 506.3h0M547.7 506.7h0M688.0 506.7h0M691.0 506.4h0M693.1 506.2h0M700.5 506.3h0M347.0 507.1h0M367.1 507.6h0M376.2 507.3h0M380.3 507.6h0M388.2 507.0h0M547.0 507.0h0M547.8 507.2h0M554.8 507.4h0M554.8 507.4h0M691.2 507.7h0M702.7 507.9h0M748.9 507.7h0M751.1 507.4h0M759.7 507.4h0M370.4 508.6h0M380.4 508.2h0M388.2 508.4h0M544.9 508.5h0M553.5 508.8h0M554.7 508.1h0M555.0 508.2h0M689.1 508.7h0M707.9 508.4h0M351.6 509.7h0M371.4 509.2h0M378.1 509.2h0M381.6 509.4h0M384.6 509.3h0M386.8 509.4h0M554.3 509.5h0M688.7 509.3h0M707.8 509.1h0M709.0 509.1h0M350.8 510.0h0M361.3 510.7h0M370.6 510.1h0M372.4 510.6h0M388.6 510.7h0M546.8 510.1h0M554.2 510.8h0M554.4 510.2h0M556.0 510.6h0M681.3 510.5h0M690.4 510.8h0M690.2 510.8h0M717.0 510.8h0M743.7 510.1h0M345.3 512.0h0M370.8 511.5h0M376.5 511.2h0M377.3 511.2h0M544.8 511.2h0M546.9 511.2h0M687.9 511.1h0M688.1 511.5h0M713.8 511.5h0M736.8 511.9h0M358.6 512.1h0M361.3 512.8h0M363.4 512.5h0M547.1 512.7h0M554.1 512.2h0M555.2 512.2h0M703.6 512.5h0M364.8 513.8h0M369.6 513.6h0M369.3 513.3h0M375.3 513.3h0M546.1 513.3h0M691.5 513.3h0M701.8 513.2h0M709.9 513.0h0M353.3 514.7h0M364.6 514.8h0M367.0 514.8h0M367.5 514.9h0M382.3 514.2h0M385.5 514.2h0M679.0 514.6h0M684.3 514.2h0M686.3 514.0h0M694.8 514.8h0M750.3 514.1h0M355.6 515.7h0M382.4 515.9h0M389.9 515.4h0M546.6 515.5h0M546.6 515.3h0M546.8 515.7h0M553.4 515.8h0M553.6 515.3h0M556.1 515.9h0M690.3 515.7h0M738.0 515.7h0M348.4 516.3h0M365.5 517.0h0M377.8 516.5h0M380.5 516.2h0M392.6 516.9h0M393.0 516.8h0M547.8 516.8h0M553.1 516.1h0M554.2 516.4h0M556.3 516.2h0M696.4 517.0h0M721.7 516.0h0M730.2 516.4h0M745.2 516.5h0M369.0 517.9h0M371.3 517.5h0M376.4 517.6h0M378.0 517.6h0M395.1 517.3h0M396.2 517.8h0M400.6 517.5h0M547.0 517.2h0M554.5 518.0h0M683.2 517.9h0M703.7 517.1h0M367.4 518.0h0M377.2 518.4h0M380.0 518.9h0M390.2 518.4h0M395.9 518.2h0M399.6 518.3h0M402.8 519.0h0M405.1 518.9h0M547.5 518.8h0M553.1 518.2h0M554.3 518.3h0M554.1 518.7h0M680.4 518.5h0M384.3 519.9h0M401.2 519.8h0M401.3 519.2h0M401.6 519.6h0M546.2 519.3h0M546.0 519.4h0M547.3 519.3h0M705.9 519.2h0M717.2 519.6h0M403.6 520.9h0M406.0 520.3h0M412.4 520.1h0M544.7 520.3h0M545.3 520.6h0M546.8 520.1h0M553.6 520.5h0M553.6 520.9h0M553.5 520.1h0M687.2 520.5h0M702.9 520.2h0M702.8 520.7h0M383.2 521.9h0M385.3 521.1h0M408.9 521.8h0M546.6 521.9h0M546.5 521.4h0M553.9 521.9h0M554.1 522.0h0M679.1 521.8h0M679.6 521.1h0M681.4 521.2h0M702.7 521.5h0M386.3 522.6h0M400.7 522.4h0M403.0 522.9h0M417.5 522.8h0M418.2 522.5h0M418.5 522.7h0M419.8 522.4h0M546.3 522.9h0M553.4 522.8h0M553.5 522.6h0M555.0 522.5h0M682.7 522.4h0M687.6 522.0h0M696.0 522.5h0M409.8 523.8h0M681.0 523.6h0M684.9 523.6h0M692.1 523.8h0M414.0 524.3h0M415.1 524.7h0M417.4 525.0h0M420.7 524.5h0M424.3 524.7h0M426.6 524.1h0M545.3 524.0h0M679.2 524.2h0M690.4 524.8h0M700.6 524.7h0M410.0 525.9h0M428.1 525.4h0M546.3 525.9h0M404.1 526.7h0M414.2 526.4h0M417.8 526.9h0M424.0 526.2h0M428.6 527.0h0M545.0 526.6h0M546.2 527.0h0M553.7 526.4h0M554.9 526.4h0M684.2 526.1h0M424.0 527.7h0M429.3 527.3h0M432.3 527.5h0M435.5 527.6h0M547.4 527.2h0M553.1 528.0h0M671.2 527.6h0M678.9 527.0h0M698.9 527.9h0M429.9 528.4h0M431.0 528.9h0M437.3 528.3h0M443.5 528.4h0M552.0 529.0h0M664.8 528.9h0M669.3 528.7h0M674.6 528.1h0M676.5 528.2h0M415.0 529.9h0M427.6 529.5h0M429.3 529.2h0M433.8 529.5h0M435.1 529.3h0M444.6 529.8h0M547.7 529.2h0M552.9 529.5h0M553.6 529.8h0M553.8 529.6h0M553.2 529.1h0M662.7 529.7h0M664.1 530.0h0M680.2 529.8h0M421.4 530.7h0M434.1 530.8h0M434.1 530.8h0M449.7 530.4h0M547.3 530.3h0M652.9 530.2h0M666.1 530.3h0M672.7 530.2h0M687.2 530.4h0M439.9 531.8h0M443.7 531.1h0M453.5 531.2h0M545.2 531.1h0M548.2 531.5h0M553.4 531.7h0M670.5 531.2h0M670.2 531.6h0M672.9 531.9h0M446.9 532.1h0M446.2 532.1h0M453.1 532.7h0M458.6 532.7h0M461.9 532.7h0M463.4 532.7h0M545.6 532.8h0M548.8 532.4h0M548.7 532.9h0M552.2 532.5h0M553.3 532.3h0M652.9 532.4h0M660.7 532.8h0M663.1 532.5h0M664.2 532.4h0M672.3 533.0h0M467.0 533.9h0M468.8 533.4h0M548.0 533.7h0M552.7 533.5h0M638.1 533.8h0M649.4 533.5h0M654.6 533.8h0M666.3 533.8h0M437.7 534.6h0M460.7 534.2h0M464.9 534.1h0M469.7 534.7h0M471.1 534.1h0M546.1 535.0h0M555.6 534.7h0M652.4 534.6h0M459.3 535.7h0M461.4 536.0h0M463.1 535.6h0M464.5 535.3h0M469.8 535.3h0M474.8 535.3h0M475.5 535.4h0M476.4 535.2h0M625.2 535.8h0M628.0 535.8h0M628.6 535.4h0M641.5 536.0h0M642.0 535.3h0M649.7 535.4h0M462.5 536.4h0M467.6 536.7h0M469.4 536.3h0M473.3 536.9h0M475.1 537.0h0M476.9 536.3h0M478.2 536.0h0M481.4 536.5h0M552.1 536.9h0M621.5 536.1h0M632.4 536.6h0M633.8 536.1h0M645.9 536.4h0M469.9 537.5h0M479.6 537.6h0M480.9 537.4h0M482.9 537.6h0M485.6 537.2h0M485.5 537.3h0M547.0 537.6h0M552.7 537.9h0M552.1 537.0h0M553.1 537.6h0M614.9 537.8h0M619.5 537.1h0M620.3 537.7h0M623.1 537.1h0M634.2 537.8h0M472.6 538.4h0M486.3 538.3h0M487.8 538.5h0M489.8 538.1h0M491.9 538.6h0M492.7 538.2h0M492.8 538.1h0M548.3 538.2h0M552.9 538.2h0M554.5 538.1h0M555.8 538.5h0M611.5 538.5h0M611.7 538.1h0M614.6 538.6h0M614.2 538.9h0M614.6 538.7h0M619.5 538.6h0M621.3 538.2h0M624.7 538.4h0M628.3 538.4h0M464.9 539.5h0M485.0 539.7h0M486.4 539.6h0M493.8 539.5h0M497.8 539.7h0M498.4 539.6h0M552.2 539.1h0M602.6 539.9h0M604.6 539.8h0M608.9 539.7h0M621.9 539.6h0M624.1 539.8h0M492.2 540.0h0M495.4 540.6h0M503.9 540.4h0M505.1 540.0h0M506.4 541.0h0M545.6 540.8h0M549.5 540.5h0M549.8 540.5h0M553.7 540.6h0M553.9 540.3h0M554.8 540.6h0M599.8 540.9h0M605.5 540.0h0M619.4 540.4h0M624.3 540.5h0M488.5 541.1h0M491.8 541.1h0M497.3 541.9h0M547.8 541.9h0M548.4 541.1h0M549.7 541.4h0M551.6 541.8h0M553.7 541.4h0M602.6 541.6h0M603.8 541.6h0M611.2 541.0h0M615.6 541.9h0M493.4 542.5h0M502.5 542.2h0M506.4 542.2h0M515.7 542.1h0M548.1 542.0h0M548.8 542.6h0M548.2 542.2h0M551.7 542.8h0M587.6 542.1h0M589.8 542.5h0M591.2 542.4h0M592.3 542.8h0M598.7 542.9h0M599.7 542.2h0M600.3 542.7h0M493.5 543.6h0M496.9 543.6h0M512.4 543.0h0M512.4 543.6h0M548.1 544.0h0M548.9 543.8h0M551.9 543.2h0M552.0 543.7h0M552.5 543.3h0M553.1 543.2h0M586.3 543.9h0M589.6 544.0h0M604.5 543.8h0M608.4 543.3h0M507.4 544.6h0M515.3 544.7h0M525.2 544.4h0M527.0 544.3h0M526.4 544.0h0M527.3 544.1h0M549.3 544.5h0M551.9 544.6h0M551.7 544.6h0M581.0 544.7h0M585.0 544.5h0M587.8 544.7h0M513.8 546.0h0M516.9 545.3h0M518.1 545.6h0M520.6 545.4h0M520.9 545.1h0M530.3 545.7h0M531.2 545.7h0M552.1 545.3h0M552.1 545.2h0M573.1 545.2h0M583.5 545.4h0M596.3 545.2h0M520.7 546.6h0M525.0 546.7h0M532.7 546.3h0M534.8 546.5h0M535.1 546.8h0M546.4 546.1h0M548.7 546.2h0M549.3 546.5h0M550.0 546.5h0M551.2 546.7h0M552.0 546.1h0M569.5 546.8h0M575.7 547.0h0M518.0 548.0h0M526.1 547.7h0M534.4 547.1h0M548.7 547.1h0M549.8 547.4h0M554.8 547.6h0M533.8 548.0h0M534.2 548.2h0M542.3 548.4h0M546.8 548.9h0M562.1 548.5h0M564.7 548.7h0M575.9 548.2h0M580.8 548.4h0M532.8 550.0h0M533.9 549.1h0M533.7 549.3h0M543.3 549.3h0M551.4 549.7h0M551.2 549.8h0M556.8 549.1h0M559.9 549.9h0M567.9 549.8h0M575.3 549.6h0M532.8 550.1h0M538.3 550.7h0M540.2 550.4h0M551.5 551.0h0M537.2 551.5h0M540.1 551.5h0M548.9 551.4h0M549.1 551.1h0M551.2 551.8h0M551.4 551.1h0M552.7 551.4h0M568.0 551.6h0M332.7 534.7h0M529.2 125.0h0M576.8 123.3h0M596.6 131.0h0M454.3 133.8h0M464.3 133.1h0M475.3 137.3h0M494.0 135.5h0M511.9 133.6h0M461.1 140.4h0M477.4 144.8h0M496.1 141.3h0M511.0 141.1h0M515.2 143.2h0M523.8 138.5h0M531.3 140.8h0M469.0 148.5h0M564.2 150.2h0M492.8 156.0h0M495.1 154.1h0M452.7 162.5h0M458.7 163.5h0M476.0 163.9h0M484.9 167.0h0M490.0 167.7h0M493.5 163.0h0M532.7 160.7h0M544.1 163.5h0M517.5 164.9h0M525.5 167.7h0M533.2 169.3h0M610.6 167.9h0"/></g>
<g fill="none" stroke-linecap="round" stroke-width="5.8"><path stroke="#df2a22" d="M1165.2 227.4h0M1167.0 228.0h0M1197.2 227.4h0M1222.2 228.6h0M868.9 231.7h0M1186.4 234.3h0M949.6 237.5h0M1165.3 238.9h0M1174.4 241.4h0M1224.0 243.9h0M1160.7 244.7h0M1262.3 244.3h0M1169.2 248.2h0M905.6 251.8h0M1231.0 252.5h0M1214.1 253.4h0M1176.4 256.0h0M1200.1 255.9h0M955.2 256.0h0M1236.7 256.9h0M1163.2 257.0h0M1163.5 258.2h0M1214.3 258.3h0M1160.9 260.4h0M1211.0 261.8h0M1186.5 262.3h0M917.1 263.6h0M1261.3 264.8h0M1222.2 266.6h0M1157.9 270.1h0M1157.2 272.8h0M1172.3 273.1h0M1158.3 275.3h0M1234.2 275.8h0M942.2 276.5h0M1157.2 276.3h0M1158.4 276.5h0M1163.1 276.3h0M1213.3 276.2h0M1161.1 278.4h0M1202.8 278.5h0M1239.6 278.5h0M1162.4 279.3h0M1175.5 280.7h0M912.3 281.2h0M913.6 281.3h0M953.6 281.7h0M881.5 284.6h0M931.3 284.5h0M1218.7 284.6h0M1256.6 284.0h0M920.6 285.3h0M1176.8 285.4h0M1224.7 285.1h0M933.9 286.9h0M1185.1 286.1h0M1209.5 286.2h0M904.8 287.0h0M909.5 288.8h0M1240.1 289.0h0M894.4 290.8h0M1173.8 290.5h0M1208.0 290.5h0M1214.3 290.4h0M1172.1 293.0h0M1220.7 293.0h0M1161.6 293.9h0M1163.0 293.2h0M1187.2 294.8h0M1191.5 294.7h0M955.6 295.3h0M1162.9 295.2h0M1217.1 295.6h0M1160.4 297.8h0M912.9 299.5h0M1166.1 300.4h0M1206.0 300.8h0M1208.6 300.2h0M1226.8 300.6h0M1245.3 301.6h0M931.1 302.7h0M1176.0 302.6h0M1198.6 302.6h0M1223.3 302.7h0M1184.8 304.3h0M1198.4 304.2h0M1207.3 304.5h0M1209.9 304.8h0M933.2 305.6h0M945.1 305.9h0M1162.8 305.6h0M1187.6 305.4h0M1272.0 305.9h0M917.9 306.0h0M953.9 306.7h0M1193.2 306.6h0M1166.6 307.3h0M1241.5 307.7h0M1174.7 308.7h0M1212.0 308.4h0M1212.5 308.8h0M1253.2 308.8h0M1161.0 309.2h0M1175.1 309.5h0M1198.4 309.5h0M1201.0 309.3h0M928.5 310.7h0M933.2 311.0h0M1157.3 310.5h0M1161.0 310.8h0M1168.4 310.3h0M1194.1 310.1h0M882.0 311.6h0M955.6 312.7h0M1198.1 312.1h0M1244.1 312.0h0M1222.9 313.3h0M1232.0 313.5h0M1169.4 314.6h0M1231.9 314.6h0M944.2 315.9h0M1195.8 315.4h0M1195.9 315.5h0M1198.7 315.7h0M928.9 316.5h0M1170.0 317.0h0M1205.2 316.3h0M1222.3 317.8h0M1258.1 317.9h0M1160.1 318.2h0M1197.9 318.3h0M1212.9 318.7h0M948.0 320.0h0M1167.5 319.4h0M1238.9 319.0h0M923.3 320.4h0M950.3 320.0h0M1157.9 320.5h0M1165.0 320.2h0M1206.9 320.9h0M1195.0 321.9h0M1241.9 321.5h0M1259.6 321.1h0M1157.4 322.6h0M1160.2 322.4h0M1173.6 322.3h0M1186.2 322.8h0M951.9 323.9h0M1160.7 323.9h0M1182.4 323.6h0M1190.5 323.7h0M1198.1 323.1h0M1206.2 323.2h0M1233.9 323.3h0M1257.2 324.0h0M947.9 324.4h0M1161.3 324.4h0M1167.6 324.3h0M1206.0 324.9h0M1244.3 324.5h0M935.8 325.7h0M1157.6 325.9h0M1161.2 325.6h0M1193.5 325.7h0M1198.3 325.1h0M1236.9 325.3h0M935.1 326.4h0M1167.7 326.7h0M1210.7 326.8h0M944.1 327.4h0M1161.6 327.3h0M1191.5 327.9h0M1217.9 327.5h0M1245.1 327.8h0M952.1 328.2h0M874.8 329.3h0M944.3 329.6h0M1157.1 329.3h0M1186.0 329.2h0M1221.1 329.8h0M1214.9 330.2h0M1223.8 330.6h0M916.2 331.1h0M1161.3 331.4h0M1214.8 331.3h0M1220.2 331.9h0M1222.9 331.5h0M1245.3 331.0h0M946.0 332.4h0M1158.5 332.6h0M1163.6 332.5h0M1221.6 332.2h0M1239.6 332.4h0M1157.9 333.7h0M1166.5 333.3h0M1169.2 333.1h0M1173.3 333.6h0M1187.7 333.4h0M1219.8 333.6h0M951.2 334.7h0M1163.4 334.6h0M1187.2 334.3h0M1194.7 334.4h0M1197.8 334.1h0M1222.1 334.3h0M1225.2 334.0h0M1239.1 334.8h0M1247.9 334.5h0M949.7 335.6h0M949.9 335.4h0M1211.3 335.5h0M1218.4 335.2h0M1218.5 335.5h0M946.3 336.3h0M1191.8 336.3h0M1212.9 336.6h0M919.4 337.8h0M919.4 337.6h0M954.6 337.3h0M956.9 337.6h0M1173.5 337.6h0M934.3 338.9h0M1158.6 338.0h0M1246.2 338.2h0M871.9 339.4h0M1188.0 339.6h0M1217.8 339.1h0M1231.3 339.1h0M1241.9 339.2h0M1247.4 339.3h0M1270.8 339.8h0M1163.1 340.4h0M1165.1 340.8h0M1169.1 340.3h0M1197.0 341.3h0M1211.8 341.3h0M1213.2 341.4h0M1228.8 342.0h0M1257.3 341.8h0M1264.9 341.5h0M1160.5 342.4h0M1166.8 342.3h0M1172.1 342.2h0M1181.3 342.1h0M1199.3 342.6h0M1222.2 342.7h0M955.9 343.2h0M1156.5 343.1h0M1201.0 343.5h0M912.6 344.6h0M952.7 344.8h0M1170.9 344.8h0M1181.4 344.7h0M1233.7 345.0h0M928.0 345.2h0M950.4 345.9h0M1163.2 345.8h0M1193.1 345.7h0M1197.2 345.9h0M929.8 346.6h0M1156.5 346.3h0M1157.7 346.7h0M1173.8 346.4h0M1223.2 346.4h0M1224.6 346.9h0M1251.8 346.3h0M1158.6 347.7h0M1165.2 347.5h0M1174.2 348.0h0M1177.4 347.6h0M1193.8 347.8h0M1236.5 347.8h0M1244.9 347.2h0M917.6 348.7h0M927.6 348.3h0M1158.9 348.3h0M1167.2 348.3h0M1199.5 348.8h0M903.5 349.1h0M913.6 350.0h0M924.6 349.4h0M957.9 349.9h0M957.7 349.3h0M1159.1 350.0h0M1164.9 349.1h0M1167.0 349.2h0M1174.2 349.8h0M1204.2 349.9h0M1244.4 349.8h0M1262.8 349.6h0M915.6 350.8h0M929.7 350.1h0M931.1 350.4h0M933.4 350.4h0M947.5 350.2h0M947.6 350.6h0M1160.3 350.1h0M1166.9 350.2h0M1175.0 350.2h0M1190.5 350.5h0M1203.9 350.6h0M1213.0 350.0h0M1223.5 350.4h0M1246.2 350.5h0M942.4 351.9h0M1186.3 351.7h0M1232.5 351.4h0M1214.1 352.6h0M1214.0 352.6h0M1222.8 352.8h0M1250.9 352.8h0M1269.8 352.9h0M908.3 353.4h0M915.4 353.8h0M949.4 353.5h0M1164.9 353.9h0M1166.1 353.3h0M1202.8 353.4h0M1216.4 353.7h0M1266.0 353.8h0M1166.0 354.6h0M1166.3 354.6h0M1186.4 354.7h0M1204.0 354.8h0M1213.4 354.7h0M1221.5 354.5h0M1255.1 354.1h0M946.3 355.6h0M1160.1 355.0h0M1166.6 355.8h0M1189.8 355.5h0M1214.6 355.0h0M1223.6 355.7h0M897.7 356.1h0M944.1 356.4h0M949.1 356.3h0M953.2 357.0h0M1156.5 356.1h0M1162.2 356.1h0M1167.4 356.9h0M1173.0 356.5h0M1183.6 356.8h0M1184.6 356.5h0M1197.0 356.3h0M1217.0 356.2h0M1227.7 356.2h0M915.6 357.4h0M922.5 357.8h0M953.5 357.8h0M954.0 357.6h0M1161.0 357.7h0M1183.2 357.5h0M1185.2 357.6h0M1188.6 357.9h0M1194.2 357.3h0M1228.5 357.5h0M890.3 358.5h0M915.7 358.7h0M1162.7 358.9h0M1163.0 358.7h0M1177.0 358.2h0M1202.7 358.8h0M1203.9 358.3h0M1206.9 358.9h0M1211.6 358.7h0M1233.6 358.4h0M927.4 359.3h0M939.9 359.3h0M1164.1 359.6h0M1175.1 360.0h0M1180.0 359.4h0M1202.7 359.4h0M1215.3 359.6h0M1221.4 359.7h0M1226.9 359.1h0M1239.9 359.0h0M1250.9 359.2h0M908.7 360.4h0M932.5 360.9h0M1164.7 360.9h0M1197.4 360.9h0M1209.4 360.1h0M946.4 361.1h0M1162.3 361.2h0M1163.4 361.9h0M1175.2 361.1h0M1178.0 361.3h0M1184.6 361.9h0M1184.6 361.1h0M1212.7 361.7h0M1214.7 361.2h0M1251.0 361.1h0M1262.4 361.3h0M868.9 362.2h0M904.8 362.9h0M934.2 363.0h0M943.8 363.0h0M1176.0 362.9h0M1176.8 362.2h0M1176.8 362.4h0M1178.6 362.7h0M1183.7 362.0h0M1187.0 362.0h0M1215.7 362.3h0M1226.5 362.5h0M1234.8 363.0h0M889.2 363.3h0M922.6 363.3h0M1158.5 363.9h0M1159.3 363.7h0M1161.6 363.8h0M1167.4 363.0h0M1170.0 363.7h0M1170.0 363.8h0M1219.7 364.0h0M1227.3 363.1h0M1229.6 363.0h0M1260.3 363.7h0M1164.5 364.8h0M1193.4 364.0h0M1196.0 364.8h0M1198.1 364.7h0M882.4 365.6h0M918.2 365.0h0M1163.9 365.4h0M1186.6 365.5h0M945.2 366.6h0M1157.9 367.0h0M1168.9 366.2h0M1170.4 366.5h0M1180.7 366.4h0M1198.4 366.1h0M1217.6 366.7h0M1221.3 366.6h0M1232.9 366.8h0M1259.7 366.7h0M1260.7 366.9h0M924.2 367.7h0M1157.8 367.3h0M1169.6 367.1h0M1169.3 367.2h0M1179.7 367.9h0M1215.4 367.4h0M1219.9 367.7h0M1232.6 367.4h0M1265.4 367.7h0M913.9 368.6h0M932.3 368.3h0M1156.6 368.9h0M1167.1 368.9h0M1180.9 368.1h0M1191.4 368.4h0M1198.5 368.1h0M1226.4 368.6h0M1228.6 368.3h0M925.6 369.0h0M954.7 369.3h0M957.6 369.6h0M1156.6 369.8h0M1196.5 369.5h0M1207.8 369.4h0M1209.8 369.0h0M1239.7 369.8h0M1269.1 369.3h0M948.2 370.6h0M1156.9 370.7h0M1170.6 370.3h0M1172.1 370.4h0M1173.6 371.0h0M1188.2 370.7h0M1196.5 370.1h0M921.1 371.8h0M1157.2 371.6h0M1173.1 371.1h0M1175.5 371.3h0M1179.9 371.5h0M1183.1 371.7h0M1189.7 371.3h0M1249.4 371.7h0M865.3 372.7h0M876.1 372.8h0M890.0 372.3h0M944.9 372.3h0M1170.4 373.0h0M1183.5 372.9h0M1191.8 372.5h0M1196.8 372.4h0M1199.2 372.3h0M1202.9 372.5h0M1210.0 372.8h0M1225.9 372.5h0M1237.4 373.0h0M1253.6 372.6h0M907.2 373.6h0M1163.5 373.6h0M1163.4 373.2h0M1172.1 373.3h0M1175.6 373.1h0M1191.9 373.6h0M1198.5 373.3h0M1205.5 373.5h0M1206.1 373.4h0M1218.7 373.4h0M1235.0 373.8h0M1269.4 373.0h0M923.7 374.9h0M1170.9 374.1h0M1183.5 374.1h0M1221.1 374.4h0M1263.7 374.8h0M921.9 375.5h0M1163.3 375.0h0M1174.6 375.3h0M1175.3 375.6h0M1182.7 375.8h0M1196.8 375.2h0M1200.0 375.5h0M1206.1 375.9h0M1207.7 376.0h0M1219.0 375.8h0M1222.9 375.3h0M1242.6 375.4h0M1163.4 376.0h0M1168.4 376.0h0M1175.5 376.7h0M1192.0 376.7h0M1193.3 376.4h0M1195.6 376.8h0M1247.8 376.4h0M1247.8 376.7h0M934.5 377.2h0M946.3 377.1h0M1158.6 377.8h0M1159.0 377.2h0M1167.3 377.1h0M1172.2 377.7h0M1185.2 377.7h0M1185.4 377.8h0M1188.3 377.2h0M1191.3 378.0h0M1198.6 377.3h0M1203.8 377.4h0M1204.7 377.8h0M1206.0 377.7h0M1226.9 377.8h0M1230.6 377.8h0M1232.4 377.5h0M1259.7 377.0h0M907.8 378.5h0M935.1 378.1h0M1161.9 378.0h0M1171.3 378.5h0M1171.4 378.8h0M1172.1 378.3h0M1173.1 378.8h0M1175.9 378.3h0M1184.8 378.3h0M1203.2 378.9h0M1210.9 378.9h0M1216.8 378.0h0M1220.6 379.0h0M943.8 379.9h0M957.4 379.1h0M1177.9 379.6h0M1180.1 379.8h0M1197.7 379.0h0M1204.3 379.7h0M1205.1 379.1h0M1221.9 379.8h0M1226.4 379.9h0M1255.6 379.6h0M1267.6 379.7h0M1269.7 379.6h0M893.3 380.5h0M954.6 381.0h0M1194.3 380.4h0M1238.4 381.0h0M1242.6 380.7h0M931.4 381.7h0M934.3 381.5h0M953.7 381.3h0M1179.3 381.8h0M1184.2 381.2h0M1201.2 381.7h0M1211.9 381.4h0M1213.0 381.7h0M1217.1 381.8h0M934.3 382.4h0M1156.7 382.0h0M1185.7 382.1h0M1203.6 382.7h0M1214.4 382.8h0M1224.8 382.9h0M1230.7 382.6h0M1231.4 382.7h0M1250.0 382.3h0M1263.8 382.4h0M889.7 383.2h0M892.4 383.6h0M949.2 383.3h0M1156.8 383.9h0M1161.8 383.2h0M1163.8 383.5h0M1173.3 383.1h0M1177.8 383.4h0M1182.9 383.3h0M1183.7 383.3h0M1186.7 383.8h0M1189.8 383.7h0M1194.5 383.2h0M1194.2 383.1h0M1202.9 383.0h0M1206.0 383.5h0M1214.9 383.1h0M1226.1 383.4h0M1240.5 383.5h0M1267.2 383.4h0M933.3 384.8h0M943.1 384.1h0M955.9 384.2h0M1163.5 384.8h0M1174.1 384.1h0M1190.0 384.2h0M1203.8 384.6h0M1214.2 384.9h0M1244.2 384.3h0M1254.6 384.3h0M905.5 385.7h0M1159.9 385.0h0M1165.6 385.2h0M1185.6 385.8h0M1187.2 385.9h0M1191.2 385.0h0M1192.1 385.6h0M1221.9 385.8h0M1221.3 385.5h0M1236.8 385.8h0M1253.5 386.0h0M929.5 386.9h0M1157.2 386.1h0M1173.6 386.2h0M1178.6 386.3h0M1184.0 386.5h0M1219.0 386.2h0M918.7 387.5h0M942.8 387.5h0M951.9 387.6h0M955.6 388.0h0M1163.4 387.4h0M1167.4 387.8h0M1170.7 387.6h0M1173.5 387.5h0M1179.2 387.9h0M1193.1 387.6h0M1194.3 387.4h0M1221.3 387.4h0M1226.3 387.7h0M1242.8 387.0h0M1243.4 387.7h0M1243.3 387.3h0M929.1 388.4h0M949.5 388.6h0M949.3 388.6h0M952.8 388.1h0M957.9 388.1h0M957.2 388.5h0M1183.3 388.5h0M1193.4 388.5h0M1194.9 388.7h0M1199.1 388.4h0M1210.2 388.3h0M1226.9 388.6h0M874.1 389.7h0M927.0 389.1h0M936.2 389.6h0M940.9 389.2h0M949.0 389.7h0M955.1 389.3h0M1166.2 389.8h0M1187.6 389.5h0M1199.4 389.2h0M1204.6 389.2h0M1212.4 389.7h0M1225.7 390.0h0M920.9 390.0h0M946.7 390.2h0M948.1 390.8h0M1159.4 390.3h0M1162.1 390.3h0M1167.4 390.4h0M1173.1 390.8h0M1189.6 390.5h0M1199.1 390.3h0M1199.1 390.1h0M1211.0 390.8h0M1212.9 390.6h0M1243.0 390.7h0M1245.8 390.2h0M1246.9 390.6h0M1249.1 390.6h0M1258.1 390.2h0M1273.8 390.1h0M914.0 391.1h0M1156.6 391.5h0M1157.3 391.3h0M1176.4 391.6h0M1190.2 391.5h0M1191.1 391.7h0M1197.4 391.3h0M1211.4 391.8h0M1224.2 391.3h0M1225.2 392.0h0M1238.5 391.2h0M1242.7 391.2h0M1243.6 391.8h0M885.4 392.2h0M1157.4 392.0h0M1167.1 392.1h0M1186.6 392.2h0M1207.8 392.9h0M1209.9 392.6h0M1218.0 392.3h0M1224.7 392.7h0M1238.5 392.2h0M1239.0 392.1h0M1243.9 392.7h0M1249.3 392.9h0M1253.2 392.5h0M878.3 393.5h0M1162.1 393.5h0M1163.1 393.6h0M1171.5 393.8h0M1192.6 394.0h0M1198.6 393.7h0M1203.7 393.7h0M1203.1 393.4h0M1206.2 393.5h0M1207.3 393.8h0M1210.5 393.6h0M1252.8 393.8h0M1272.1 393.9h0M917.0 394.6h0M953.9 394.6h0M953.9 394.2h0M955.9 394.7h0M1158.1 394.1h0M1169.7 394.3h0M1176.0 394.4h0M1187.7 394.5h0M1198.1 394.9h0M1220.1 394.6h0M1221.1 394.7h0M1222.6 394.9h0M1233.4 394.1h0M1240.0 394.4h0M1242.1 394.4h0M1255.1 394.4h0M854.1 395.3h0M914.5 395.3h0M945.1 395.9h0M1157.8 395.6h0M1159.2 395.4h0M1160.5 395.0h0M1168.0 395.4h0M1170.9 395.1h0M1171.2 395.5h0M1183.9 395.6h0M1191.5 395.3h0M1197.1 395.0h0M1207.5 395.5h0M1212.7 395.1h0M1215.7 395.7h0M1227.8 395.7h0M1233.3 395.5h0M1251.1 395.5h0M1257.1 395.9h0M898.5 396.0h0M900.2 396.5h0M902.1 396.5h0M929.3 396.8h0M1160.0 396.8h0M1169.7 396.6h0M1178.3 396.4h0M1184.0 396.6h0M1196.2 397.0h0M1199.3 396.6h0M1202.2 396.5h0M1228.5 396.4h0M1250.8 396.6h0M1254.1 396.0h0M1261.1 396.4h0M944.8 397.3h0M951.6 397.4h0M1177.5 397.3h0M1188.3 397.2h0M1193.0 397.3h0M1195.4 397.9h0M1197.0 397.2h0M1213.0 397.4h0M1215.5 397.8h0M1217.9 397.2h0M1236.6 397.7h0M1239.4 397.3h0M1241.3 397.4h0M1244.1 397.1h0M1249.2 397.3h0M1262.6 397.5h0M897.0 398.5h0M923.7 398.5h0M944.3 398.9h0M950.4 398.6h0M1204.7 398.5h0M1226.3 398.3h0M1232.2 398.9h0M1239.5 398.6h0M1243.2 398.6h0M1253.0 398.7h0M942.1 399.2h0M952.0 399.7h0M1159.2 399.8h0M1185.5 399.6h0M1208.7 399.1h0M1211.7 399.9h0M1220.3 399.6h0M1222.1 399.3h0M1228.0 399.5h0M1239.5 399.7h0M1254.9 399.7h0M1263.7 399.6h0M917.6 400.1h0M1160.3 400.7h0M1163.6 400.3h0M1187.8 400.1h0M1191.9 400.2h0M1192.0 400.3h0M1194.7 400.6h0M1212.3 400.2h0M1226.5 401.0h0M1228.1 400.9h0M1256.7 400.6h0M1260.0 400.8h0M1270.6 400.7h0M905.3 401.0h0M906.6 401.8h0M954.2 401.8h0M1177.6 401.6h0M1184.6 401.6h0M1185.2 401.9h0M1196.5 401.9h0M1199.0 401.3h0M1200.6 401.2h0M1212.1 401.9h0M1221.7 401.3h0M1232.2 401.6h0M1233.2 401.7h0M1243.3 401.4h0M1245.8 401.4h0M1248.9 401.6h0M1259.0 401.8h0M1262.9 401.3h0M947.7 402.4h0M949.5 402.6h0M954.0 403.0h0M957.0 402.8h0M1164.4 402.1h0M1170.7 402.3h0M1171.0 402.6h0M1180.2 402.2h0M1187.1 402.4h0M1193.9 402.4h0M1196.8 402.4h0M1217.3 402.5h0M1218.5 402.5h0M1231.2 403.0h0M1254.9 402.8h0M1261.3 402.9h0M913.2 403.8h0M1166.4 403.3h0M1181.3 403.7h0M1191.6 403.2h0M1202.6 403.1h0M1207.1 403.5h0M1209.6 403.1h0M1209.2 403.9h0M1218.5 403.1h0M1234.7 403.4h0M1240.1 403.6h0M1241.2 403.7h0M1245.5 403.2h0M1246.4 403.5h0M1247.1 403.6h0M1251.7 403.5h0M1254.0 403.2h0M911.3 404.1h0M920.0 404.6h0M923.7 404.1h0M953.5 405.0h0M1169.7 404.9h0M1171.7 404.7h0M1184.6 404.6h0M1187.5 404.1h0M1190.8 404.2h0M1194.3 404.1h0M1209.9 404.1h0M1213.5 404.9h0M1214.1 404.2h0M1232.4 404.5h0M1247.0 404.9h0M1253.3 404.4h0M1254.3 404.3h0M904.4 405.5h0M920.7 405.2h0M956.3 405.2h0M957.4 405.8h0M1161.9 405.4h0M1165.2 405.2h0M1169.4 405.8h0M1171.0 405.3h0M1201.8 405.8h0M1209.6 405.7h0M1230.1 405.3h0M1238.7 405.1h0M1260.3 405.7h0M1261.8 405.7h0M1261.7 405.0h0M889.1 406.9h0M925.4 406.7h0M933.3 406.3h0M947.2 406.6h0M954.8 406.2h0M1160.3 406.7h0M1163.4 406.2h0M1179.6 407.0h0M1180.6 406.1h0M1183.7 406.7h0M1195.2 406.7h0M1195.7 406.9h0M1201.9 406.3h0M1211.5 406.6h0M1224.4 406.6h0M1227.3 406.2h0M1228.2 406.4h0M1231.1 406.1h0M1238.6 406.2h0M1244.8 406.9h0M1245.1 406.1h0M1251.8 406.8h0M1252.8 406.7h0M957.7 407.5h0M1177.3 407.7h0M1210.7 407.9h0M1237.7 407.1h0M1239.4 407.9h0M1247.2 407.5h0M1255.7 407.3h0M1256.3 407.8h0M1262.9 407.8h0M1272.3 407.2h0M920.4 408.1h0M924.9 408.7h0M946.6 408.2h0M947.4 408.0h0M1157.3 408.1h0M1158.1 408.9h0M1163.2 408.9h0M1179.7 408.4h0M1194.0 408.2h0M1204.8 408.9h0M1213.1 408.1h0M1231.9 408.4h0M1257.7 408.7h0M1260.8 408.3h0M909.1 409.9h0M946.7 409.1h0M955.0 409.2h0M1158.9 409.7h0M1164.9 409.1h0M1173.0 409.1h0M1202.7 409.5h0M1233.0 409.2h0M1240.7 409.2h0M1243.1 409.5h0M1249.3 409.7h0M1251.8 409.7h0M916.6 410.2h0M938.7 410.2h0M953.5 410.7h0M956.9 410.6h0M1156.8 410.8h0M1158.4 410.7h0M1166.6 410.9h0M1166.6 410.8h0M1171.7 410.1h0M1180.4 410.9h0M1181.8 410.9h0M1185.6 410.1h0M1188.2 410.5h0M1193.3 410.6h0M1203.3 410.6h0M1219.9 410.7h0M1245.8 410.5h0M1255.9 410.5h0M1265.5 410.8h0M923.3 411.8h0M940.8 411.7h0M944.7 411.6h0M948.4 411.3h0M957.7 411.1h0M1156.6 411.4h0M1158.0 412.0h0M1165.3 411.5h0M1178.4 411.7h0M1183.7 412.0h0M1187.5 411.5h0M1200.2 411.9h0M1202.0 411.6h0M1210.4 411.2h0M1217.3 411.1h0M1222.1 411.7h0M1230.5 411.2h0M1237.3 411.8h0M1239.0 411.8h0M1244.2 411.4h0M1255.9 411.8h0M1256.0 411.4h0M1256.7 411.3h0M1267.3 411.4h0M1272.5 411.6h0M928.5 412.1h0M1249.3 412.0h0M1173.7 141.1h0M1160.6 179.3h0M1164.8 188.7h0M953.7 185.9h0M1231.5 193.3h0M950.6 206.2h0M1241.3 205.0h0M1220.1 208.3h0M1234.1 209.7h0M1192.6 217.8h0M1232.9 220.9h0M929.2 222.5h0"/><path stroke="#000" d="M1026 308H1040M1066 308H1070M1024 310H1048M1066 310H1074M1022 314H1048M1066 314H1078M1018 316H1048M1066 316H1084M1016 320H1048M1066 320H1088M1014 322H1048M1066 322H1092M1010 326H1048M1066 326H1098M1008 328H1048M1066 328H1104M1004 332H1048M1066 332H1112M1002 334H1048M1066 334H1118M1000 338H1048M1066 338H1126M996 340H1048M1066 340H1146M994 344H1048M1066 344H1152M992 346H1048M1066 346H1152M988 350H1048M1066 350H1152M986 352H1048M1066 352H1152M982 356H1048M1066 356H1152M980 358H1048M1066 358H1152M978 362H1048M1066 362H1152M974 364H1048M1066 364H1152M972 368H1048M1066 368H1152M970 370H1048M1066 370H1152M970 374H1048M1066 374H1152M968 376H1048M1066 376H1152M966 380H1048M1066 380H1152M966 382H1048M1066 382H1152M964 386H1048M1066 386H1152M962 388H1048M1066 388H1152M962 392H1050M1066 392H1152M962 394H1050M1066 394H1152M962 398H1050M1066 398H1152M962 400H1050M1066 400H1152M962 404H1050M1066 404H1152M962 406H1050M1066 406H1152M962 410H1050M1066 410H1152M962 412H1050M1066 412H1152M960 416H1050M1064 416H1154M956 418H1050M1064 418H1240M954 422H1050M1064 422H1240M954 424H1050M1064 424H1240M952 428H1050M1064 428H1240M950 430H1050M1064 430H1240M948 434H1050M1064 434H1240M948 436H1050M1064 436H1240M946 440H1050M1064 440H1240M944 442H1050M1064 442H1240M944 446H1050M1064 446H1240M944 448H1050M1064 448H1240M944 452H1050M1064 452H1240M944 454H1050M1064 454H1238M944 458H1050M1064 458H1236M944 460H1050M1064 460H1232M944 464H1050M1064 464H1230M944 466H1050M1064 466H1226M944 470H1050M1064 470H1222M944 472H1050M1064 472H1220M944 476H1050M1064 476H1216M944 478H1050M1064 478H1212M944 482H1050M1064 482H1208M944 484H1050M1064 484H1206M944 488H1050M1064 488H1202M944 490H1052M1064 490H1198M944 494H1052M1064 494H1194M944 496H1052M1064 496H1192M944 500H1052M1064 500H1188M944 502H1052M1064 502H1184M944 506H1052M1062 506H1182M944 508H1052M1062 508H1178M944 512H1052M1062 512H1174M944 514H1052M1062 514H1172M944 518H1052M1062 518H1168M944 520H1052M1062 520H1164M944 524H1052M1062 524H1160M944 526H1052M1062 526H1158M956 530H1052M1062 530H1144M972 532H1052M1062 532H1132M988 536H1052M1062 536H1118M1004 538H1052M1062 538H1104M1020 542H1052M1062 542H1090M1034 544H1054M1060 544H1076M1050 548H1062M1075.6 171.0h0M1114.4 170.8h0M1064.6 171.3h0M976.0 172.8h0M1080.1 173.7h0M1035.5 174.3h0M992.9 175.7h0M1044.8 175.4h0M1077.2 175.0h0M1014.9 176.2h0M1119.9 178.6h0M1036.2 182.7h0M1110.5 182.5h0M1113.3 184.0h0M1039.1 184.5h0M1079.0 184.4h0M1088.2 184.8h0M1100.1 184.0h0M969.8 187.0h0M1029.7 186.1h0M1034.2 186.7h0M1009.6 188.1h0M1063.4 188.1h0M1115.4 188.5h0M1106.0 192.0h0M1015.6 192.2h0M1107.5 192.5h0M1093.1 193.1h0M1028.1 194.8h0M989.1 195.7h0M1113.6 196.1h0M987.9 197.0h0M1088.3 197.2h0M1122.3 197.7h0M1067.2 198.6h0M1064.6 199.2h0M1073.8 199.5h0M1076.7 201.8h0M1073.3 202.7h0M1046.0 203.0h0M1111.1 203.1h0M1122.9 203.3h0M1133.0 203.7h0M1008.2 204.1h0M1109.9 204.4h0M1034.8 205.9h0M1032.1 206.0h0M1099.8 207.7h0M970.6 208.9h0M989.2 208.1h0M1128.3 208.5h0M1150.5 208.7h0M1141.5 209.2h0M1084.9 210.2h0M1148.8 210.1h0M1004.5 211.1h0M1089.2 211.5h0M992.4 212.0h0M1005.9 213.2h0M1091.3 213.8h0M1024.3 214.7h0M1025.1 214.7h0M1103.9 214.4h0M1141.9 214.2h0M1016.8 215.3h0M1067.0 215.5h0M1073.2 215.1h0M1098.1 215.3h0M1009.3 216.4h0M1029.9 216.5h0M1008.0 217.9h0M1025.3 217.3h0M1045.7 217.9h0M1098.9 217.4h0M968.8 218.1h0M1018.6 218.6h0M1025.5 218.5h0M1050.3 218.7h0M1096.7 218.5h0M1004.1 219.2h0M1025.6 219.2h0M1046.8 219.9h0M1087.7 219.5h0M991.6 220.3h0M1018.7 220.6h0M1089.3 220.8h0M1122.3 220.3h0M1008.6 221.9h0M1044.3 221.4h0M1098.8 222.0h0M1104.4 221.8h0M1131.1 221.9h0M1011.8 222.5h0M1092.8 222.9h0M1095.5 222.8h0M1039.1 223.5h0M1079.9 223.7h0M1086.9 223.9h0M984.0 225.0h0M1024.7 224.1h0M1087.9 224.5h0M1098.4 224.8h0M1002.1 225.2h0M1027.4 225.0h0M1085.1 225.4h0M1094.1 225.6h0M1118.6 225.2h0M1119.4 225.5h0M992.4 226.8h0M1037.2 226.8h0M1070.3 226.8h0M1075.7 226.1h0M1151.3 226.6h0M977.5 227.8h0M1024.7 227.0h0M1082.5 227.6h0M1030.8 228.5h0M1115.3 228.1h0M1142.3 228.0h0M1079.7 229.1h0M1080.7 229.4h0M1115.3 229.9h0M1005.2 230.3h0M1026.3 230.8h0M1015.3 231.9h0M1023.8 231.6h0M1031.7 231.7h0M1154.7 231.1h0M990.3 232.4h0M1023.7 232.2h0M1029.5 232.9h0M1094.9 232.3h0M1130.3 232.1h0M1137.3 232.7h0M1141.1 232.9h0M1148.9 232.2h0M1104.3 233.5h0M1042.1 234.6h0M1045.9 234.6h0M1046.0 234.3h0M1078.6 234.3h0M1128.5 234.8h0M1031.2 235.2h0M1072.9 235.5h0M1073.2 235.5h0M1088.4 235.6h0M1089.2 235.4h0M1124.8 235.7h0M1145.3 235.3h0M1081.2 237.0h0M1106.1 236.0h0M1097.5 237.7h0M1020.4 238.0h0M1026.2 238.6h0M1097.7 238.5h0M1025.5 239.7h0M976.5 240.0h0M999.9 240.7h0M1079.9 240.7h0M1087.9 240.7h0M1092.4 240.5h0M969.9 241.2h0M1007.6 241.4h0M1007.9 241.8h0M1030.1 241.2h0M1069.8 241.7h0M1086.8 241.5h0M1088.7 241.3h0M1082.0 242.2h0M1082.0 242.3h0M1122.1 242.2h0M1122.9 242.3h0M1103.1 243.1h0M1001.5 244.6h0M1026.3 244.7h0M1038.5 244.7h0M1047.6 244.1h0M1088.3 244.1h0M1049.5 245.4h0M1086.5 245.2h0M1097.0 245.1h0M1125.8 245.2h0M1133.6 245.7h0M1147.4 245.9h0M1152.5 245.4h0M960.4 246.9h0M993.7 246.8h0M997.2 246.4h0M1036.0 246.7h0M1036.2 246.7h0M1037.7 246.8h0M1091.5 246.4h0M1097.6 246.8h0M987.8 247.8h0M1023.2 247.0h0M1073.7 247.3h0M1074.1 247.2h0M1080.2 247.2h0M1101.5 247.8h0M1138.5 247.5h0M1014.8 248.3h0M1028.8 248.2h0M1029.0 248.4h0M1069.8 249.0h0M1110.3 248.7h0M1132.6 248.6h0M963.3 250.0h0M978.5 249.8h0M1000.5 249.9h0M1090.5 249.4h0M1125.3 249.8h0M1032.2 250.3h0M1035.4 250.3h0M1089.9 250.3h0M1090.3 250.7h0M1097.8 251.0h0M1012.4 251.5h0M1019.0 251.1h0M1029.1 252.0h0M1041.5 251.6h0M1064.8 251.1h0M1064.2 251.3h0M1081.6 251.9h0M1098.7 251.6h0M1037.3 252.9h0M1040.6 252.0h0M1137.7 252.5h0M1076.9 253.2h0M1018.0 254.9h0M1021.3 254.8h0M1043.4 254.2h0M1082.1 254.4h0M1084.3 254.1h0M1107.5 254.3h0M1138.4 254.1h0M976.7 256.0h0M992.6 255.9h0M1017.0 255.1h0M1024.2 255.9h0M1050.7 255.3h0M1068.4 255.4h0M1079.6 255.2h0M1149.4 255.6h0M964.3 256.8h0M982.0 256.4h0M995.1 256.6h0M1001.9 256.1h0M1037.5 256.4h0M1050.7 256.9h0M1070.7 256.3h0M1107.2 256.5h0M1014.4 257.7h0M1063.9 257.1h0M1105.9 257.9h0M1118.1 257.3h0M1081.7 258.5h0M1109.7 258.7h0M1112.2 258.2h0M1145.5 258.6h0M979.9 259.4h0M998.7 259.2h0M1033.9 259.4h0M1087.1 259.9h0M1088.2 259.8h0M1036.4 260.8h0M1115.1 260.1h0M978.3 261.6h0M981.8 261.1h0M1014.0 261.6h0M1029.2 261.2h0M1037.6 261.5h0M1065.0 261.6h0M1092.5 261.8h0M1131.4 261.2h0M964.3 262.2h0M1003.2 262.9h0M1007.0 262.6h0M1014.3 262.2h0M1076.5 262.1h0M1106.1 262.5h0M1148.3 262.0h0M1026.8 263.8h0M1042.4 263.3h0M1103.4 263.9h0M1105.8 263.6h0M1113.1 263.2h0M1144.1 263.8h0M1007.5 264.4h0M1012.5 264.3h0M1013.7 264.8h0M1047.5 264.1h0M1072.3 264.8h0M1076.1 264.1h0M1124.6 264.7h0M1126.9 264.6h0M983.6 266.0h0M1005.8 265.5h0M1024.1 265.3h0M1032.7 265.5h0M1035.5 265.1h0M1041.2 265.3h0M1084.5 266.0h0M1115.9 265.3h0M1014.6 266.1h0M1022.7 266.8h0M1030.9 266.4h0M1031.4 266.7h0M1033.7 266.0h0M1064.2 266.9h0M1077.0 266.6h0M1084.9 266.6h0M1119.4 266.7h0M1135.6 266.2h0M1135.9 266.7h0M1008.5 267.3h0M1010.7 267.3h0M1033.8 267.1h0M1037.9 267.2h0M1042.4 267.5h0M1063.2 267.9h0M1101.6 267.9h0M1021.7 268.1h0M1040.7 268.5h0M1044.2 268.5h0M1050.6 268.4h0M1072.9 268.1h0M1097.0 268.1h0M1106.5 268.6h0M1107.1 268.8h0M1137.5 268.9h0M1036.8 269.7h0M1064.2 269.8h0M1068.2 269.3h0M1100.2 269.9h0M1118.4 269.9h0M1124.1 269.6h0M1014.3 270.1h0M1024.2 270.6h0M1063.2 271.0h0M1075.2 270.0h0M1076.5 270.8h0M1080.2 271.0h0M1091.7 270.1h0M1097.5 270.4h0M1101.4 270.4h0M1110.0 270.1h0M1136.1 270.0h0M1023.3 271.3h0M1025.7 271.5h0M1080.1 271.4h0M1083.0 271.8h0M1142.5 271.3h0M965.9 272.9h0M986.1 272.4h0M1014.4 272.1h0M1043.0 272.9h0M1045.7 272.2h0M1063.2 272.5h0M1067.8 272.6h0M1072.5 272.8h0M1077.2 272.4h0M1146.2 272.2h0M971.1 273.6h0M1003.2 273.8h0M1023.2 273.7h0M1029.3 273.2h0M1038.4 273.5h0M1039.3 273.3h0M1069.9 273.7h0M1097.4 273.2h0M1104.2 273.6h0M1135.1 273.1h0M1138.8 273.5h0M963.6 274.4h0M995.1 274.9h0M1010.8 274.7h0M1033.5 274.4h0M1038.8 274.8h0M1047.0 274.7h0M1110.1 274.5h0M1131.1 274.0h0M989.0 275.6h0M998.1 276.0h0M998.7 276.0h0M1032.5 275.4h0M1044.2 275.5h0M1110.2 275.5h0M1118.8 275.7h0M962.3 276.1h0M976.0 276.7h0M1004.8 276.1h0M1015.8 276.4h0M1029.2 276.5h0M1040.5 276.1h0M1046.5 276.7h0M1094.0 276.1h0M1100.4 276.2h0M985.6 277.3h0M999.2 277.0h0M1008.2 277.2h0M1010.1 278.0h0M1010.7 277.0h0M1032.9 277.0h0M1040.5 277.5h0M1068.6 277.9h0M1078.4 277.7h0M1093.9 277.4h0M1094.8 277.2h0M1100.0 277.9h0M1111.7 277.1h0M1136.3 277.2h0M1155.9 277.2h0M999.6 278.5h0M1002.5 279.0h0M1017.5 278.8h0M1076.3 278.3h0M1108.3 278.7h0M1117.6 278.7h0M1029.0 279.4h0M1031.1 279.4h0M1034.6 279.8h0M1039.6 279.2h0M1042.8 279.9h0M1043.7 279.2h0M1062.3 279.8h0M1070.8 280.0h0M1071.6 279.7h0M1123.5 279.2h0M1133.1 279.4h0M1134.4 279.0h0M1150.9 279.1h0M967.1 280.6h0M973.4 280.6h0M1015.6 280.5h0M1025.4 280.6h0M1034.6 280.0h0M1049.9 280.6h0M1066.7 280.0h0M1077.3 281.0h0M1079.0 280.6h0M1084.0 280.9h0M1090.1 280.9h0M1112.8 280.8h0M975.8 281.6h0M995.4 281.0h0M1007.3 281.0h0M1015.3 282.0h0M1040.1 281.3h0M1048.1 281.7h0M1066.5 281.5h0M1093.4 281.2h0M1154.9 281.6h0M1156.2 281.8h0M1024.6 282.0h0M1029.8 282.5h0M1033.9 283.0h0M1046.3 282.7h0M1069.1 282.0h0M1074.9 283.0h0M1079.0 282.4h0M1085.5 282.9h0M1088.1 282.2h0M1089.8 282.3h0M1112.6 282.4h0M1148.4 282.5h0M1066.8 283.2h0M1067.2 283.8h0M1075.0 283.3h0M1077.4 283.8h0M1081.4 283.2h0M992.9 284.4h0M1002.6 284.6h0M1027.1 284.3h0M1031.1 284.7h0M1044.8 284.7h0M1045.2 284.1h0M1072.1 284.4h0M1074.4 284.8h0M1080.7 284.0h0M1094.5 284.2h0M1100.3 285.0h0M1108.1 284.9h0M1124.5 284.4h0M1143.2 284.4h0M999.7 285.2h0M1009.7 285.3h0M1072.2 285.6h0M1080.0 286.0h0M1080.9 285.3h0M1095.3 285.8h0M1121.8 285.7h0M1130.5 285.9h0M1145.6 285.8h0M1000.9 287.0h0M1001.7 286.6h0M1005.2 286.5h0M1015.0 286.0h0M1025.8 286.8h0M1064.1 286.1h0M1065.3 286.6h0M1073.1 286.6h0M1080.9 287.0h0M1093.3 286.1h0M1151.4 286.2h0M1016.3 287.7h0M1027.3 287.5h0M1093.3 287.8h0M1099.7 287.3h0M1136.2 288.0h0M1031.5 288.4h0M1049.2 288.8h0M1077.8 288.1h0M1108.5 288.8h0M1124.8 288.4h0M1130.9 288.3h0M962.4 289.6h0M969.0 289.6h0M1016.5 290.0h0M1020.9 289.2h0M1026.1 289.2h0M1032.6 289.7h0M1044.7 289.7h0M1047.1 289.5h0M1050.0 289.3h0M1069.8 289.3h0M1071.6 289.2h0M1101.7 289.0h0M1104.3 289.4h0M1104.5 289.1h0M1107.7 289.4h0M1107.2 289.7h0M1135.2 290.0h0M1150.2 289.5h0M982.5 290.8h0M995.7 290.2h0M1012.2 290.5h0M1013.2 290.8h0M1016.5 290.7h0M1024.4 290.3h0M1025.0 290.1h0M1031.5 290.5h0M1038.5 290.9h0M1041.3 290.8h0M1091.0 290.9h0M1109.7 291.0h0M1113.4 290.8h0M1119.9 290.4h0M972.8 291.8h0M992.9 291.7h0M995.3 291.4h0M1013.8 291.6h0M1020.1 291.3h0M1023.4 291.7h0M1026.1 291.7h0M1033.4 291.2h0M1046.5 291.7h0M1088.0 291.2h0M1106.7 291.0h0M1106.1 291.1h0M1141.8 291.0h0M1000.3 292.6h0M1006.7 292.6h0M1007.8 292.7h0M1013.2 292.3h0M1031.3 292.2h0M1035.1 292.3h0M1039.3 292.8h0M1051.4 292.5h0M1066.0 293.0h0M1069.7 292.1h0M1074.9 292.7h0M1082.6 292.7h0M1082.3 292.5h0M1095.1 292.3h0M1131.1 292.4h0M1140.1 292.1h0M1142.2 292.1h0M962.2 293.9h0M982.6 293.1h0M1005.2 293.3h0M1018.9 293.8h0M1023.0 293.2h0M1026.0 293.0h0M1044.4 293.5h0M1048.5 293.2h0M1049.2 293.9h0M1062.9 293.9h0M1077.1 293.9h0M1081.3 293.3h0M1082.4 293.2h0M1091.5 293.7h0M1095.9 293.2h0M1110.2 293.4h0M1150.9 293.0h0M968.9 294.1h0M1012.2 294.2h0M1017.4 294.4h0M1025.6 294.7h0M1031.3 294.2h0M1042.2 294.6h0M1070.4 294.1h0M1099.9 294.2h0M1135.7 294.4h0M965.6 295.6h0M968.8 295.7h0M1000.3 295.8h0M1006.1 295.5h0M1016.2 295.4h0M1019.9 295.5h0M1026.0 295.5h0M1032.4 295.8h0M1035.9 295.3h0M1037.9 295.2h0M1051.5 295.3h0M1070.5 295.9h0M1070.0 295.2h0M1088.4 295.9h0M1095.6 295.6h0M1095.2 295.6h0M1098.3 295.3h0M974.3 296.5h0M977.4 296.8h0M1015.5 296.6h0M1039.8 296.5h0M1046.9 296.9h0M1049.7 296.4h0M1051.7 296.0h0M1063.2 296.4h0M1069.7 296.6h0M1070.1 296.6h0M1077.4 296.9h0M1081.6 296.7h0M1087.6 296.2h0M1090.1 296.3h0M1129.6 296.3h0M984.8 297.6h0M993.1 297.4h0M1009.2 297.3h0M1024.7 297.6h0M1029.9 297.4h0M1042.7 297.7h0M1042.1 297.4h0M1043.9 297.0h0M1045.1 298.0h0M1048.8 297.2h0M1069.7 297.3h0M1074.7 297.9h0M1087.4 297.6h0M1094.1 297.4h0M1119.2 297.2h0M1128.1 297.3h0M1135.4 297.6h0M1136.5 298.0h0M1140.9 298.0h0M1152.8 297.9h0M1155.3 297.2h0M958.6 298.0h0M964.5 298.1h0M1008.1 298.7h0M1012.1 298.9h0M1013.8 298.1h0M1031.4 298.4h0M1037.0 298.3h0M1041.7 298.7h0M1050.2 298.0h0M1067.8 298.8h0M1078.0 298.8h0M1082.4 298.0h0M1113.8 298.9h0M1129.1 298.1h0M1149.5 298.2h0M994.4 299.7h0M1017.2 299.5h0M1022.4 299.7h0M1028.8 300.0h0M1030.8 299.5h0M1032.8 299.1h0M1046.6 299.8h0M1047.1 299.9h0M1051.1 299.6h0M1077.9 299.4h0M1077.0 299.8h0M1078.2 299.4h0M1078.0 299.6h0M1092.3 299.9h0M1100.7 299.2h0M1102.1 299.1h0M1106.3 299.5h0M1003.9 300.1h0M1019.3 300.7h0M1020.4 300.8h0M1027.8 300.6h0M1033.6 300.0h0M1045.9 300.3h0M1070.2 300.3h0M1071.2 300.9h0M1072.3 300.2h0M1074.6 300.1h0M1084.9 301.0h0M1103.7 300.7h0M1106.3 300.4h0M1121.7 300.3h0M1139.2 300.5h0M965.0 301.4h0M1005.1 301.3h0M1009.2 302.0h0M1012.1 301.3h0M1016.1 301.6h0M1017.3 301.6h0M1017.2 301.3h0M1034.5 301.6h0M1037.4 301.6h0M1038.7 301.4h0M1039.7 302.0h0M1039.1 301.4h0M1042.6 301.5h0M1043.2 301.9h0M1049.9 301.7h0M1051.6 301.7h0M1062.2 301.5h0M1066.1 301.5h0M1074.6 301.3h0M1083.9 301.7h0M1084.0 301.9h0M1128.1 301.1h0M1131.3 301.4h0M1142.4 301.5h0M998.9 302.2h0M1002.7 302.2h0M1009.0 302.1h0M1027.6 302.8h0M1029.6 302.3h0M1029.9 302.8h0M1031.9 302.3h0M1040.2 302.2h0M1043.3 302.4h0M1062.5 302.6h0M1062.1 302.4h0M1063.1 302.8h0M1066.1 302.6h0M1067.0 302.0h0M1071.7 302.8h0M1074.4 302.7h0M1078.7 302.4h0M1101.2 302.6h0M1102.3 302.1h0M1105.6 302.6h0M1109.2 302.8h0M1135.8 302.3h0M1141.9 303.0h0M959.5 303.7h0M1012.0 303.2h0M1014.2 303.9h0M1019.4 303.9h0M1035.3 303.5h0M1046.4 303.3h0M1049.4 303.6h0M1050.7 303.6h0M1063.2 303.2h0M1072.0 303.5h0M1075.6 303.1h0M1105.7 303.7h0M1119.1 303.1h0M1122.3 303.5h0M1128.4 304.0h0M1134.4 303.9h0M1153.7 304.0h0M966.7 304.8h0M984.8 304.7h0M1003.8 304.3h0M1007.7 305.0h0M1021.8 304.3h0M1024.1 304.3h0M1067.4 304.8h0M1071.6 304.1h0M1071.1 304.9h0M1081.8 304.3h0M1086.4 304.8h0M1097.0 304.5h0M1101.1 304.7h0M1108.8 304.3h0M1131.2 304.6h0M1146.5 304.1h0M1153.2 304.6h0M1154.2 304.2h0M1012.0 305.4h0M1020.2 305.2h0M1022.5 305.5h0M1034.2 305.1h0M1036.0 305.3h0M1042.0 305.4h0M1046.1 305.9h0M1047.0 305.7h0M1062.9 305.5h0M1080.8 305.3h0M1083.5 305.0h0M1087.4 305.6h0M1101.9 305.6h0M1108.6 305.9h0M1118.0 305.3h0M1145.9 306.0h0M998.6 306.9h0M1025.4 306.6h0M1051.8 306.8h0M1075.4 306.3h0M1112.0 306.3h0M1120.6 306.2h0M1122.5 306.4h0M1140.1 306.1h0M1145.3 306.1h0M970.9 307.7h0M984.9 307.4h0M997.3 307.2h0M1000.9 307.7h0M1014.0 307.9h0M1040.1 308.0h0M1040.7 307.3h0M1046.3 307.1h0M1051.8 307.7h0M1062.6 307.5h0M1082.6 307.4h0M1086.0 307.5h0M1123.2 307.3h0M975.5 308.4h0M1000.3 308.7h0M1009.8 308.4h0M1023.0 308.9h0M1048.2 308.5h0M1051.4 308.6h0M1052.0 308.5h0M1062.7 308.6h0M1063.0 308.5h0M1080.1 308.1h0M1082.3 308.2h0M1093.1 308.5h0M1098.1 308.8h0M1115.0 308.4h0M1138.3 308.2h0M959.8 309.6h0M959.7 309.5h0M1016.3 309.2h0M1063.9 309.4h0M1076.4 309.8h0M1078.8 309.9h0M1092.9 309.1h0M1100.3 309.4h0M1106.8 309.8h0M1115.4 309.0h0M1118.7 309.1h0M1141.9 309.2h0M980.1 310.2h0M987.0 310.8h0M996.2 310.3h0M1077.2 310.2h0M1088.3 310.2h0M1089.6 310.6h0M1101.4 310.8h0M1104.5 310.7h0M1119.1 310.7h0M1139.2 310.5h0M1141.5 310.0h0M959.0 311.2h0M972.5 311.9h0M994.2 311.3h0M1004.4 311.4h0M1007.0 312.0h0M1011.4 311.4h0M1021.7 311.9h0M1048.7 311.3h0M1050.8 311.8h0M1050.8 311.8h0M1050.3 311.2h0M1051.7 311.4h0M1062.6 311.3h0M1062.5 311.7h0M1077.8 311.0h0M1077.9 311.3h0M1092.6 311.0h0M1099.2 312.0h0M1101.3 311.0h0M1129.1 311.9h0M1140.2 311.8h0M1147.1 312.0h0M1155.0 311.9h0M972.5 312.8h0M982.9 312.7h0M989.1 312.9h0M992.4 312.9h0M1000.3 312.5h0M1004.0 312.8h0M1009.9 312.2h0M1009.9 312.6h0M1063.5 312.4h0M1063.5 312.1h0M1078.5 312.6h0M1078.2 313.0h0M1109.0 312.9h0M1110.1 312.6h0M1143.2 312.1h0M1149.5 312.7h0M1155.6 312.8h0M961.4 314.0h0M977.5 314.0h0M988.0 313.2h0M993.9 313.6h0M1000.9 313.9h0M1001.9 313.8h0M1002.1 313.4h0M1003.7 313.6h0M1009.8 313.8h0M1014.1 313.5h0M1014.6 313.8h0M1017.4 313.5h0M1062.4 313.5h0M1079.2 313.6h0M1080.2 313.6h0M1089.3 313.1h0M1115.2 313.3h0M1119.3 313.2h0M1127.8 313.8h0M1134.5 313.3h0M1136.8 313.4h0M994.5 314.4h0M1015.7 314.5h0M1019.2 314.9h0M1050.4 314.5h0M1063.1 314.4h0M1088.3 314.2h0M1113.3 314.5h0M1151.7 314.8h0M1155.8 314.1h0M1005.9 315.1h0M1012.2 315.8h0M1013.4 315.8h0M1015.2 315.6h0M1062.1 315.4h0M1063.6 315.7h0M1090.3 315.1h0M1096.0 315.9h0M1101.6 315.9h0M1107.7 315.9h0M1113.3 316.0h0M1114.6 315.9h0M1117.0 315.7h0M1117.5 315.2h0M1118.8 315.5h0M1136.9 316.0h0M1137.2 315.9h0M1141.3 315.6h0M1144.9 315.6h0M972.9 316.1h0M990.7 316.3h0M991.0 317.0h0M994.4 316.0h0M995.7 316.2h0M1008.1 316.4h0M1051.7 316.1h0M1063.0 316.1h0M1064.5 316.4h0M1092.1 316.9h0M1094.8 316.2h0M1119.8 316.1h0M1132.3 316.1h0M1137.3 316.1h0M1151.6 316.4h0M1154.9 316.1h0M990.1 317.9h0M1003.8 317.5h0M1007.2 317.7h0M1008.9 317.2h0M1009.0 317.9h0M1049.5 317.4h0M1063.9 317.7h0M1089.5 317.5h0M1092.0 317.4h0M1096.8 317.2h0M1104.6 317.2h0M1105.6 317.2h0M1106.0 317.2h0M1114.9 317.1h0M1114.2 317.3h0M1116.8 317.8h0M1125.5 317.3h0M977.6 318.8h0M997.1 318.3h0M1000.1 318.2h0M1012.1 318.8h0M1048.4 318.2h0M1050.3 318.7h0M1088.0 318.2h0M1094.5 318.7h0M1094.2 318.1h0M1100.5 318.9h0M1102.7 318.0h0M1102.9 318.5h0M1103.7 318.4h0M1107.0 318.7h0M1111.0 318.8h0M1129.1 318.6h0M1139.5 318.8h0M975.1 319.0h0M987.6 319.2h0M994.1 319.4h0M1052.0 319.0h0M1062.0 319.9h0M1063.8 319.5h0M1063.2 319.9h0M1104.8 319.2h0M1111.3 319.0h0M1111.2 319.5h0M1114.0 319.3h0M1142.9 320.0h0M1153.2 319.9h0M961.2 320.2h0M978.6 320.1h0M992.5 320.9h0M1006.2 320.6h0M1008.4 320.9h0M1010.3 320.6h0M1014.0 320.9h0M1051.3 320.8h0M1051.2 320.4h0M1051.3 320.4h0M1062.8 320.1h0M1095.8 320.9h0M1098.4 321.0h0M1107.5 320.6h0M1137.4 320.8h0M1143.5 320.4h0M1145.8 320.8h0M1154.2 320.4h0M978.7 321.9h0M982.0 321.6h0M984.0 321.7h0M1001.7 321.2h0M1006.7 321.4h0M1049.8 321.0h0M1050.4 321.1h0M1050.4 321.7h0M1062.9 321.1h0M1096.5 321.4h0M1098.6 321.0h0M1104.2 321.4h0M1116.0 321.7h0M1127.4 321.3h0M1128.9 321.7h0M1130.4 321.6h0M1131.2 321.6h0M1134.6 321.8h0M958.3 322.4h0M973.5 323.0h0M978.9 322.2h0M984.8 322.3h0M989.1 322.4h0M990.8 322.2h0M1006.2 323.0h0M1051.7 322.6h0M1063.1 322.7h0M1096.0 322.0h0M1109.6 322.2h0M1122.7 322.1h0M1138.6 322.4h0M973.8 323.1h0M975.6 323.8h0M985.4 323.1h0M993.8 323.9h0M1006.9 323.9h0M1007.4 323.6h0M1051.1 323.7h0M1052.5 323.3h0M1096.6 323.5h0M1101.0 323.9h0M1105.6 323.6h0M1112.6 323.3h0M1116.9 324.0h0M1121.8 323.2h0M1126.1 323.3h0M1129.0 323.8h0M1135.1 323.3h0M1137.5 323.6h0M1150.2 323.1h0M968.1 324.7h0M991.1 324.2h0M993.1 324.2h0M1007.8 324.9h0M1010.8 324.3h0M1049.8 324.5h0M1052.2 324.8h0M1063.9 324.4h0M1063.4 324.5h0M1109.7 324.3h0M1112.6 324.8h0M1112.7 324.1h0M1118.9 324.1h0M1123.9 324.0h0M1124.8 324.1h0M1130.0 324.8h0M1138.3 324.0h0M1148.9 324.7h0M961.2 325.2h0M971.6 325.4h0M979.5 325.9h0M998.2 326.0h0M999.7 325.6h0M999.2 325.7h0M999.8 325.6h0M1001.8 325.9h0M1009.2 325.3h0M1050.4 325.1h0M1051.6 325.4h0M1102.4 325.8h0M1102.4 325.3h0M1110.4 325.7h0M1116.0 325.2h0M1119.0 325.1h0M1120.2 325.3h0M1120.1 325.4h0M1139.6 325.5h0M1147.5 325.3h0M975.7 326.1h0M988.2 326.2h0M1003.4 326.4h0M1004.3 326.4h0M1004.5 326.9h0M1050.2 326.9h0M1052.3 326.8h0M1062.3 327.0h0M1103.6 326.6h0M1116.0 326.4h0M1126.2 326.7h0M1130.6 326.5h0M1141.7 326.3h0M1144.1 326.9h0M1148.6 326.3h0M975.2 327.1h0M1052.6 327.3h0M1122.1 327.2h0M1128.6 327.2h0M1137.3 327.7h0M1142.7 327.7h0M1146.1 327.7h0M958.0 328.2h0M978.5 328.4h0M981.7 328.3h0M986.1 328.4h0M991.1 328.2h0M996.4 328.8h0M1052.1 328.4h0M1062.0 328.3h0M1062.1 329.0h0M1064.1 328.3h0M1110.0 328.3h0M1111.9 328.9h0M1120.0 328.1h0M1120.4 328.2h0M1136.9 328.2h0M1139.3 328.8h0M1142.9 328.4h0M1150.7 328.6h0M1151.9 328.3h0M960.3 329.2h0M964.1 329.9h0M996.1 329.5h0M1002.9 329.8h0M1002.8 329.7h0M1052.8 329.4h0M1052.9 329.7h0M1052.3 329.9h0M1065.0 329.6h0M1125.0 329.2h0M1129.7 329.4h0M1132.7 329.7h0M1134.3 329.6h0M1152.6 329.4h0M973.6 330.1h0M974.2 330.1h0M994.2 330.1h0M1001.4 330.6h0M1052.8 330.3h0M1052.8 330.5h0M1123.1 330.5h0M1136.8 330.1h0M1137.6 330.5h0M1138.5 330.2h0M1141.0 330.6h0M1148.0 330.7h0M1150.5 330.2h0M1153.9 330.6h0M965.5 331.7h0M972.7 331.5h0M997.7 331.9h0M998.2 331.5h0M1001.5 331.7h0M1051.4 331.6h0M1052.7 331.6h0M1062.0 331.9h0M1115.5 331.5h0M1126.7 331.6h0M1127.6 331.1h0M1129.1 331.9h0M1130.1 331.0h0M1131.9 331.2h0M1136.1 331.9h0M1145.5 331.1h0M992.1 332.4h0M1002.2 332.4h0M1049.5 332.1h0M1051.0 332.1h0M1052.3 332.8h0M1052.3 332.6h0M1062.7 332.2h0M1062.2 332.2h0M1063.8 332.6h0M1063.8 332.5h0M1123.4 332.5h0M1138.9 332.8h0M1141.5 332.8h0M1145.4 332.8h0M961.0 333.8h0M974.4 333.1h0M975.5 333.6h0M977.1 333.2h0M977.4 333.5h0M994.5 333.7h0M995.3 333.7h0M1062.8 333.9h0M1064.0 333.3h0M959.8 334.7h0M966.4 334.6h0M970.7 334.7h0M978.3 334.4h0M994.2 334.9h0M998.2 334.5h0M999.7 334.1h0M1050.4 334.3h0M1051.4 334.9h0M1062.7 334.3h0M1122.5 334.6h0M1133.7 334.6h0M1135.6 335.0h0M1138.8 334.2h0M1154.3 334.7h0M959.9 335.4h0M959.2 335.6h0M963.1 335.4h0M970.7 335.9h0M976.3 335.3h0M982.3 335.5h0M991.4 336.0h0M1051.2 335.6h0M1052.5 335.8h0M1062.9 335.3h0M1062.8 335.8h0M1062.6 335.1h0M1062.8 335.3h0M1063.6 335.7h0M1063.2 335.0h0M1121.4 335.4h0M1134.1 335.5h0M981.8 336.7h0M983.8 336.1h0M987.0 336.1h0M1128.0 336.8h0M1131.6 336.3h0M1137.2 336.1h0M1143.3 336.9h0M1148.1 336.1h0M968.7 337.7h0M972.8 337.5h0M976.8 337.7h0M977.2 337.5h0M983.1 337.8h0M998.4 337.2h0M1052.6 337.7h0M1062.1 337.0h0M1128.1 337.6h0M1144.4 338.0h0M1148.4 337.7h0M959.8 338.9h0M959.0 338.8h0M986.9 338.5h0M1051.2 338.0h0M1051.5 338.2h0M1052.5 338.7h0M1062.7 338.7h0M1137.6 338.9h0M1140.3 338.5h0M1143.2 338.7h0M1144.4 338.1h0M964.8 339.7h0M965.8 339.3h0M978.6 339.7h0M989.6 340.0h0M1051.3 339.1h0M1051.1 339.9h0M1051.8 339.0h0M1062.4 339.8h0M1063.6 339.7h0M1065.0 339.0h0M1143.8 339.2h0M1156.2 339.7h0M984.7 340.9h0M988.2 340.4h0M989.3 340.9h0M994.9 340.4h0M1065.3 341.0h0M1155.2 340.5h0M988.1 342.0h0M1052.0 341.5h0M1062.4 341.7h0M961.1 342.6h0M973.5 342.0h0M974.2 342.9h0M977.2 342.4h0M1051.8 342.4h0M1052.4 342.8h0M1154.1 342.6h0M982.4 343.8h0M989.8 343.4h0M992.6 343.4h0M1049.1 343.2h0M1062.4 343.7h0M966.2 344.4h0M977.2 344.3h0M984.6 344.0h0M1153.8 344.9h0M980.3 345.3h0M1049.9 345.1h0M1051.6 345.8h0M1051.0 345.3h0M1062.1 345.3h0M1062.4 345.9h0M1063.8 345.0h0M1064.0 345.3h0M1063.3 345.5h0M972.5 346.7h0M980.3 346.0h0M987.9 346.8h0M989.6 346.0h0M1049.4 346.7h0M1051.9 346.2h0M1063.6 346.7h0M979.7 347.5h0M983.9 347.4h0M983.0 347.9h0M1051.5 347.9h0M1051.5 347.5h0M1051.3 347.4h0M1062.4 347.8h0M1062.9 347.7h0M1063.6 347.1h0M1064.0 347.5h0M1153.7 347.9h0M974.2 348.0h0M976.6 349.0h0M1050.5 348.3h0M1051.5 348.5h0M1062.0 348.4h0M1152.6 348.1h0M968.1 349.5h0M978.9 349.8h0M980.8 349.7h0M1052.2 349.6h0M1062.2 349.9h0M963.1 350.5h0M971.2 350.1h0M974.9 350.7h0M975.0 350.6h0M1050.6 350.0h0M1051.5 350.0h0M1061.5 350.5h0M973.9 351.3h0M983.0 351.2h0M985.6 352.0h0M1051.8 351.3h0M1051.3 351.9h0M1153.9 351.6h0M958.7 352.9h0M965.8 352.8h0M971.8 352.4h0M978.3 352.2h0M979.4 352.8h0M979.7 352.5h0M983.6 352.4h0M1050.1 352.9h0M1051.0 352.1h0M1062.1 353.0h0M1061.6 353.7h0M1062.5 353.3h0M960.2 354.4h0M961.1 354.1h0M970.8 354.5h0M976.1 354.7h0M1062.7 354.3h0M1152.3 354.9h0M1153.9 354.7h0M1156.3 354.4h0M970.3 355.6h0M971.2 355.7h0M973.5 355.7h0M1051.4 355.9h0M1061.3 355.6h0M1062.4 355.6h0M1064.4 355.4h0M961.5 356.9h0M964.3 356.9h0M966.9 356.9h0M974.3 356.6h0M976.0 356.7h0M1052.4 357.0h0M1154.9 356.4h0M959.2 357.2h0M965.7 357.5h0M969.7 357.7h0M969.8 357.1h0M1050.0 357.6h0M962.6 358.1h0M968.3 358.5h0M979.3 359.0h0M1051.8 358.6h0M1052.8 358.2h0M1062.4 358.0h0M1154.5 358.0h0M977.0 359.6h0M1053.0 359.2h0M1052.9 359.8h0M1062.0 359.1h0M1155.9 359.3h0M964.9 360.8h0M967.1 360.4h0M975.2 361.0h0M1050.7 360.7h0M1051.5 360.6h0M1052.0 360.7h0M1052.5 360.6h0M1061.1 360.0h0M1064.9 360.6h0M958.2 361.8h0M960.6 361.7h0M967.3 362.0h0M974.7 361.0h0M1049.6 361.9h0M1051.9 361.7h0M1061.7 361.0h0M1154.6 361.7h0M1155.9 361.4h0M972.7 362.2h0M1052.3 363.0h0M964.4 363.4h0M969.1 363.2h0M1050.4 363.6h0M1051.4 363.5h0M1051.0 363.9h0M1154.1 363.3h0M963.8 364.5h0M969.3 364.3h0M972.9 364.3h0M973.7 364.1h0M1051.5 364.6h0M1061.2 364.3h0M1061.0 364.8h0M1062.1 365.0h0M972.4 365.4h0M1051.9 365.8h0M1061.8 365.7h0M1062.1 365.6h0M1154.4 365.8h0M958.6 366.2h0M958.6 366.4h0M1050.7 366.3h0M1063.5 366.6h0M971.7 367.4h0M1061.6 367.4h0M1061.8 367.5h0M1062.5 367.3h0M964.9 368.7h0M965.6 368.1h0M968.2 368.4h0M969.7 368.4h0M1050.8 368.2h0M1051.7 368.9h0M1051.8 368.3h0M1062.9 368.7h0M1064.8 368.2h0M1152.6 368.0h0M960.0 369.5h0M1052.4 369.3h0M1061.6 369.4h0M1061.9 369.4h0M1062.1 369.6h0M1062.4 369.9h0M1062.4 369.0h0M1063.1 369.0h0M1064.5 369.1h0M1154.6 369.5h0M959.0 370.0h0M962.9 370.5h0M1051.8 370.9h0M1061.9 370.9h0M1062.1 371.0h0M959.9 371.4h0M962.3 371.1h0M969.6 371.1h0M1050.5 371.9h0M1051.4 371.4h0M967.9 372.6h0M1049.5 373.0h0M1051.9 372.4h0M1061.5 372.9h0M1049.8 373.1h0M1062.3 373.3h0M1154.3 373.9h0M958.0 374.7h0M960.3 374.4h0M964.7 374.3h0M1051.9 374.1h0M1052.4 375.0h0M967.6 375.5h0M1050.6 375.3h0M1051.1 375.9h0M1062.8 375.8h0M965.0 376.6h0M967.7 376.0h0M962.6 377.0h0M965.2 377.7h0M1061.3 377.6h0M1152.6 377.1h0M961.1 378.8h0M1052.9 378.1h0M1053.0 378.4h0M961.8 379.3h0M1052.8 379.5h0M1052.7 379.5h0M1155.9 379.6h0M1052.6 380.6h0M1052.3 380.7h0M1049.4 381.1h0M1062.6 381.2h0M1062.7 381.3h0M958.4 382.7h0M1051.6 383.0h0M1153.3 382.4h0M961.2 383.6h0M963.8 383.0h0M1051.7 383.4h0M1062.6 383.3h0M1154.7 383.0h0M1154.4 383.3h0M961.9 384.5h0M962.6 384.9h0M962.3 384.8h0M1049.2 384.2h0M1051.7 384.9h0M1063.8 384.6h0M1064.3 384.7h0M1155.3 384.3h0M960.0 385.2h0M1050.6 385.6h0M1050.5 385.0h0M961.8 386.8h0M1061.5 386.8h0M1064.8 386.7h0M960.3 387.8h0M962.3 387.7h0M1052.0 387.0h0M1052.4 387.7h0M960.7 388.8h0M1051.5 388.8h0M1051.2 388.9h0M1152.2 388.7h0M1152.9 388.1h0M1053.2 389.7h0M1053.4 390.6h0M1152.6 390.9h0M1052.6 391.3h0M1053.5 391.9h0M1061.2 391.2h0M1061.5 391.1h0M1061.1 391.6h0M1152.3 391.5h0M1156.1 391.8h0M1052.7 392.1h0M1063.1 392.4h0M961.8 393.3h0M1062.5 393.9h0M959.3 394.3h0M1052.6 394.1h0M1062.6 394.8h0M1052.4 395.4h0M1053.1 395.4h0M1061.4 395.3h0M1154.2 395.3h0M959.7 396.3h0M1052.3 396.5h0M1052.2 396.1h0M1064.2 396.5h0M959.3 397.6h0M1063.3 397.8h0M1052.6 398.4h0M1052.7 398.6h0M1053.0 398.1h0M1062.5 398.6h0M1062.7 398.3h0M1155.9 398.3h0M1051.5 400.7h0M1053.5 400.5h0M1063.4 400.0h0M1154.1 400.1h0M1156.0 400.6h0M1050.3 401.1h0M1064.0 401.5h0M959.6 402.5h0M1051.6 402.1h0M1052.7 402.3h0M1052.4 402.5h0M1053.3 402.7h0M1053.4 402.4h0M1061.2 402.9h0M1062.9 402.1h0M959.0 403.0h0M1052.6 403.8h0M1061.6 403.2h0M961.4 404.7h0M1052.9 404.9h0M1061.8 404.3h0M1153.1 404.6h0M960.1 406.0h0M1053.3 405.9h0M1062.6 406.0h0M960.8 406.9h0M1062.4 406.5h0M1062.1 406.4h0M1152.6 406.0h0M1052.2 407.2h0M1053.8 407.7h0M1155.6 407.9h0M958.0 408.8h0M1064.8 408.9h0M960.7 409.5h0M1051.6 409.7h0M1053.1 409.5h0M1053.0 409.2h0M1063.0 409.8h0M1062.5 409.2h0M958.3 410.4h0M959.3 410.3h0M1051.6 410.5h0M1052.8 410.7h0M1052.4 410.9h0M1061.3 410.7h0M1062.6 410.6h0M1062.8 410.8h0M1064.9 410.9h0M1064.7 411.4h0M1152.1 411.3h0M906.0 412.6h0M931.2 412.6h0M939.2 412.3h0M953.8 412.5h0M956.6 412.5h0M958.2 412.2h0M1052.3 412.9h0M1166.7 412.4h0M1190.4 412.9h0M1199.3 412.4h0M1199.3 412.8h0M1201.1 412.8h0M1206.9 412.9h0M1217.9 412.5h0M1226.8 412.5h0M1232.0 412.5h0M1239.8 412.8h0M1244.6 412.7h0M1249.3 412.3h0M1249.4 412.5h0M1268.9 412.9h0M905.2 413.7h0M914.5 413.0h0M958.3 413.3h0M1052.2 413.2h0M1052.2 413.2h0M1061.3 413.9h0M1062.6 413.9h0M1062.1 413.0h0M1063.1 413.3h0M1156.3 413.4h0M1158.4 413.1h0M1158.1 413.5h0M1179.0 413.3h0M1201.5 413.0h0M1201.9 414.0h0M1204.8 413.3h0M1204.6 414.0h0M1205.0 413.1h0M1208.9 413.1h0M1212.3 413.6h0M1214.2 413.2h0M1218.0 413.0h0M1218.1 413.1h0M1243.6 413.2h0M1250.0 413.8h0M1251.6 413.5h0M1264.9 413.7h0M1267.0 413.9h0M891.4 414.5h0M904.6 414.9h0M958.0 414.1h0M959.2 414.7h0M1053.5 414.1h0M1061.3 414.9h0M1155.9 414.9h0M1160.0 414.0h0M1163.1 414.7h0M1167.1 414.0h0M1183.6 414.7h0M1199.9 414.9h0M1207.6 414.8h0M1231.6 414.6h0M1233.0 414.3h0M1236.6 414.4h0M1241.8 414.8h0M1255.8 414.3h0M919.2 415.0h0M930.0 415.4h0M941.7 415.2h0M942.1 415.2h0M945.5 415.5h0M955.5 416.0h0M1052.6 415.1h0M1060.7 415.7h0M1060.6 415.2h0M1062.3 415.1h0M1164.1 415.8h0M1165.5 415.7h0M1185.6 415.0h0M1191.1 415.0h0M1194.0 415.4h0M1199.2 415.7h0M1218.8 415.8h0M1227.5 415.1h0M1228.9 415.2h0M1231.8 415.2h0M1232.9 415.5h0M1241.3 415.6h0M1245.7 416.0h0M1267.3 415.7h0M1268.2 415.7h0M1274.0 415.8h0M896.5 416.6h0M921.6 416.4h0M1052.9 416.0h0M1053.2 416.8h0M1060.2 416.9h0M1241.2 416.6h0M1245.2 416.7h0M1249.0 416.2h0M1273.7 416.0h0M927.1 417.3h0M934.9 417.5h0M1052.5 417.3h0M1053.2 417.7h0M1053.1 417.6h0M1053.2 417.8h0M1247.9 417.8h0M1256.1 417.2h0M1257.4 418.0h0M926.5 418.7h0M1061.8 418.5h0M1061.1 418.7h0M1240.9 418.7h0M1244.6 418.9h0M1248.1 418.7h0M1250.2 418.8h0M1251.3 418.8h0M928.0 419.9h0M1053.3 419.6h0M1247.0 419.3h0M1258.7 419.4h0M884.6 420.8h0M897.6 420.5h0M927.5 420.8h0M930.0 420.5h0M941.3 420.1h0M951.5 420.5h0M952.3 420.3h0M1053.6 420.4h0M1060.4 420.5h0M1061.9 420.4h0M1062.0 420.0h0M1242.0 420.9h0M1246.5 420.7h0M1248.7 420.5h0M1251.3 420.8h0M1255.9 420.4h0M1256.3 420.3h0M888.4 421.1h0M925.3 421.5h0M933.9 421.4h0M934.7 422.0h0M939.8 421.7h0M1062.1 421.7h0M1244.0 421.0h0M1257.9 421.6h0M1261.7 421.5h0M921.4 422.6h0M923.0 422.6h0M927.4 422.8h0M937.9 422.6h0M950.9 423.0h0M1051.8 422.2h0M1052.1 422.2h0M1053.4 422.4h0M1060.4 422.9h0M1060.1 422.3h0M1240.1 422.7h0M1257.7 422.2h0M1268.9 422.8h0M916.6 423.2h0M917.2 424.0h0M1053.5 423.2h0M1053.8 423.6h0M1240.3 423.7h0M1250.0 423.7h0M916.8 424.9h0M917.1 424.6h0M936.8 424.9h0M947.2 424.7h0M1053.9 424.8h0M1060.2 424.6h0M1061.0 424.8h0M1061.4 424.1h0M1062.3 424.5h0M1063.2 424.7h0M1243.6 424.2h0M1252.3 424.4h0M1259.5 424.4h0M1259.5 424.1h0M908.0 425.8h0M914.7 425.3h0M936.1 425.5h0M1050.7 425.7h0M1060.1 425.2h0M1061.3 425.3h0M1063.1 425.6h0M1253.8 425.7h0M1257.4 425.1h0M869.3 426.4h0M904.1 426.7h0M906.7 426.0h0M933.0 426.4h0M946.5 426.7h0M947.8 426.7h0M947.5 426.1h0M948.3 426.4h0M950.5 426.1h0M1053.9 426.1h0M1060.1 426.9h0M1062.0 426.5h0M1240.7 426.4h0M1248.9 426.5h0M1256.7 426.9h0M1263.7 426.2h0M885.1 427.8h0M915.7 427.7h0M921.5 427.8h0M925.9 427.2h0M925.6 427.8h0M947.2 427.8h0M1053.4 427.4h0M1060.4 427.6h0M1247.5 427.3h0M876.9 428.5h0M916.1 428.4h0M934.9 428.9h0M938.6 428.5h0M943.3 428.8h0M945.9 428.2h0M1050.9 428.6h0M1053.5 428.1h0M1241.7 428.5h0M858.0 429.4h0M882.4 429.1h0M894.5 429.4h0M909.6 429.3h0M914.8 429.9h0M932.0 429.0h0M933.5 429.0h0M941.7 429.8h0M1051.2 429.5h0M1053.2 429.8h0M1053.0 429.3h0M1242.4 429.7h0M1242.0 429.1h0M1260.9 429.8h0M898.1 430.6h0M910.2 430.5h0M914.1 430.4h0M919.9 430.0h0M920.9 430.4h0M928.0 430.4h0M928.0 430.9h0M940.9 430.7h0M943.8 430.2h0M1053.6 430.1h0M1053.3 430.2h0M1249.2 430.5h0M1264.8 430.3h0M942.5 431.3h0M945.6 431.9h0M1063.6 431.2h0M1253.0 431.9h0M1261.2 431.4h0M908.8 432.7h0M914.7 432.5h0M920.0 432.1h0M922.2 432.2h0M928.9 432.7h0M929.1 432.6h0M933.5 432.1h0M936.1 432.2h0M941.0 432.6h0M948.1 432.4h0M1052.7 432.8h0M1053.3 432.8h0M1062.9 432.6h0M1062.4 432.2h0M1247.0 432.8h0M918.4 433.3h0M920.0 433.6h0M932.4 434.0h0M945.1 433.0h0M947.8 433.7h0M1051.9 433.6h0M1051.3 433.7h0M1052.7 433.9h0M931.4 434.6h0M943.4 434.9h0M1060.4 434.4h0M1060.7 434.1h0M1061.8 434.9h0M1241.7 434.5h0M1256.8 434.3h0M853.5 435.7h0M913.2 435.8h0M920.7 435.4h0M925.7 435.3h0M929.6 435.7h0M945.5 435.5h0M945.3 435.8h0M946.0 435.2h0M1050.9 435.9h0M1051.1 435.2h0M1242.7 435.4h0M1244.9 435.3h0M1246.5 435.5h0M1270.2 435.7h0M902.4 436.8h0M920.5 436.6h0M931.7 436.9h0M933.6 436.2h0M942.7 436.0h0M1052.1 436.1h0M1061.5 436.3h0M1062.2 436.5h0M1246.6 436.7h0M1253.6 436.7h0M1261.4 436.6h0M905.3 437.6h0M932.1 437.0h0M933.2 437.4h0M933.1 437.1h0M936.8 437.3h0M937.4 437.7h0M939.1 437.1h0M945.7 437.4h0M1050.6 437.9h0M1053.6 437.4h0M1062.0 437.1h0M1061.4 438.0h0M1061.8 437.0h0M1061.2 437.9h0M1258.7 437.2h0M897.7 438.7h0M922.8 438.8h0M932.8 438.2h0M932.9 438.6h0M935.5 438.5h0M938.0 438.6h0M940.7 438.7h0M1053.0 438.6h0M1060.3 438.2h0M1242.6 438.1h0M1248.4 438.9h0M1254.1 438.7h0M1261.9 438.5h0M884.2 439.7h0M912.6 439.1h0M929.8 439.7h0M936.5 439.5h0M1050.9 439.3h0M1050.7 439.6h0M1053.5 439.2h0M1053.5 440.0h0M1245.3 439.1h0M1257.2 439.2h0M1264.5 439.5h0M855.3 440.1h0M891.6 440.6h0M923.7 440.3h0M924.4 440.1h0M1052.3 440.4h0M1060.7 440.7h0M1060.4 440.5h0M1061.7 440.4h0M1063.0 440.4h0M872.6 441.0h0M912.8 441.6h0M915.8 442.0h0M925.6 441.6h0M937.9 441.7h0M1050.8 441.4h0M1053.7 441.9h0M1063.8 442.0h0M1063.9 441.6h0M1240.1 441.7h0M1240.5 441.3h0M906.5 442.9h0M908.3 442.9h0M914.3 443.0h0M1052.6 442.5h0M1054.0 443.0h0M1060.3 442.9h0M1061.2 442.5h0M1246.4 442.6h0M1262.1 442.5h0M878.3 443.0h0M917.6 443.6h0M923.0 443.1h0M928.2 443.4h0M1051.3 443.7h0M1052.1 443.4h0M1060.1 443.8h0M1061.3 443.7h0M1063.3 443.0h0M1063.6 443.7h0M1258.1 443.6h0M908.9 444.2h0M927.9 444.0h0M928.0 444.9h0M938.2 444.1h0M941.1 444.1h0M942.5 444.7h0M1063.1 444.4h0M1246.0 444.2h0M1255.9 444.2h0M1260.6 444.2h0M1261.2 444.7h0M1261.2 444.8h0M922.2 445.2h0M924.2 445.7h0M930.8 445.1h0M938.6 445.6h0M1051.5 445.8h0M1052.8 445.5h0M1053.7 445.5h0M1060.8 445.3h0M1060.9 445.2h0M1240.5 445.7h0M1246.1 445.7h0M1246.2 445.4h0M1270.7 445.8h0M880.8 446.9h0M906.8 446.5h0M912.0 446.8h0M912.7 446.7h0M928.8 446.4h0M932.0 446.9h0M936.1 446.1h0M939.7 446.6h0M940.5 446.5h0M942.7 446.8h0M1052.7 446.3h0M1061.5 446.6h0M1245.2 446.8h0M1255.3 446.3h0M1257.7 446.6h0M873.3 447.0h0M916.2 447.6h0M930.3 447.4h0M933.9 447.4h0M937.8 447.1h0M1050.2 447.8h0M1062.0 447.8h0M1242.2 447.9h0M1256.2 447.3h0M1260.9 447.9h0M854.4 448.6h0M870.2 448.7h0M921.8 448.3h0M928.6 448.4h0M1251.4 448.6h0M1265.5 448.4h0M1273.5 448.7h0M930.4 449.2h0M941.0 449.8h0M1054.1 449.7h0M1242.2 449.3h0M1257.3 449.3h0M1259.7 449.7h0M897.9 450.6h0M911.8 450.6h0M924.5 450.9h0M1051.0 450.5h0M1060.2 450.3h0M1061.4 450.4h0M1242.6 450.6h0M1245.5 450.6h0M1248.4 450.6h0M1256.9 450.9h0M1261.1 450.0h0M1262.9 450.3h0M892.5 451.6h0M898.0 451.4h0M911.6 451.6h0M913.5 451.2h0M916.3 451.1h0M1052.6 451.6h0M1054.2 451.6h0M1060.4 451.7h0M1061.5 451.9h0M1062.7 451.4h0M1240.5 451.9h0M1243.1 451.1h0M1244.3 451.4h0M1246.1 451.9h0M1248.8 451.2h0M1251.8 451.8h0M1259.5 451.9h0M1263.9 451.6h0M871.1 452.5h0M905.4 452.7h0M921.9 452.3h0M928.6 452.1h0M937.0 452.4h0M939.4 452.5h0M1051.3 452.1h0M1052.7 452.8h0M1052.5 452.7h0M1054.1 452.4h0M1054.1 452.3h0M1061.0 452.8h0M1246.4 452.2h0M1250.5 452.9h0M1255.6 452.1h0M1258.3 452.5h0M1269.3 452.4h0M897.8 453.2h0M908.9 453.7h0M909.6 453.8h0M916.1 453.9h0M917.1 453.0h0M1060.1 453.2h0M1061.8 453.6h0M1063.7 453.1h0M1258.4 453.7h0M850.0 455.0h0M910.0 454.4h0M930.3 454.3h0M938.6 454.4h0M942.9 454.8h0M942.3 454.4h0M1054.9 454.3h0M1241.9 454.4h0M1245.2 454.8h0M1246.6 454.3h0M1249.6 454.2h0M1258.4 454.7h0M1259.1 454.7h0M900.3 455.6h0M915.5 455.6h0M916.1 455.5h0M916.1 455.4h0M935.3 455.3h0M1061.3 455.7h0M1241.2 455.2h0M871.5 456.5h0M882.2 456.1h0M906.7 456.8h0M915.1 456.5h0M926.4 456.0h0M927.9 456.4h0M939.4 456.9h0M1052.5 456.3h0M1054.0 456.5h0M1054.7 457.0h0M1054.7 457.0h0M1061.9 456.1h0M1239.9 456.9h0M1241.0 456.4h0M1244.3 456.9h0M1244.5 456.8h0M1247.6 456.9h0M1252.7 456.9h0M1263.9 456.1h0M1271.8 456.5h0M899.8 457.3h0M920.3 457.6h0M1053.6 457.1h0M1053.5 457.1h0M1054.4 457.2h0M1054.6 457.2h0M1054.5 457.8h0M1060.8 457.6h0M1268.2 458.0h0M908.8 458.6h0M919.1 458.6h0M930.5 458.1h0M931.8 458.9h0M941.5 458.2h0M1053.9 458.3h0M1054.2 458.8h0M1054.4 458.6h0M1240.6 458.1h0M1254.1 458.5h0M886.9 459.3h0M890.0 459.7h0M898.6 459.7h0M913.2 459.7h0M918.8 459.5h0M928.5 459.3h0M931.5 459.2h0M938.3 459.2h0M1054.9 459.9h0M1246.4 459.7h0M897.7 460.9h0M927.6 460.8h0M933.8 460.3h0M1051.0 460.5h0M1063.6 460.4h0M1237.5 460.6h0M933.7 461.4h0M938.1 462.0h0M942.7 461.9h0M1055.0 462.0h0M1060.6 461.8h0M1250.6 461.0h0M1257.9 461.5h0M871.8 462.8h0M871.2 462.1h0M926.0 462.1h0M1053.9 462.1h0M1060.6 462.9h0M1061.6 462.0h0M1273.4 462.7h0M908.0 463.8h0M914.1 463.4h0M919.8 463.7h0M1053.9 463.3h0M1060.2 463.8h0M1060.1 463.3h0M1231.8 463.3h0M1239.4 463.6h0M1243.3 463.8h0M1245.6 463.4h0M1263.5 463.8h0M880.7 464.1h0M881.2 465.0h0M906.8 464.6h0M908.8 464.5h0M929.3 464.9h0M937.0 464.3h0M937.3 464.0h0M938.3 464.9h0M1052.0 464.3h0M1054.0 464.0h0M1229.7 464.7h0M1243.9 464.0h0M864.7 465.5h0M872.9 465.3h0M915.2 465.0h0M918.9 465.5h0M919.0 465.5h0M931.7 465.7h0M938.8 465.6h0M941.9 465.2h0M942.1 465.0h0M1061.8 465.5h0M1260.7 465.2h0M1262.4 465.5h0M1266.3 465.1h0M896.8 466.1h0M907.7 466.8h0M915.0 466.6h0M920.5 466.2h0M926.8 466.1h0M927.2 466.4h0M932.2 466.1h0M934.5 467.0h0M935.2 466.2h0M1054.4 466.5h0M1054.3 466.7h0M1059.2 466.8h0M1060.3 466.1h0M1061.3 466.5h0M1228.7 466.9h0M1231.5 467.0h0M920.3 467.1h0M921.4 467.2h0M931.1 467.3h0M1053.2 467.1h0M1053.4 467.6h0M1053.8 467.7h0M1054.0 467.7h0M1054.2 467.7h0M1054.5 467.7h0M1059.7 467.8h0M1225.6 468.0h0M1257.1 467.9h0M875.3 468.9h0M921.9 468.9h0M924.3 468.1h0M928.1 468.7h0M931.5 468.7h0M935.6 468.4h0M1240.0 468.8h0M873.2 469.4h0M912.6 469.5h0M931.8 469.7h0M935.8 469.8h0M941.8 469.5h0M1052.3 469.8h0M1053.1 469.3h0M1060.0 469.9h0M1230.2 469.9h0M912.7 470.1h0M913.7 470.1h0M925.6 470.6h0M940.0 470.8h0M939.2 470.9h0M1053.6 470.6h0M1222.6 470.3h0M1222.1 471.0h0M1245.7 470.1h0M1246.2 470.6h0M1249.7 470.6h0M1254.0 470.5h0M896.6 471.8h0M909.3 471.4h0M919.6 471.4h0M922.6 471.5h0M930.1 471.3h0M930.9 471.3h0M932.0 471.6h0M933.3 471.5h0M934.8 471.9h0M940.4 471.2h0M1051.3 471.6h0M1059.7 471.1h0M1060.0 471.9h0M1235.7 471.9h0M1256.1 471.9h0M910.9 472.0h0M921.5 472.1h0M1053.3 472.2h0M1059.3 472.5h0M1225.1 472.9h0M1239.1 472.2h0M1253.8 472.4h0M902.1 473.7h0M903.7 473.7h0M932.5 473.5h0M938.1 473.6h0M1060.6 473.9h0M1060.6 473.4h0M1222.1 473.1h0M1225.5 473.7h0M1225.5 474.0h0M1225.9 473.8h0M1227.1 473.3h0M1228.6 473.5h0M1238.7 473.3h0M1242.3 473.2h0M1253.7 473.8h0M915.2 474.8h0M922.6 474.2h0M927.5 474.7h0M932.8 474.1h0M934.1 474.4h0M1053.7 474.0h0M1061.0 474.6h0M1218.6 474.2h0M1233.1 474.9h0M1270.9 474.5h0M887.7 475.2h0M901.7 475.6h0M904.3 475.5h0M924.8 475.1h0M942.4 475.2h0M1051.2 475.0h0M1054.6 475.6h0M1059.4 475.6h0M1059.9 475.2h0M1062.2 475.8h0M1220.9 475.8h0M1231.9 475.7h0M1244.2 475.8h0M1256.3 475.4h0M848.5 476.9h0M906.5 476.4h0M924.2 476.5h0M1054.3 476.8h0M1054.6 476.2h0M1059.4 476.8h0M1059.9 476.2h0M1063.0 476.6h0M1216.9 476.0h0M1219.9 476.7h0M1225.6 476.0h0M1226.2 476.9h0M857.8 477.1h0M933.1 477.6h0M934.3 477.4h0M936.2 477.2h0M1053.1 477.9h0M1053.2 477.1h0M1060.5 477.7h0M1060.8 477.7h0M1218.3 477.9h0M1233.7 477.5h0M901.9 478.8h0M917.5 478.7h0M931.9 478.3h0M937.8 479.0h0M939.8 478.3h0M1060.5 478.1h0M1060.6 479.0h0M1060.3 478.4h0M1232.3 478.8h0M1235.6 478.7h0M863.0 479.8h0M903.4 479.2h0M908.0 479.8h0M910.1 479.1h0M910.0 479.2h0M924.6 479.1h0M1053.6 479.9h0M1053.1 479.2h0M1060.6 479.6h0M1217.3 479.5h0M1230.8 479.7h0M1234.7 479.8h0M1246.1 479.9h0M898.7 480.9h0M926.5 480.2h0M1059.3 480.8h0M1061.3 480.4h0M1271.7 480.8h0M895.6 481.9h0M904.9 481.8h0M905.3 481.3h0M906.7 481.1h0M939.4 481.6h0M940.9 481.3h0M1055.0 481.5h0M1060.0 481.5h0M1060.1 481.5h0M1210.7 481.6h0M1210.1 481.7h0M1215.1 481.4h0M1223.4 481.3h0M1240.5 481.7h0M1244.1 481.4h0M860.6 482.7h0M877.7 482.2h0M904.6 482.8h0M906.1 482.4h0M907.5 482.3h0M912.1 482.3h0M918.3 482.3h0M922.2 482.8h0M938.8 482.5h0M1053.4 482.3h0M1053.8 482.2h0M1053.6 482.0h0M1060.2 482.8h0M1216.9 482.9h0M1222.6 482.3h0M1224.7 482.3h0M1240.2 482.1h0M1245.5 482.4h0M862.3 483.3h0M899.4 483.7h0M916.8 483.4h0M921.3 483.9h0M925.5 483.7h0M936.5 483.6h0M936.7 483.4h0M941.7 483.9h0M1054.8 483.9h0M1207.2 483.6h0M1216.4 483.4h0M1223.0 483.7h0M1234.1 483.4h0M1236.2 483.7h0M877.6 484.5h0M930.8 484.1h0M936.5 484.5h0M939.5 484.0h0M941.9 484.8h0M942.8 484.3h0M1053.1 485.0h0M1053.7 484.5h0M1053.5 484.9h0M1054.7 484.6h0M1059.5 484.9h0M1060.9 484.8h0M1216.2 484.6h0M1244.3 484.8h0M1262.8 484.2h0M913.0 485.7h0M916.3 485.5h0M922.3 485.5h0M922.5 485.3h0M934.9 485.7h0M938.8 485.3h0M939.0 485.9h0M940.6 485.1h0M942.4 485.1h0M1051.9 485.8h0M1053.4 485.2h0M1054.4 485.4h0M1054.8 485.6h0M1059.5 485.3h0M1206.8 485.9h0M1208.0 485.4h0M1210.7 485.5h0M1211.1 485.2h0M1233.0 485.4h0M1234.3 485.0h0M1255.0 485.4h0M903.7 486.7h0M915.0 486.0h0M919.5 486.2h0M937.0 487.0h0M942.5 486.3h0M1053.7 486.3h0M1060.1 486.7h0M1214.9 486.1h0M1223.8 486.9h0M1224.8 486.4h0M1231.1 486.6h0M1232.2 486.6h0M1244.4 486.8h0M926.9 487.6h0M928.5 487.8h0M935.2 487.8h0M941.8 488.0h0M1052.2 487.5h0M1053.5 487.7h0M1203.0 487.0h0M1204.3 487.9h0M1206.7 487.4h0M1212.7 487.9h0M1218.4 487.0h0M1227.0 487.4h0M1228.9 487.2h0M1236.0 487.7h0M868.2 488.4h0M887.6 488.5h0M901.7 488.2h0M912.3 488.9h0M923.0 488.9h0M923.4 488.6h0M923.6 488.4h0M924.9 488.4h0M932.1 488.0h0M939.7 488.6h0M942.5 488.5h0M1209.9 488.3h0M1210.1 488.5h0M1233.4 488.1h0M856.2 489.7h0M920.7 489.7h0M926.7 489.7h0M931.2 489.1h0M937.3 489.5h0M1053.3 489.8h0M1059.3 489.6h0M1201.3 489.4h0M1220.2 489.7h0M928.2 490.4h0M1060.1 490.7h0M1201.5 490.5h0M1201.1 490.1h0M1202.6 490.6h0M1210.9 490.9h0M1212.7 490.3h0M1213.8 490.1h0M1222.9 490.6h0M1231.2 490.7h0M1241.5 490.3h0M1245.1 490.6h0M1250.1 490.2h0M868.3 491.7h0M915.5 491.2h0M918.2 491.4h0M935.5 491.5h0M1053.3 491.9h0M1055.3 491.6h0M1059.3 491.5h0M1199.3 491.9h0M1201.5 491.1h0M1202.3 491.9h0M1234.7 491.5h0M1253.3 491.1h0M849.4 492.2h0M915.2 492.0h0M1055.8 493.0h0M1059.7 492.4h0M1060.2 492.0h0M1199.3 492.5h0M1215.6 492.6h0M1216.8 492.2h0M905.2 493.6h0M913.1 493.6h0M926.3 493.4h0M937.2 493.7h0M1053.6 493.3h0M1055.2 493.7h0M1059.4 493.9h0M1061.4 493.0h0M1197.0 493.5h0M1203.7 493.1h0M1205.1 493.8h0M1216.3 493.4h0M1227.7 493.6h0M1230.6 493.3h0M1248.9 493.6h0M880.5 494.8h0M1059.3 494.9h0M1207.2 494.4h0M1208.4 494.9h0M1250.7 494.5h0M1198.8 495.2h0M1213.0 495.2h0M875.0 496.2h0M920.0 496.1h0M933.7 496.4h0M1052.9 496.3h0M1053.3 496.6h0M1054.1 496.6h0M1055.8 496.4h0M1059.5 497.0h0M1060.5 496.1h0M1201.5 496.6h0M1201.6 496.9h0M1218.5 496.7h0M1240.1 496.5h0M900.9 497.1h0M910.4 497.5h0M914.1 497.8h0M915.0 497.2h0M919.1 497.5h0M933.8 497.2h0M938.9 497.3h0M1053.4 497.1h0M1055.3 497.1h0M1200.1 497.2h0M1205.4 497.6h0M1206.3 497.4h0M1218.0 497.8h0M1243.8 497.4h0M1266.0 497.3h0M876.5 498.9h0M880.8 498.6h0M892.4 498.1h0M908.9 498.5h0M922.5 498.2h0M931.8 498.2h0M932.2 498.2h0M940.2 498.4h0M1052.1 498.1h0M1054.7 498.2h0M1054.5 498.6h0M1055.6 498.0h0M1214.7 498.9h0M1216.7 498.4h0M927.6 499.3h0M940.3 499.3h0M940.3 499.5h0M1054.3 499.8h0M1055.6 499.3h0M1061.1 499.9h0M1062.0 499.7h0M1196.6 499.8h0M1204.8 499.0h0M1211.9 500.0h0M1229.1 499.1h0M1232.0 499.6h0M905.8 500.2h0M909.5 500.1h0M924.0 500.4h0M928.8 501.0h0M1053.0 500.7h0M1054.9 500.3h0M1059.5 501.0h0M1060.9 500.5h0M1187.1 500.6h0M1187.8 500.2h0M1189.2 500.6h0M1198.7 500.7h0M1206.8 500.2h0M1229.2 500.0h0M931.9 501.4h0M937.4 501.7h0M938.3 501.2h0M940.8 501.0h0M1054.2 501.8h0M1187.2 501.7h0M1190.2 501.4h0M1204.9 501.1h0M1205.2 501.0h0M1217.2 502.0h0M1221.0 501.8h0M936.8 502.0h0M940.8 502.9h0M1052.3 502.6h0M1191.6 502.4h0M920.6 503.0h0M930.0 503.5h0M931.8 503.3h0M932.4 503.0h0M941.0 503.2h0M941.5 503.5h0M1054.7 503.7h0M1054.2 503.4h0M1058.1 503.4h0M1058.1 503.3h0M1060.2 503.8h0M1062.7 503.9h0M1190.5 503.3h0M1196.0 503.3h0M1209.2 503.9h0M911.3 504.1h0M929.6 504.7h0M935.3 504.6h0M1055.4 504.5h0M1058.4 504.5h0M1058.2 504.8h0M1190.8 504.5h0M1190.7 505.0h0M1194.1 504.4h0M1200.4 504.9h0M1201.8 504.7h0M1233.4 505.0h0M1055.0 505.5h0M1186.1 505.4h0M1187.2 505.4h0M1194.2 505.5h0M1200.0 505.7h0M923.3 506.2h0M927.6 506.4h0M936.5 506.9h0M942.6 506.8h0M1053.8 506.1h0M1053.4 506.3h0M1054.7 506.1h0M1054.6 506.8h0M1059.5 506.4h0M1059.5 507.0h0M1061.3 506.2h0M1182.7 507.0h0M1185.9 506.1h0M1187.1 506.9h0M1194.9 506.7h0M1210.4 506.8h0M1211.7 506.2h0M910.4 507.7h0M921.0 507.3h0M1053.3 507.7h0M1056.0 507.2h0M1059.7 507.4h0M1181.8 507.5h0M1183.4 507.3h0M1186.7 507.6h0M1186.4 507.2h0M1186.6 507.9h0M1236.7 507.6h0M908.5 508.7h0M927.3 508.9h0M933.2 508.9h0M937.8 508.3h0M1181.3 508.6h0M1184.1 508.2h0M1223.8 508.3h0M890.3 509.2h0M910.0 509.8h0M942.6 509.5h0M1059.7 509.9h0M1179.1 509.9h0M1184.5 509.7h0M1187.4 509.2h0M1231.0 509.3h0M1233.2 509.0h0M900.5 510.0h0M902.3 510.0h0M915.2 510.5h0M933.3 510.5h0M935.7 510.4h0M938.6 510.7h0M940.2 510.9h0M1054.7 510.5h0M1054.7 510.2h0M1060.8 510.2h0M1186.7 510.6h0M912.9 511.7h0M916.0 511.6h0M916.1 511.1h0M920.5 511.2h0M930.2 511.7h0M933.0 511.6h0M935.0 511.2h0M937.8 511.6h0M941.6 511.1h0M1054.3 511.9h0M1176.2 511.0h0M1187.4 511.3h0M1208.8 511.2h0M1219.6 512.0h0M1222.0 511.4h0M910.2 512.8h0M922.2 512.9h0M1058.1 512.3h0M1177.5 512.9h0M1179.0 512.4h0M1179.4 512.9h0M1188.4 512.2h0M1210.7 512.9h0M874.5 513.8h0M912.8 513.4h0M921.0 513.5h0M933.5 514.0h0M934.4 513.9h0M942.8 513.3h0M1055.4 513.5h0M1055.6 513.7h0M1058.3 514.0h0M1059.7 513.6h0M1210.1 513.8h0M1221.4 513.8h0M877.4 514.9h0M905.2 514.7h0M938.6 514.6h0M1053.6 514.0h0M1054.1 514.7h0M1055.2 515.0h0M1058.8 514.8h0M1058.2 514.2h0M1061.4 514.8h0M1181.8 514.5h0M1182.4 515.0h0M1190.4 514.5h0M1194.8 514.7h0M1211.0 514.4h0M871.8 515.1h0M903.2 515.6h0M925.5 515.1h0M925.3 515.5h0M940.3 515.3h0M941.7 515.1h0M1055.0 515.4h0M1055.6 515.5h0M1181.0 515.5h0M1189.6 515.3h0M1197.5 515.7h0M934.3 516.5h0M1055.5 516.6h0M1058.1 516.7h0M1061.8 516.2h0M1183.4 516.6h0M1188.6 516.3h0M1202.6 516.5h0M1218.7 516.7h0M1219.1 516.9h0M918.8 517.6h0M922.2 517.1h0M923.2 517.4h0M935.3 517.5h0M940.4 517.9h0M942.3 517.8h0M1052.1 518.0h0M1053.1 517.0h0M1054.9 517.4h0M1058.2 517.4h0M1061.6 517.7h0M1184.2 517.3h0M1187.4 517.8h0M1189.0 517.1h0M1200.0 517.6h0M1215.0 517.7h0M1227.8 517.5h0M898.6 518.1h0M903.1 518.9h0M912.8 518.4h0M924.4 518.3h0M925.8 518.5h0M927.6 518.2h0M930.7 518.7h0M931.8 518.7h0M1059.1 518.4h0M1059.2 518.4h0M1172.0 518.8h0M1175.5 518.4h0M1180.9 518.3h0M1185.9 518.6h0M1193.2 518.0h0M928.7 519.6h0M936.0 519.3h0M935.8 519.0h0M1059.7 519.9h0M1175.8 519.3h0M1176.6 519.5h0M1185.3 519.4h0M1186.0 519.0h0M1203.7 520.0h0M1211.9 519.9h0M928.8 520.2h0M941.3 520.6h0M1059.6 520.8h0M1059.1 520.1h0M1061.9 520.2h0M1166.3 520.9h0M1171.9 520.1h0M1189.6 521.0h0M1205.7 520.6h0M925.6 521.6h0M927.6 521.6h0M938.7 521.3h0M942.2 522.0h0M1061.0 521.8h0M1168.9 521.6h0M1199.7 521.1h0M917.3 522.2h0M923.9 522.5h0M929.0 522.4h0M931.5 522.8h0M933.2 522.7h0M1055.0 522.7h0M1058.2 522.3h0M1059.4 522.2h0M1163.1 522.8h0M1171.1 522.4h0M1197.2 522.9h0M896.4 523.2h0M918.2 523.6h0M925.3 523.6h0M931.8 523.0h0M1058.7 523.1h0M1061.2 523.3h0M1170.1 523.3h0M1172.1 524.0h0M1180.4 523.3h0M1180.5 523.6h0M920.3 524.0h0M921.4 524.8h0M926.0 524.6h0M940.2 524.9h0M1054.6 524.0h0M1055.4 524.3h0M1055.2 524.5h0M1061.3 524.0h0M1165.6 524.1h0M1165.4 524.2h0M938.3 525.8h0M1054.2 525.4h0M1058.2 525.6h0M1059.1 525.4h0M1175.8 525.7h0M923.1 526.5h0M943.9 526.6h0M1054.2 526.4h0M1056.3 526.4h0M1059.9 526.2h0M1059.9 526.7h0M1164.4 526.1h0M1170.8 526.3h0M928.3 527.9h0M1055.4 527.8h0M1058.1 527.6h0M1060.0 527.8h0M1056.9 528.0h0M1059.9 528.4h0M1174.0 529.0h0M932.5 529.4h0M934.4 529.4h0M936.2 529.2h0M950.1 529.1h0M954.6 529.7h0M1149.8 529.4h0M1160.0 529.0h0M934.2 530.8h0M946.4 531.0h0M951.7 531.0h0M1055.2 530.7h0M1056.6 530.7h0M1059.8 530.5h0M1061.4 530.2h0M1146.6 530.4h0M1147.5 530.6h0M1148.5 530.1h0M1150.9 530.2h0M1153.7 530.3h0M1153.3 530.9h0M1155.5 530.1h0M943.9 531.0h0M1055.5 531.6h0M1056.8 531.2h0M1056.9 531.8h0M1058.2 531.7h0M1142.6 531.4h0M1150.6 531.7h0M1153.0 531.8h0M936.2 532.4h0M944.9 532.6h0M945.5 532.3h0M952.2 533.0h0M961.4 532.8h0M1056.2 532.5h0M1143.0 532.3h0M1146.7 532.4h0M1151.0 532.6h0M1152.6 532.1h0M953.8 533.4h0M960.0 533.6h0M973.8 533.5h0M974.1 533.7h0M975.6 533.8h0M1056.1 533.9h0M1058.7 533.9h0M1058.1 533.5h0M1058.5 533.4h0M1060.1 534.0h0M1061.3 533.9h0M1127.6 533.6h0M1144.5 533.6h0M1146.0 533.9h0M1146.0 533.2h0M954.9 534.2h0M961.5 534.0h0M968.3 534.2h0M972.9 534.0h0M1054.6 534.4h0M1055.6 534.8h0M1056.5 534.3h0M1061.3 534.3h0M1129.3 534.1h0M1130.5 534.8h0M1135.4 534.2h0M965.4 535.1h0M969.1 535.7h0M971.8 535.4h0M976.6 536.0h0M980.7 535.0h0M981.2 535.4h0M1127.3 535.2h0M1131.0 535.2h0M968.9 536.3h0M975.4 536.7h0M979.0 536.3h0M982.0 537.0h0M983.6 536.0h0M991.0 536.8h0M1061.5 537.0h0M1117.8 536.3h0M1123.9 536.5h0M1131.5 536.8h0M974.3 537.7h0M977.7 537.8h0M987.1 537.2h0M988.2 537.9h0M1055.7 537.4h0M1056.3 537.6h0M1058.3 538.0h0M1059.8 537.7h0M1117.8 537.4h0M1118.3 537.4h0M978.8 538.7h0M982.0 538.2h0M982.8 538.5h0M990.5 538.0h0M993.6 538.5h0M997.1 538.5h0M1001.5 539.0h0M1054.0 538.6h0M1055.5 538.3h0M1056.9 538.2h0M1056.4 538.8h0M1058.4 538.8h0M1108.9 538.0h0M1110.4 538.5h0M1111.0 538.8h0M1115.1 538.7h0M1116.4 538.8h0M1117.4 538.8h0M1119.6 538.8h0M1003.8 539.5h0M1058.1 539.7h0M1059.4 539.1h0M1101.0 539.3h0M1102.0 539.4h0M1103.9 539.0h0M1111.6 539.1h0M1112.8 539.3h0M1112.4 539.6h0M1116.7 539.3h0M1116.3 540.0h0M1116.3 539.8h0M1119.9 539.8h0M1120.6 539.3h0M1126.1 539.1h0M993.4 540.9h0M1002.0 540.6h0M1012.2 540.5h0M1055.2 540.8h0M1056.9 540.8h0M1058.3 540.9h0M1059.1 540.8h0M1059.0 540.6h0M1061.0 540.0h0M1104.0 540.6h0M1113.5 540.3h0M1009.5 542.0h0M1014.3 541.1h0M1055.8 541.1h0M1055.6 541.7h0M1058.7 541.3h0M1061.0 541.4h0M1099.5 541.1h0M1104.6 541.5h0M1106.6 541.2h0M1107.1 541.7h0M1113.4 541.6h0M1010.9 542.1h0M1096.6 542.9h0M993.5 543.6h0M1001.2 543.8h0M1004.2 543.4h0M1012.1 543.5h0M1018.8 543.9h0M1023.9 543.9h0M1056.5 543.3h0M1057.6 543.5h0M1058.3 543.8h0M1082.0 543.2h0M1086.0 543.5h0M1001.2 544.2h0M1012.1 544.5h0M1019.0 544.1h0M1055.6 544.6h0M1057.4 544.2h0M1004.1 545.4h0M1012.7 545.3h0M1016.6 546.0h0M1037.0 545.5h0M1058.6 545.9h0M1076.5 545.3h0M1086.7 545.6h0M1091.1 545.0h0M1098.9 545.3h0M1109.7 545.2h0M1023.2 546.6h0M1030.3 546.9h0M1032.3 546.8h0M1042.8 546.9h0M1076.9 546.4h0M1092.5 546.9h0M1033.9 547.8h0M1035.1 547.5h0M1036.1 547.8h0M1039.8 547.4h0M1046.7 547.6h0M1084.8 547.4h0M1031.6 548.8h0M1033.2 548.9h0M1041.0 548.1h0M1044.7 548.4h0M1063.9 548.9h0M1039.3 549.7h0M1068.2 549.5h0M1043.8 550.5h0M1046.9 550.3h0M1066.1 551.0h0M1070.0 550.4h0M1076.7 550.7h0M1058.2 551.7h0M1075.5 551.1h0M1057.5 552.5h0M1049.3 553.4h0M1058.3 554.8h0M1239.9 523.0h0M1274.9 518.4h0M892.8 532.3h0M1095.5 125.7h0M1028.6 134.5h0M1073.6 134.3h0M1114.4 134.5h0M1066.1 147.1h0M1075.5 149.2h0M1062.2 152.5h0M1026.7 151.3h0M1115.6 148.3h0M1126.3 154.1h0M1143.4 149.7h0M1143.8 156.0h0M1089.2 158.3h0M1071.5 164.4h0M1097.9 166.0h0M972.3 167.2h0"/></g>
<rect x="278.80" y="97.00" width="5.60" height="478.30" fill="#000"/>
<rect x="268.50" y="551.45" width="10.50" height="3.90" fill="#000"/>
<rect x="268.50" y="442.80" width="10.50" height="3.90" fill="#000"/>
<rect x="268.50" y="334.15" width="10.50" height="3.90" fill="#000"/>
<rect x="268.50" y="225.50" width="10.50" height="3.90" fill="#000"/>
<rect x="268.50" y="116.85" width="10.50" height="3.90" fill="#000"/>
<text transform="translate(238.79,130.10) scale(1.0265,1)" font-size="33.20" fill="#1a1a1a" stroke="#1a1a1a" stroke-width="0.60" stroke-linejoin="round">4</text>
<text transform="translate(238.89,238.75) scale(1.0724,1)" font-size="33.20" fill="#1a1a1a" stroke="#1a1a1a" stroke-width="0.60" stroke-linejoin="round">3</text>
<text transform="translate(238.73,347.40) scale(1.0697,1)" font-size="33.20" fill="#1a1a1a" stroke="#1a1a1a" stroke-width="0.60" stroke-linejoin="round">2</text>
<text transform="translate(243.02,456.05) scale(0.6410,1)" font-size="33.20" fill="#1a1a1a" stroke="#1a1a1a" stroke-width="0.60" stroke-linejoin="round">1</text>
<text transform="translate(237.74,564.70) scale(1.1677,1)" font-size="33.20" fill="#1a1a1a" stroke="#1a1a1a" stroke-width="0.60" stroke-linejoin="round">0</text>
<rect x="310.70" y="596.80" width="480.90" height="5.60" fill="#000"/>
<rect x="350.05" y="602.00" width="3.90" height="11.20" fill="#000"/>
<rect x="449.30" y="602.00" width="3.90" height="11.20" fill="#000"/>
<rect x="548.55" y="602.00" width="3.90" height="11.20" fill="#000"/>
<rect x="647.80" y="602.00" width="3.90" height="11.20" fill="#000"/>
<rect x="747.05" y="602.00" width="3.90" height="11.20" fill="#000"/>
<rect x="817.30" y="596.80" width="480.60" height="5.60" fill="#000"/>
<rect x="856.75" y="602.00" width="3.90" height="11.20" fill="#000"/>
<rect x="956.00" y="602.00" width="3.90" height="11.20" fill="#000"/>
<rect x="1055.25" y="602.00" width="3.90" height="11.20" fill="#000"/>
<rect x="1154.50" y="602.00" width="3.90" height="11.20" fill="#000"/>
<rect x="1253.75" y="602.00" width="3.90" height="11.20" fill="#000"/>
<text transform="translate(317.34,645.80) scale(1.0846,1)" font-size="33.00" fill="#1a1a1a" stroke="#1a1a1a" stroke-width="0.59" stroke-linejoin="round">-</text>
<text transform="translate(329.94,645.80) scale(1.0869,1)" font-size="33.00" fill="#1a1a1a" stroke="#1a1a1a" stroke-width="0.59" stroke-linejoin="round">10</text>
<text transform="translate(430.40,645.80) scale(1.1196,1)" font-size="33.00" fill="#1a1a1a" stroke="#1a1a1a" stroke-width="0.59" stroke-linejoin="round">-</text>
<text transform="translate(444.17,645.80) scale(0.9337,1)" font-size="33.00" fill="#1a1a1a" stroke="#1a1a1a" stroke-width="0.59" stroke-linejoin="round">5</text>
<text transform="translate(541.44,645.80) scale(1.0001,1)" font-size="33.00" fill="#1a1a1a" stroke="#1a1a1a" stroke-width="0.59" stroke-linejoin="round">0</text>
<text transform="translate(639.57,645.80) scale(0.9337,1)" font-size="33.00" fill="#1a1a1a" stroke="#1a1a1a" stroke-width="0.59" stroke-linejoin="round">5</text>
<text transform="translate(729.35,645.80) scale(0.9824,1)" font-size="33.00" fill="#1a1a1a" stroke="#1a1a1a" stroke-width="0.59" stroke-linejoin="round">10</text>
<text transform="translate(824.04,645.80) scale(1.0846,1)" font-size="33.00" fill="#1a1a1a" stroke="#1a1a1a" stroke-width="0.59" stroke-linejoin="round">-</text>
<text transform="translate(836.64,645.80) scale(1.0869,1)" font-size="33.00" fill="#1a1a1a" stroke="#1a1a1a" stroke-width="0.59" stroke-linejoin="round">10</text>
<text transform="translate(937.10,645.80) scale(1.1196,1)" font-size="33.00" fill="#1a1a1a" stroke="#1a1a1a" stroke-width="0.59" stroke-linejoin="round">-</text>
<text transform="translate(950.87,645.80) scale(0.9337,1)" font-size="33.00" fill="#1a1a1a" stroke="#1a1a1a" stroke-width="0.59" stroke-linejoin="round">5</text>
<text transform="translate(1047.63,645.80) scale(1.0063,1)" font-size="33.00" fill="#1a1a1a" stroke="#1a1a1a" stroke-width="0.59" stroke-linejoin="round">0</text>
<text transform="translate(1146.17,645.80) scale(0.9337,1)" font-size="33.00" fill="#1a1a1a" stroke="#1a1a1a" stroke-width="0.59" stroke-linejoin="round">5</text>
<text transform="translate(1236.02,645.80) scale(0.9973,1)" font-size="33.00" fill="#1a1a1a" stroke="#1a1a1a" stroke-width="0.59" stroke-linejoin="round">10</text>
<text transform="translate(28.54,41.00) scale(0.9218,1)" font-size="54.20" fill="#000" stroke="#000" stroke-width="0.98" stroke-linejoin="round">A</text>
<text transform="translate(404.55,42.70) scale(0.9324,1)" font-size="53.20" fill="#000" stroke="#000" stroke-width="0.96" stroke-linejoin="round">Responders</text>
<text transform="translate(864.44,42.70) scale(0.9663,1)" font-size="53.20" fill="#000" stroke="#000" stroke-width="0.96" stroke-linejoin="round">Non-responders</text>
<text transform="translate(667.45,697.20) scale(0.9432,1)" font-size="49.50" fill="#1a1a1a" stroke="#1a1a1a" stroke-width="0.89" stroke-linejoin="round">fold change</text>
<text transform="translate(206.6,508) rotate(-90) translate(-1.16,0.00) scale(0.9319,1)" font-size="49.00" fill="#1a1a1a" stroke="#1a1a1a" stroke-width="0.88" stroke-linejoin="round">-Log10 [p value]</text>
<text transform="translate(29.27,849.00) scale(0.8451,1)" font-size="53.00" fill="#000" stroke="#000" stroke-width="0.95" stroke-linejoin="round">B</text>
<text transform="translate(116.28,849.00) scale(0.9861,1)" font-size="53.00" fill="#1a1a1a" stroke="#1a1a1a" stroke-width="0.95" stroke-linejoin="round">Reduced methylation</text>
<text transform="translate(116.27,1628.80) scale(0.9891,1)" font-size="53.00" fill="#1a1a1a" stroke="#1a1a1a" stroke-width="0.95" stroke-linejoin="round">Increased methylation</text>
<text transform="translate(789.80,1896.20) scale(0.9652,1)" font-size="48.30" fill="#000" stroke="#000" stroke-width="0.87" stroke-linejoin="round">-Log10 (adjusted p values)</text>
<text transform="translate(333.55,954.30) scale(1.0428,1)" font-size="30.80" fill="#000" stroke="#000" stroke-width="0.55" stroke-linejoin="round">single-organism pr</text>
<rect x="639.80" y="939.20" width="16.20" height="5.40" fill="#000"/>
<rect x="659.00" y="931.40" width="661.40" height="21.00" fill="#000"/>
<text transform="translate(91.16,983.22) scale(1.0592,1)" font-size="30.80" fill="#000" stroke="#000" stroke-width="0.55" stroke-linejoin="round">anatomical structure development</text>
<rect x="639.80" y="968.12" width="16.20" height="5.40" fill="#000"/>
<rect x="659.00" y="960.42" width="645.80" height="20.80" fill="#000"/>
<rect x="661.00" y="961.62" width="642.60" height="18.40" fill="#1c1c1c"/>
<text transform="translate(175.15,1012.14) scale(1.0493,1)" font-size="30.80" fill="#000" stroke="#000" stroke-width="0.55" stroke-linejoin="round">skeletal system development</text>
<rect x="639.80" y="997.04" width="16.20" height="5.40" fill="#000"/>
<rect x="659.00" y="989.34" width="595.10" height="20.80" fill="#000"/>
<rect x="661.00" y="990.54" width="591.90" height="18.40" fill="#1c1c1c"/>
<text transform="translate(348.45,1041.06) scale(1.0751,1)" font-size="30.80" fill="#000" stroke="#000" stroke-width="0.55" stroke-linejoin="round">developmental pr</text>
<rect x="639.80" y="1025.96" width="16.20" height="5.40" fill="#000"/>
<rect x="659.00" y="1018.26" width="511.80" height="20.80" fill="#000"/>
<rect x="661.00" y="1019.46" width="508.60" height="18.40" fill="#1c1c1c"/>
<text transform="translate(92.44,1069.98) scale(1.0573,1)" font-size="30.80" fill="#000" stroke="#000" stroke-width="0.55" stroke-linejoin="round">single-organism developmental pr</text>
<rect x="639.80" y="1054.88" width="16.20" height="5.40" fill="#000"/>
<rect x="659.00" y="1047.18" width="503.20" height="20.80" fill="#000"/>
<rect x="661.00" y="1048.38" width="500.00" height="18.40" fill="#1c1c1c"/>
<text transform="translate(318.12,1098.90) scale(1.0711,1)" font-size="30.80" fill="#000" stroke="#000" stroke-width="0.55" stroke-linejoin="round">organ development</text>
<rect x="639.80" y="1083.80" width="16.20" height="5.40" fill="#000"/>
<rect x="659.00" y="1076.10" width="483.90" height="20.80" fill="#000"/>
<rect x="661.00" y="1077.30" width="480.70" height="18.40" fill="#1c1c1c"/>
<text transform="translate(302.14,1127.82) scale(1.0510,1)" font-size="30.80" fill="#000" stroke="#000" stroke-width="0.55" stroke-linejoin="round">system development</text>
<rect x="639.80" y="1112.72" width="16.20" height="5.40" fill="#000"/>
<rect x="659.00" y="1105.02" width="478.00" height="20.80" fill="#000"/>
<rect x="661.00" y="1106.22" width="474.80" height="18.40" fill="#1c1c1c"/>
<text transform="translate(385.18,1156.74) scale(1.0149,1)" font-size="30.80" fill="#000" stroke="#000" stroke-width="0.55" stroke-linejoin="round">cellular process</text>
<rect x="639.80" y="1141.64" width="16.20" height="5.40" fill="#000"/>
<rect x="659.00" y="1133.94" width="463.90" height="20.80" fill="#000"/>
<rect x="661.00" y="1135.14" width="460.70" height="18.40" fill="#1c1c1c"/>
<text transform="translate(429.67,1185.66) scale(1.0537,1)" font-size="30.80" fill="#000" stroke="#000" stroke-width="0.55" stroke-linejoin="round">biological pr</text>
<rect x="639.80" y="1170.56" width="16.20" height="5.40" fill="#000"/>
<rect x="659.00" y="1162.86" width="441.90" height="20.80" fill="#000"/>
<rect x="661.00" y="1164.06" width="438.70" height="18.40" fill="#1c1c1c"/>
<text transform="translate(131.64,1214.58) scale(1.0508,1)" font-size="30.80" fill="#000" stroke="#000" stroke-width="0.55" stroke-linejoin="round">single-multicellular organism pr</text>
<rect x="639.80" y="1199.48" width="16.20" height="5.40" fill="#000"/>
<rect x="659.00" y="1191.78" width="428.70" height="20.80" fill="#000"/>
<rect x="661.00" y="1192.98" width="425.50" height="18.40" fill="#1c1c1c"/>
<text transform="translate(284.15,1243.50) scale(1.0486,1)" font-size="30.80" fill="#000" stroke="#000" stroke-width="0.55" stroke-linejoin="round">organ morphogenesis</text>
<rect x="639.80" y="1228.40" width="16.20" height="5.40" fill="#000"/>
<rect x="659.00" y="1220.70" width="414.90" height="20.80" fill="#000"/>
<rect x="661.00" y="1221.90" width="411.70" height="18.40" fill="#1c1c1c"/>
<text transform="translate(207.16,1272.42) scale(1.0554,1)" font-size="30.80" fill="#000" stroke="#000" stroke-width="0.55" stroke-linejoin="round">multicellular organismal pr</text>
<rect x="639.80" y="1257.32" width="16.20" height="5.40" fill="#000"/>
<rect x="659.00" y="1249.62" width="382.10" height="20.80" fill="#000"/>
<rect x="661.00" y="1250.82" width="378.90" height="18.40" fill="#1c1c1c"/>
<text transform="translate(34.65,1301.34) scale(1.0632,1)" font-size="30.80" fill="#000" stroke="#000" stroke-width="0.55" stroke-linejoin="round">multicellular organismal development</text>
<rect x="639.80" y="1286.24" width="16.20" height="5.40" fill="#000"/>
<rect x="659.00" y="1278.54" width="379.80" height="20.80" fill="#000"/>
<rect x="661.00" y="1279.74" width="376.60" height="18.40" fill="#1c1c1c"/>
<text transform="translate(213.16,1330.26) scale(1.0402,1)" font-size="30.80" fill="#000" stroke="#000" stroke-width="0.55" stroke-linejoin="round">single-organism cellular pr</text>
<rect x="639.80" y="1315.16" width="16.20" height="5.40" fill="#000"/>
<rect x="659.00" y="1307.46" width="378.90" height="20.80" fill="#000"/>
<rect x="661.00" y="1308.66" width="375.70" height="18.40" fill="#1c1c1c"/>
<text transform="translate(302.14,1359.18) scale(1.0688,1)" font-size="30.80" fill="#000" stroke="#000" stroke-width="0.55" stroke-linejoin="round">biological regulation</text>
<rect x="639.80" y="1344.08" width="16.20" height="5.40" fill="#000"/>
<rect x="659.00" y="1336.38" width="361.60" height="20.80" fill="#000"/>
<rect x="661.00" y="1337.58" width="358.40" height="18.40" fill="#1c1c1c"/>
<text transform="translate(-0.34,1388.10) scale(1.0581,1)" font-size="30.80" fill="#000" stroke="#000" stroke-width="0.55" stroke-linejoin="round">regulation of multicellular organismal pr</text>
<rect x="639.80" y="1373.00" width="16.20" height="5.40" fill="#000"/>
<rect x="659.00" y="1365.30" width="341.90" height="20.80" fill="#000"/>
<rect x="661.00" y="1366.50" width="338.70" height="18.40" fill="#1c1c1c"/>
<text transform="translate(241.50,1417.02) scale(1.0346,1)" font-size="30.80" fill="#000" stroke="#000" stroke-width="0.55" stroke-linejoin="round">Ca-dep cell-cell adhesion</text>
<rect x="639.80" y="1401.92" width="16.20" height="5.40" fill="#000"/>
<rect x="659.00" y="1394.22" width="323.70" height="20.80" fill="#000"/>
<rect x="661.00" y="1395.42" width="320.50" height="18.40" fill="#1c1c1c"/>
<text transform="translate(130.63,1445.94) scale(1.0721,1)" font-size="30.80" fill="#000" stroke="#000" stroke-width="0.55" stroke-linejoin="round">regulation of cell differentiation</text>
<rect x="639.80" y="1430.84" width="16.20" height="5.40" fill="#000"/>
<rect x="659.00" y="1423.14" width="301.40" height="20.80" fill="#000"/>
<rect x="661.00" y="1424.34" width="298.20" height="18.40" fill="#1c1c1c"/>
<text transform="translate(141.66,1474.86) scale(1.0344,1)" font-size="30.80" fill="#000" stroke="#000" stroke-width="0.55" stroke-linejoin="round">skeletal system morphogenesis</text>
<rect x="639.80" y="1459.76" width="16.20" height="5.40" fill="#000"/>
<rect x="659.00" y="1452.06" width="272.70" height="20.80" fill="#000"/>
<rect x="661.00" y="1453.26" width="269.50" height="18.40" fill="#1c1c1c"/>
<rect x="655.70" y="922.80" width="5.60" height="579.20" fill="#000"/>
<rect x="655.70" y="1478.00" width="832.30" height="5.50" fill="#000"/>
<rect x="655.70" y="1480.00" width="5.60" height="22.00" fill="#000"/>
<text transform="translate(647.61,1544.00) scale(0.9359,1)" font-size="42.30" fill="#000">0</text>
<rect x="862.37" y="1480.00" width="5.60" height="22.00" fill="#000"/>
<text transform="translate(855.71,1544.00) scale(0.7042,1)" font-size="42.30" fill="#000">1</text>
<rect x="1069.04" y="1480.00" width="5.60" height="22.00" fill="#000"/>
<text transform="translate(1060.82,1544.00) scale(0.9312,1)" font-size="42.30" fill="#000">2</text>
<rect x="1275.71" y="1480.00" width="5.60" height="22.00" fill="#000"/>
<text transform="translate(1267.30,1544.00) scale(0.9504,1)" font-size="42.30" fill="#000">3</text>
<rect x="1482.38" y="1480.00" width="5.60" height="22.00" fill="#000"/>
<text transform="translate(1472.97,1544.00) scale(0.9894,1)" font-size="42.30" fill="#000">4</text>
<text transform="translate(229.86,1703.30) scale(1.0364,1)" font-size="30.80" fill="#000" stroke="#000" stroke-width="0.55" stroke-linejoin="round">single organism signaling</text>
<rect x="642.00" y="1687.60" width="16.50" height="5.60" fill="#000"/>
<rect x="661.00" y="1679.80" width="548.20" height="21.20" fill="#000"/>
<text transform="translate(481.85,1732.30) scale(1.0485,1)" font-size="30.80" fill="#000" stroke="#000" stroke-width="0.55" stroke-linejoin="round">signaling</text>
<rect x="642.00" y="1716.60" width="16.50" height="5.60" fill="#000"/>
<rect x="661.00" y="1708.80" width="543.80" height="21.20" fill="#000"/>
<text transform="translate(323.45,1761.00) scale(1.0434,1)" font-size="30.80" fill="#000" stroke="#000" stroke-width="0.55" stroke-linejoin="round">cell communication</text>
<rect x="642.00" y="1745.50" width="16.50" height="5.60" fill="#000"/>
<rect x="661.00" y="1737.70" width="505.00" height="21.20" fill="#000"/>
<rect x="658.00" y="1672.70" width="5.40" height="116.00" fill="#000"/>
<rect x="658.00" y="1763.40" width="831.60" height="6.10" fill="#000"/>
<rect x="657.90" y="1766.00" width="5.60" height="22.70" fill="#000"/>
<text transform="translate(648.89,1829.20) scale(1.0187,1)" font-size="42.30" fill="#000">0</text>
<rect x="933.30" y="1766.00" width="5.60" height="22.70" fill="#000"/>
<text transform="translate(925.39,1829.20) scale(0.7142,1)" font-size="42.30" fill="#000">1</text>
<rect x="1208.70" y="1766.00" width="5.60" height="22.70" fill="#000"/>
<text transform="translate(1200.61,1829.20) scale(0.9360,1)" font-size="42.30" fill="#000">2</text>
<rect x="1484.10" y="1766.00" width="5.60" height="22.70" fill="#000"/>
<text transform="translate(1477.17,1829.20) scale(0.9835,1)" font-size="42.30" fill="#000">3</text>
</svg>
</body></html>
